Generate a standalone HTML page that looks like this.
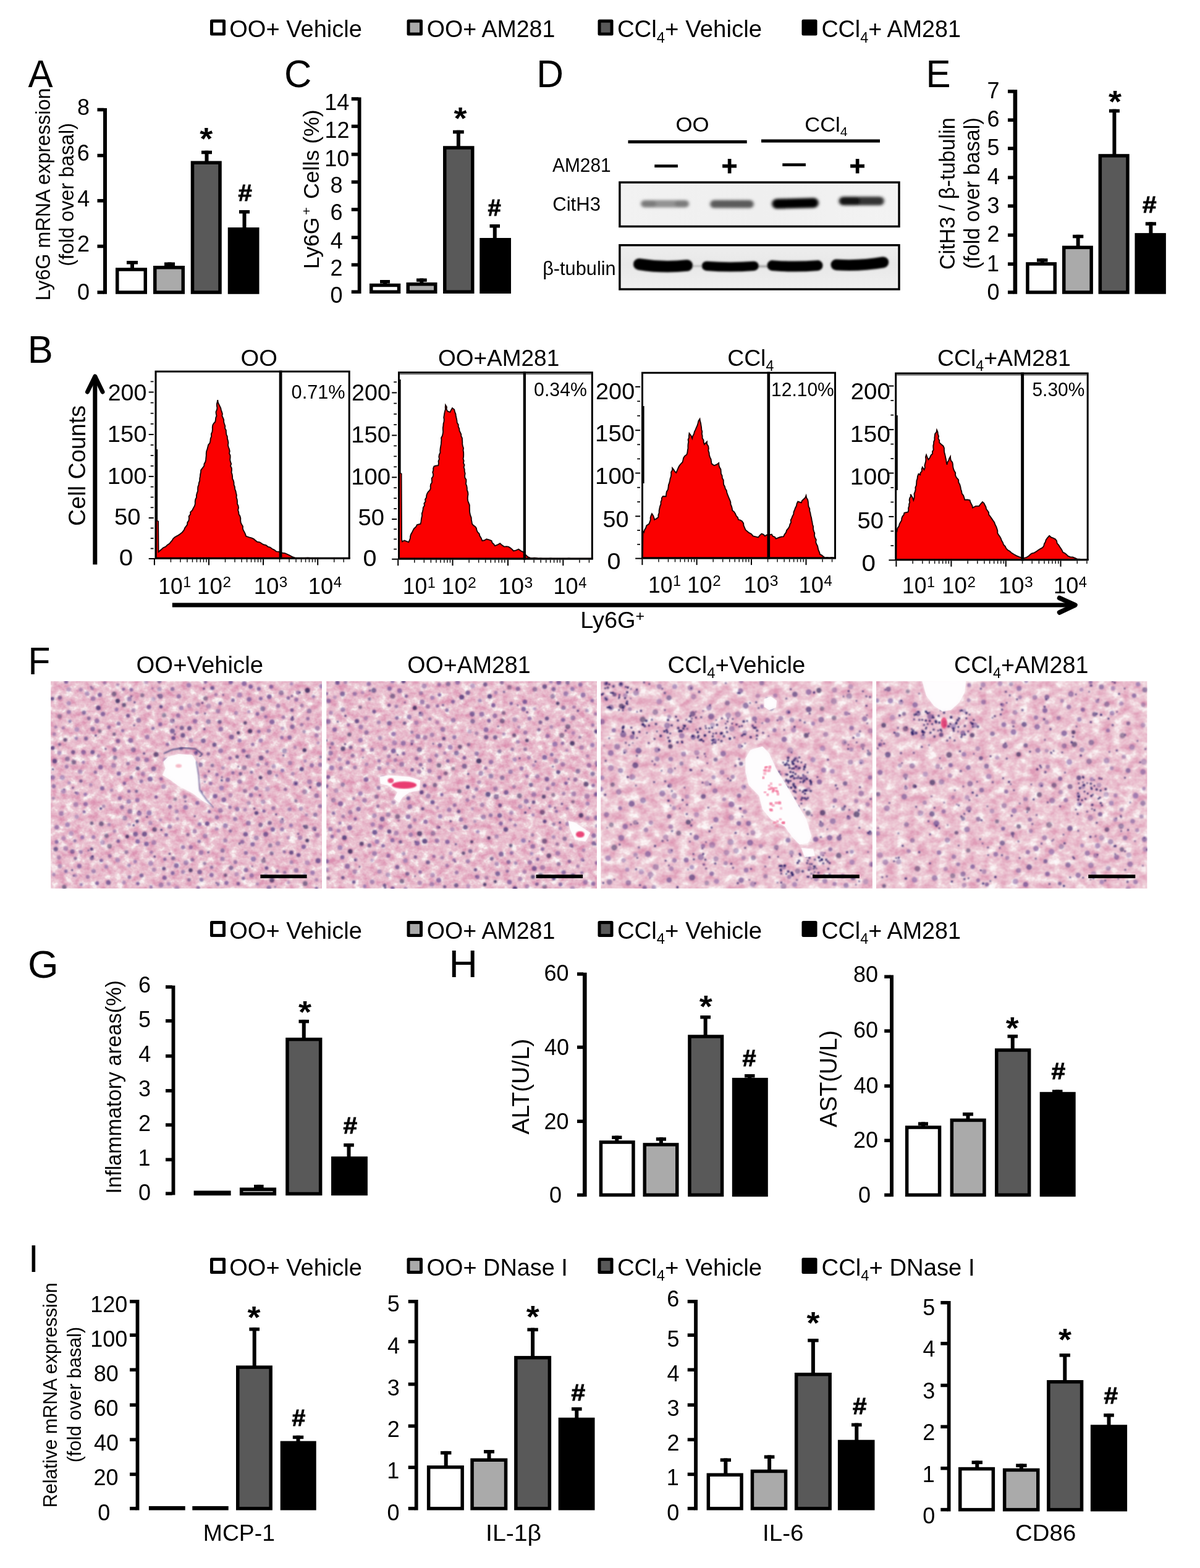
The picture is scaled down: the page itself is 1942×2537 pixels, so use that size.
<!DOCTYPE html>
<html lang="en"><head><meta charset="utf-8"><title>Figure</title>
<style>html,body{margin:0;padding:0;background:#fff}svg{display:block}text{font-family:'Liberation Sans', Arial, Helvetica, sans-serif;fill:#000}</style></head><body>
<svg width="1942" height="2537" viewBox="0 0 1942 2537">
<rect width="1942" height="2537" fill="#fff"/>
<rect x="340" y="31.6" width="25" height="26" rx="2.5" fill="#000"/>
<rect x="345" y="36.6" width="15" height="16" fill="#ffffff"/>
<text transform="translate(371.29 60.4) scale(1.0094 1.0350)" font-size="37.7">OO+ Vehicle</text>
<rect x="658.5" y="31.6" width="25.5" height="26" rx="2.5" fill="#000"/>
<rect x="663.5" y="36.6" width="15.5" height="16" fill="#aaaaaa"/>
<text transform="translate(690.81 60.4) scale(0.9957 1.0350)" font-size="37.7">OO+ AM281</text>
<rect x="967.5" y="31.6" width="25" height="26" rx="2.5" fill="#000"/>
<rect x="972.5" y="36.6" width="15" height="16" fill="#595959"/>
<text transform="translate(998.88 60.4) scale(1.0188 1.0350)" font-size="37.7">CCl<tspan font-size="23.37" dy="8.11">4</tspan><tspan dy="-8.11">+ Vehicle</tspan></text>
<rect x="1297.5" y="31.6" width="25" height="26" rx="2.5" fill="#000"/>
<text transform="translate(1329.42 60.4) scale(0.9995 1.0350)" font-size="37.7">CCl<tspan font-size="23.37" dy="8.11">4</tspan><tspan dy="-8.11">+ AM281</tspan></text>
<rect x="340" y="1490.1" width="25" height="26" rx="2.5" fill="#000"/>
<rect x="345" y="1495.1" width="15" height="16" fill="#ffffff"/>
<text transform="translate(371.29 1518.9) scale(1.0094 1.0350)" font-size="37.7">OO+ Vehicle</text>
<rect x="658.5" y="1490.1" width="25.5" height="26" rx="2.5" fill="#000"/>
<rect x="663.5" y="1495.1" width="15.5" height="16" fill="#aaaaaa"/>
<text transform="translate(690.81 1518.9) scale(0.9957 1.0350)" font-size="37.7">OO+ AM281</text>
<rect x="967.5" y="1490.1" width="25" height="26" rx="2.5" fill="#000"/>
<rect x="972.5" y="1495.1" width="15" height="16" fill="#595959"/>
<text transform="translate(998.88 1518.9) scale(1.0188 1.0350)" font-size="37.7">CCl<tspan font-size="23.37" dy="8.11">4</tspan><tspan dy="-8.11">+ Vehicle</tspan></text>
<rect x="1297.5" y="1490.1" width="25" height="26" rx="2.5" fill="#000"/>
<text transform="translate(1329.42 1518.9) scale(0.9995 1.0350)" font-size="37.7">CCl<tspan font-size="23.37" dy="8.11">4</tspan><tspan dy="-8.11">+ AM281</tspan></text>
<rect x="340" y="2035.1" width="25" height="26" rx="2.5" fill="#000"/>
<rect x="345" y="2040.1" width="15" height="16" fill="#ffffff"/>
<text transform="translate(371.29 2063.9) scale(1.0094 1.0350)" font-size="37.7">OO+ Vehicle</text>
<rect x="658.5" y="2035.1" width="25.5" height="26" rx="2.5" fill="#000"/>
<rect x="663.5" y="2040.1" width="15.5" height="16" fill="#aaaaaa"/>
<text transform="translate(690.6 2063.9) scale(1.0043 1.0350)" font-size="37.7">OO+ DNase I</text>
<rect x="967.5" y="2035.1" width="25" height="26" rx="2.5" fill="#000"/>
<rect x="972.5" y="2040.1" width="15" height="16" fill="#595959"/>
<text transform="translate(998.88 2063.9) scale(1.0188 1.0350)" font-size="37.7">CCl<tspan font-size="23.37" dy="8.11">4</tspan><tspan dy="-8.11">+ Vehicle</tspan></text>
<rect x="1297.5" y="2035.1" width="25" height="26" rx="2.5" fill="#000"/>
<text transform="translate(1329.59 2063.9) scale(1.0143 1.0350)" font-size="37.7">CCl<tspan font-size="23.37" dy="8.11">4</tspan><tspan dy="-8.11">+ DNase I</tspan></text>
<text transform="translate(45.5 140.75) scale(1.0025 1.0350)" font-size="60">A</text>
<text transform="translate(459.93 141.2) scale(1.0236 1.0350)" font-size="60">C</text>
<text transform="translate(868.16 141) scale(1.0084 1.0350)" font-size="60">D</text>
<text transform="translate(1498.5 140.8) scale(1.0000 1.0350)" font-size="60">E</text>
<text transform="translate(44.78 587) scale(1.0249 1.0350)" font-size="60">B</text>
<text transform="translate(45.5 1090.8) scale(0.9796 1.0350)" font-size="60">F</text>
<text transform="translate(45.01 1581.5) scale(1.0636 1.0350)" font-size="60">G</text>
<text transform="translate(726.56 1581.4) scale(1.0714 1.0350)" font-size="60">H</text>
<text transform="translate(45.9 2057.7) scale(1.0000 1.0350)" font-size="60">I</text>
<rect x="167" y="175" width="6" height="300.75" fill="#000000"/>
<rect x="157.5" y="174.75" width="10.5" height="5.5" fill="#000000"/>
<rect x="157.5" y="248.85" width="10.5" height="5.5" fill="#000000"/>
<rect x="157.5" y="322.05" width="10.5" height="5.5" fill="#000000"/>
<rect x="157.5" y="395.75" width="10.5" height="5.5" fill="#000000"/>
<rect x="157.5" y="470.25" width="10.5" height="5.5" fill="#000000"/>
<text transform="translate(124.92 186.36) scale(1.0000 1.0350)" font-size="36">8</text>
<text transform="translate(124.83 259.86) scale(1.0000 1.0350)" font-size="36">6</text>
<text transform="translate(125.19 334.46) scale(1.0000 1.0350)" font-size="36">4</text>
<text transform="translate(125.01 407.36) scale(1.0000 1.0350)" font-size="36">2</text>
<text transform="translate(124.92 484.86) scale(1.0000 1.0350)" font-size="36">0</text>
<rect x="187" y="433.25" width="51" height="42.5" fill="#000000"/>
<rect x="192.5" y="438.75" width="40" height="31.5" fill="#ffffff"/>
<rect x="248" y="430" width="51" height="45.75" fill="#000000"/>
<rect x="253.5" y="435.5" width="40" height="34.75" fill="#aaaaaa"/>
<rect x="308.75" y="260.5" width="50" height="215.25" fill="#000000"/>
<rect x="314.25" y="266" width="39" height="204.25" fill="#595959"/>
<rect x="368.75" y="368" width="50.75" height="107.75" fill="#000000"/>
<rect x="205" y="422" width="18" height="5.5" fill="#000000"/>
<rect x="211" y="422" width="6" height="12.25" fill="#000000"/>
<rect x="266" y="424.5" width="17" height="5.5" fill="#000000"/>
<rect x="271.5" y="424.5" width="6" height="6.5" fill="#000000"/>
<rect x="326" y="243.75" width="17" height="5.5" fill="#000000"/>
<rect x="331.5" y="243.75" width="6" height="17.75" fill="#000000"/>
<rect x="387" y="340" width="17" height="5.5" fill="#000000"/>
<rect x="392.5" y="340" width="6" height="29" fill="#000000"/>
<text transform="translate(323.22 242.11) scale(1.0000 0.9300)" font-size="54" font-weight="bold">*</text>
<text transform="translate(385.4 324.5) scale(1.0959 1.0350)" font-size="36.5" font-weight="bold" stroke="#000" stroke-width="0.9">#</text>
<text transform="translate(81.25 486.59) rotate(-90) scale(1.0114 1.0350)" font-size="32">Ly6G mRNA expression</text>
<text transform="translate(118.75 430.69) rotate(-90) scale(1.0102 1.0350)" font-size="32">(fold over basal)</text>
<rect x="578.75" y="157.5" width="5.75" height="317.5" fill="#000000"/>
<rect x="568.75" y="157.25" width="11" height="5.5" fill="#000000"/>
<rect x="568.75" y="201.65" width="11" height="5.5" fill="#000000"/>
<rect x="568.75" y="247" width="11" height="5.5" fill="#000000"/>
<rect x="568.75" y="291.75" width="11" height="5.5" fill="#000000"/>
<rect x="568.75" y="336.25" width="11" height="5.5" fill="#000000"/>
<rect x="568.75" y="381.5" width="11" height="5.5" fill="#000000"/>
<rect x="568.75" y="425.75" width="11" height="5.5" fill="#000000"/>
<rect x="568.75" y="469.5" width="11" height="5.5" fill="#000000"/>
<text transform="translate(525.21 177.96) scale(1.0000 1.0350)" font-size="36">14</text>
<text transform="translate(525.57 222.96) scale(1.0000 1.0350)" font-size="36">12</text>
<text transform="translate(525.3 268.56) scale(1.0000 1.0350)" font-size="36">10</text>
<text transform="translate(534.52 311.96) scale(1.0000 1.0350)" font-size="36">8</text>
<text transform="translate(534.43 355.86) scale(1.0000 1.0350)" font-size="36">6</text>
<text transform="translate(534.79 401.71) scale(1.0000 1.0350)" font-size="36">4</text>
<text transform="translate(534.61 445.96) scale(1.0000 1.0350)" font-size="36">2</text>
<text transform="translate(534.52 489.96) scale(1.0000 1.0350)" font-size="36">0</text>
<rect x="598" y="458.75" width="50.25" height="16.25" fill="#000000"/>
<rect x="603.5" y="464.25" width="39.25" height="5.25" fill="#ffffff"/>
<rect x="657.5" y="457" width="50" height="18" fill="#000000"/>
<rect x="663" y="462.5" width="39" height="7" fill="#aaaaaa"/>
<rect x="717" y="236.25" width="50.5" height="238.75" fill="#000000"/>
<rect x="722.5" y="241.75" width="39.5" height="227.75" fill="#595959"/>
<rect x="776.25" y="385" width="50.75" height="90" fill="#000000"/>
<rect x="615" y="453" width="16" height="5.5" fill="#000000"/>
<rect x="620" y="453" width="6" height="6.75" fill="#000000"/>
<rect x="674" y="450.5" width="16.75" height="5.5" fill="#000000"/>
<rect x="679.38" y="450.5" width="6" height="7.5" fill="#000000"/>
<rect x="733" y="210.75" width="17.75" height="5.5" fill="#000000"/>
<rect x="738.88" y="210.75" width="6" height="26.5" fill="#000000"/>
<rect x="792.5" y="363" width="16.5" height="5.5" fill="#000000"/>
<rect x="797.75" y="363" width="6" height="23" fill="#000000"/>
<text transform="translate(734.47 209.49) scale(1.0000 0.9300)" font-size="54" font-weight="bold">*</text>
<text transform="translate(789.43 348.75) scale(1.0437 1.0350)" font-size="36.5" font-weight="bold" stroke="#000" stroke-width="0.9">#</text>
<text transform="translate(515.5 435.36) rotate(-90) scale(1.0656 1.0350)" font-size="33.5">Ly6G<tspan font-size="20.1" dy="-11.72" dx="3.5">+</tspan><tspan dy="11.72" dx="3"> Cells (%)</tspan></text>
<rect x="1639.6" y="145.2" width="6.6" height="330.5" fill="#000000"/>
<rect x="1631" y="145.15" width="9.6" height="5.5" fill="#000000"/>
<rect x="1631" y="191.45" width="9.6" height="5.5" fill="#000000"/>
<rect x="1631" y="237.45" width="9.6" height="5.5" fill="#000000"/>
<rect x="1631" y="284.55" width="9.6" height="5.5" fill="#000000"/>
<rect x="1631" y="330.55" width="9.6" height="5.5" fill="#000000"/>
<rect x="1631" y="377.65" width="9.6" height="5.5" fill="#000000"/>
<rect x="1631" y="424.45" width="9.6" height="5.5" fill="#000000"/>
<rect x="1631" y="470.15" width="9.6" height="5.5" fill="#000000"/>
<text transform="translate(1597.61 158.66) scale(1.0000 1.0350)" font-size="36">7</text>
<text transform="translate(1597.43 204.66) scale(1.0000 1.0350)" font-size="36">6</text>
<text transform="translate(1597.61 250.96) scale(1.0000 1.0350)" font-size="36">5</text>
<text transform="translate(1597.79 298.36) scale(1.0000 1.0350)" font-size="36">4</text>
<text transform="translate(1597.61 344.96) scale(1.0000 1.0350)" font-size="36">3</text>
<text transform="translate(1597.61 391.46) scale(1.0000 1.0350)" font-size="36">2</text>
<text transform="translate(1597.07 439.36) scale(1.0000 1.0350)" font-size="36">1</text>
<text transform="translate(1597.52 485.36) scale(1.0000 1.0350)" font-size="36">0</text>
<rect x="1660.2" y="424.2" width="49.8" height="51.5" fill="#000000"/>
<rect x="1665.7" y="429.7" width="38.8" height="40.5" fill="#ffffff"/>
<rect x="1719" y="397.6" width="49.9" height="78.1" fill="#000000"/>
<rect x="1724.5" y="403.1" width="38.9" height="67.1" fill="#aaaaaa"/>
<rect x="1777.6" y="249.2" width="50.1" height="226.5" fill="#000000"/>
<rect x="1783.1" y="254.7" width="39.1" height="215.5" fill="#595959"/>
<rect x="1836.5" y="377.1" width="50.4" height="98.6" fill="#000000"/>
<rect x="1678" y="418.2" width="17.5" height="5.5" fill="#000000"/>
<rect x="1683.75" y="418.2" width="6" height="7" fill="#000000"/>
<rect x="1736" y="379.8" width="17.3" height="5.5" fill="#000000"/>
<rect x="1741.65" y="379.8" width="6" height="18.8" fill="#000000"/>
<rect x="1794.9" y="176.7" width="17" height="5.5" fill="#000000"/>
<rect x="1800.4" y="176.7" width="6" height="73.5" fill="#000000"/>
<rect x="1853.8" y="359.3" width="17.2" height="5.5" fill="#000000"/>
<rect x="1859.4" y="359.3" width="6" height="18.8" fill="#000000"/>
<text transform="translate(1793.97 181.76) scale(1.0000 0.9300)" font-size="54" font-weight="bold">*</text>
<text transform="translate(1849.09 344.2) scale(1.1115 1.0350)" font-size="36.5" font-weight="bold" stroke="#000" stroke-width="0.9">#</text>
<text transform="translate(1545 436.31) rotate(-90) scale(1.0193 1.0350)" font-size="33.6">CitH3 / β-tubulin</text>
<text transform="translate(1585.4 435.25) rotate(-90) scale(1.0177 1.0350)" font-size="33.6">(fold over basal)</text>
<rect x="277.6" y="1594.6" width="5.8" height="338.9" fill="#000000"/>
<rect x="268" y="1594.15" width="10.6" height="5.5" fill="#000000"/>
<rect x="268" y="1649.05" width="10.6" height="5.5" fill="#000000"/>
<rect x="268" y="1705.95" width="10.6" height="5.5" fill="#000000"/>
<rect x="268" y="1762.05" width="10.6" height="5.5" fill="#000000"/>
<rect x="268" y="1817.35" width="10.6" height="5.5" fill="#000000"/>
<rect x="268" y="1873.55" width="10.6" height="5.5" fill="#000000"/>
<rect x="268" y="1928.45" width="10.6" height="5.5" fill="#000000"/>
<text transform="translate(223.93 1605.96) scale(1.0000 1.0350)" font-size="36">6</text>
<text transform="translate(224.11 1661.66) scale(1.0000 1.0350)" font-size="36">5</text>
<text transform="translate(224.29 1717.86) scale(1.0000 1.0350)" font-size="36">4</text>
<text transform="translate(224.11 1773.96) scale(1.0000 1.0350)" font-size="36">3</text>
<text transform="translate(224.11 1830.36) scale(1.0000 1.0350)" font-size="36">2</text>
<text transform="translate(223.57 1886.16) scale(1.0000 1.0350)" font-size="36">1</text>
<text transform="translate(224.02 1942.26) scale(1.0000 1.0350)" font-size="36">0</text>
<rect x="313.6" y="1926.5" width="60" height="7.8" fill="#000000"/>
<rect x="387.9" y="1921.5" width="59.2" height="12.8" fill="#000000"/>
<rect x="393.4" y="1927" width="48.2" height="1.8" fill="#aaaaaa"/>
<rect x="462.2" y="1678.9" width="59.2" height="255.4" fill="#000000"/>
<rect x="467.7" y="1684.4" width="48.2" height="244.4" fill="#595959"/>
<rect x="536" y="1871.2" width="58.9" height="63.1" fill="#000000"/>
<rect x="411" y="1916.9" width="15.6" height="5.5" fill="#000000"/>
<rect x="415.8" y="1916.9" width="6" height="5.6" fill="#000000"/>
<rect x="483.5" y="1649.9" width="16.5" height="5.5" fill="#000000"/>
<rect x="488.75" y="1649.9" width="6" height="30" fill="#000000"/>
<rect x="556.2" y="1850" width="16.6" height="5.5" fill="#000000"/>
<rect x="561.5" y="1850" width="6" height="22.2" fill="#000000"/>
<text transform="translate(482.97 1654.96) scale(1.0000 0.9300)" font-size="54" font-weight="bold">*</text>
<text transform="translate(555.59 1833.7) scale(1.1115 1.0350)" font-size="36.5" font-weight="bold" stroke="#000" stroke-width="0.9">#</text>
<text transform="translate(195.6 1931.58) rotate(-90) scale(1.0144 1.0350)" font-size="33.7">Inflammatory areas(%)</text>
<rect x="943" y="1573.7" width="6.6" height="362.5" fill="#000000"/>
<rect x="934" y="1573.25" width="10" height="5.5" fill="#000000"/>
<rect x="934" y="1691.65" width="10" height="5.5" fill="#000000"/>
<rect x="934" y="1811.55" width="10" height="5.5" fill="#000000"/>
<rect x="934" y="1930.75" width="10" height="5.5" fill="#000000"/>
<text transform="translate(880.45 1586.66) scale(1.0000 1.0350)" font-size="36">60</text>
<text transform="translate(880.99 1707.36) scale(1.0000 1.0350)" font-size="36">40</text>
<text transform="translate(880.45 1827.26) scale(1.0000 1.0350)" font-size="36">20</text>
<text transform="translate(888.92 1946.46) scale(1.0000 1.0350)" font-size="36">0</text>
<rect x="969.7" y="1845.3" width="58" height="90.9" fill="#000000"/>
<rect x="975.2" y="1850.8" width="47" height="79.9" fill="#ffffff"/>
<rect x="1040.5" y="1849.2" width="58" height="87" fill="#000000"/>
<rect x="1046" y="1854.7" width="47" height="76" fill="#aaaaaa"/>
<rect x="1113.2" y="1674.3" width="58.1" height="261.9" fill="#000000"/>
<rect x="1118.7" y="1679.8" width="47.1" height="250.9" fill="#595959"/>
<rect x="1184.8" y="1743.9" width="58" height="192.3" fill="#000000"/>
<rect x="990.2" y="1837.6" width="16.2" height="5.5" fill="#000000"/>
<rect x="995.3" y="1837.6" width="6" height="8.7" fill="#000000"/>
<rect x="1061.8" y="1840.3" width="16.2" height="5.5" fill="#000000"/>
<rect x="1066.9" y="1840.3" width="6" height="9.9" fill="#000000"/>
<rect x="1133.3" y="1643" width="16.7" height="5.5" fill="#000000"/>
<rect x="1138.65" y="1643" width="6" height="32.3" fill="#000000"/>
<rect x="1205" y="1738" width="16.5" height="5.5" fill="#000000"/>
<rect x="1210.25" y="1738" width="6" height="6.9" fill="#000000"/>
<text transform="translate(1131.67 1646.26) scale(1.0000 0.9300)" font-size="54" font-weight="bold">*</text>
<text transform="translate(1201.61 1725.4) scale(1.0855 1.0350)" font-size="36.5" font-weight="bold" stroke="#000" stroke-width="0.9">#</text>
<text transform="translate(855.5 1835.6) rotate(-90) scale(1.0395 1.0350)" font-size="37.5">ALT(U/L)</text>
<rect x="1440.1" y="1577.6" width="5.9" height="358.6" fill="#000000"/>
<rect x="1431.2" y="1577.55" width="9.9" height="5.5" fill="#000000"/>
<rect x="1431.2" y="1665.35" width="9.9" height="5.5" fill="#000000"/>
<rect x="1431.2" y="1754.35" width="9.9" height="5.5" fill="#000000"/>
<rect x="1431.2" y="1842.55" width="9.9" height="5.5" fill="#000000"/>
<rect x="1431.2" y="1930.75" width="9.9" height="5.5" fill="#000000"/>
<text transform="translate(1381.04 1589.36) scale(1.0000 1.0350)" font-size="36">80</text>
<text transform="translate(1380.95 1679.16) scale(1.0000 1.0350)" font-size="36">60</text>
<text transform="translate(1381.49 1769.26) scale(1.0000 1.0350)" font-size="36">40</text>
<text transform="translate(1380.95 1857.46) scale(1.0000 1.0350)" font-size="36">20</text>
<text transform="translate(1388.92 1946.46) scale(1.0000 1.0350)" font-size="36">0</text>
<rect x="1464.9" y="1821.3" width="58.4" height="114.9" fill="#000000"/>
<rect x="1470.4" y="1826.8" width="47.4" height="103.9" fill="#ffffff"/>
<rect x="1537.6" y="1809.7" width="58.1" height="126.5" fill="#000000"/>
<rect x="1543.1" y="1815.2" width="47.1" height="115.5" fill="#aaaaaa"/>
<rect x="1610" y="1696.3" width="58.4" height="239.9" fill="#000000"/>
<rect x="1615.5" y="1701.8" width="47.4" height="228.9" fill="#595959"/>
<rect x="1682.7" y="1766.8" width="58" height="169.4" fill="#000000"/>
<rect x="1486" y="1815.5" width="16" height="5.5" fill="#000000"/>
<rect x="1491" y="1815.5" width="6" height="6.8" fill="#000000"/>
<rect x="1558" y="1800" width="17" height="5.5" fill="#000000"/>
<rect x="1563.5" y="1800" width="6" height="10.7" fill="#000000"/>
<rect x="1630.5" y="1674" width="16.5" height="5.5" fill="#000000"/>
<rect x="1635.75" y="1674" width="6" height="23.3" fill="#000000"/>
<rect x="1703" y="1763.3" width="16.5" height="5.5" fill="#000000"/>
<rect x="1708.25" y="1763.3" width="6" height="4.5" fill="#000000"/>
<text transform="translate(1627.67 1681.06) scale(1.0000 0.9300)" font-size="54" font-weight="bold">*</text>
<text transform="translate(1701.39 1745.5) scale(1.1115 1.0350)" font-size="36.5" font-weight="bold" stroke="#000" stroke-width="0.9">#</text>
<text transform="translate(1353.8 1824) rotate(-90) scale(1.0050 1.0350)" font-size="37.5">AST(U/L)</text>
<rect x="219.6" y="2103" width="5.8" height="340.5" fill="#000000"/>
<rect x="210" y="2103.05" width="10.6" height="5.5" fill="#000000"/>
<rect x="210" y="2157.45" width="10.6" height="5.5" fill="#000000"/>
<rect x="210" y="2213.55" width="10.6" height="5.5" fill="#000000"/>
<rect x="210" y="2270.45" width="10.6" height="5.5" fill="#000000"/>
<rect x="210" y="2326.55" width="10.6" height="5.5" fill="#000000"/>
<rect x="210" y="2382.65" width="10.6" height="5.5" fill="#000000"/>
<rect x="210" y="2437.95" width="10.6" height="5.5" fill="#000000"/>
<text transform="translate(146.31 2122.96) scale(1.0000 1.0350)" font-size="36">120</text>
<text transform="translate(146.31 2178.96) scale(1.0000 1.0350)" font-size="36">100</text>
<text transform="translate(151.64 2235.06) scale(1.0000 1.0350)" font-size="36">80</text>
<text transform="translate(151.55 2291.16) scale(1.0000 1.0350)" font-size="36">60</text>
<text transform="translate(152.09 2347.26) scale(1.0000 1.0350)" font-size="36">40</text>
<text transform="translate(151.55 2403.36) scale(1.0000 1.0350)" font-size="36">20</text>
<text transform="translate(158.22 2460.26) scale(1.0000 1.0350)" font-size="36">0</text>
<rect x="240.9" y="2436.9" width="58.8" height="6.6" fill="#000000"/>
<rect x="311.3" y="2436.9" width="58.4" height="6.6" fill="#000000"/>
<rect x="382" y="2209.4" width="58.9" height="234.1" fill="#000000"/>
<rect x="387.5" y="2214.9" width="47.9" height="223.1" fill="#595959"/>
<rect x="453.7" y="2331.6" width="58" height="111.9" fill="#000000"/>
<rect x="403.4" y="2147.9" width="16.6" height="5.5" fill="#000000"/>
<rect x="408.7" y="2147.9" width="6" height="62.5" fill="#000000"/>
<rect x="473.8" y="2322.7" width="17.4" height="5.5" fill="#000000"/>
<rect x="479.5" y="2322.7" width="6" height="9.9" fill="#000000"/>
<text transform="translate(400.57 2148.86) scale(1.0000 0.9300)" font-size="54" font-weight="bold">*</text>
<text transform="translate(472.41 2307.3) scale(1.0698 1.0350)" font-size="36.5" font-weight="bold" stroke="#000" stroke-width="0.9">#</text>
<text transform="translate(91.9 2439.35) rotate(-90) scale(1.0176 1.0350)" font-size="30.1">Relative mRNA expression</text>
<text transform="translate(131.4 2366.34) rotate(-90) scale(1.0181 1.0350)" font-size="30.1">(fold over basal)</text>
<text transform="translate(328.81 2493) scale(1.0367 1.0350)" font-size="36">MCP-1</text>
<rect x="670.8" y="2103" width="5.8" height="340.5" fill="#000000"/>
<rect x="660.7" y="2103.05" width="11.1" height="5.5" fill="#000000"/>
<rect x="660.7" y="2167.95" width="11.1" height="5.5" fill="#000000"/>
<rect x="660.7" y="2236.85" width="11.1" height="5.5" fill="#000000"/>
<rect x="660.7" y="2304.55" width="11.1" height="5.5" fill="#000000"/>
<rect x="660.7" y="2371.45" width="11.1" height="5.5" fill="#000000"/>
<rect x="660.7" y="2437.95" width="11.1" height="5.5" fill="#000000"/>
<text transform="translate(626.71 2121.76) scale(1.0000 1.0350)" font-size="36">5</text>
<text transform="translate(626.89 2189.86) scale(1.0000 1.0350)" font-size="36">4</text>
<text transform="translate(626.71 2257.56) scale(1.0000 1.0350)" font-size="36">3</text>
<text transform="translate(626.71 2324.86) scale(1.0000 1.0350)" font-size="36">2</text>
<text transform="translate(626.17 2391.76) scale(1.0000 1.0350)" font-size="36">1</text>
<text transform="translate(626.62 2460.26) scale(1.0000 1.0350)" font-size="36">0</text>
<rect x="690.9" y="2371.1" width="60" height="72.4" fill="#000000"/>
<rect x="696.4" y="2376.6" width="49" height="61.4" fill="#ffffff"/>
<rect x="761.3" y="2359.5" width="60" height="84" fill="#000000"/>
<rect x="766.8" y="2365" width="49" height="73" fill="#aaaaaa"/>
<rect x="832.1" y="2193.9" width="60" height="249.6" fill="#000000"/>
<rect x="837.6" y="2199.4" width="49" height="238.6" fill="#595959"/>
<rect x="903.7" y="2293.7" width="58.8" height="149.8" fill="#000000"/>
<rect x="713" y="2347.9" width="17.4" height="5.5" fill="#000000"/>
<rect x="718.7" y="2347.9" width="6" height="24.2" fill="#000000"/>
<rect x="783" y="2346" width="17" height="5.5" fill="#000000"/>
<rect x="788.5" y="2346" width="6" height="14.5" fill="#000000"/>
<rect x="853.4" y="2148.6" width="17.4" height="5.5" fill="#000000"/>
<rect x="859.1" y="2148.6" width="6" height="46.3" fill="#000000"/>
<rect x="925" y="2277" width="16.6" height="5.5" fill="#000000"/>
<rect x="930.3" y="2277" width="6" height="17.7" fill="#000000"/>
<text transform="translate(851.77 2148.06) scale(1.0000 0.9300)" font-size="54" font-weight="bold">*</text>
<text transform="translate(924.39 2265.5) scale(1.1115 1.0350)" font-size="36.5" font-weight="bold" stroke="#000" stroke-width="0.9">#</text>
<text transform="translate(786.07 2493) scale(1.0893 1.0350)" font-size="36">IL-1β</text>
<rect x="1123.1" y="2103" width="5.9" height="340.5" fill="#000000"/>
<rect x="1112.7" y="2103.05" width="11.4" height="5.5" fill="#000000"/>
<rect x="1112.7" y="2157.45" width="11.4" height="5.5" fill="#000000"/>
<rect x="1112.7" y="2213.55" width="11.4" height="5.5" fill="#000000"/>
<rect x="1112.7" y="2270.45" width="11.4" height="5.5" fill="#000000"/>
<rect x="1112.7" y="2326.55" width="11.4" height="5.5" fill="#000000"/>
<rect x="1112.7" y="2382.65" width="11.4" height="5.5" fill="#000000"/>
<rect x="1112.7" y="2437.95" width="11.4" height="5.5" fill="#000000"/>
<text transform="translate(1079.23 2114.46) scale(1.0000 1.0350)" font-size="36">6</text>
<text transform="translate(1079.41 2178.96) scale(1.0000 1.0350)" font-size="36">5</text>
<text transform="translate(1079.59 2235.06) scale(1.0000 1.0350)" font-size="36">4</text>
<text transform="translate(1079.41 2291.16) scale(1.0000 1.0350)" font-size="36">3</text>
<text transform="translate(1079.41 2347.26) scale(1.0000 1.0350)" font-size="36">2</text>
<text transform="translate(1078.87 2403.36) scale(1.0000 1.0350)" font-size="36">1</text>
<text transform="translate(1079.32 2460.26) scale(1.0000 1.0350)" font-size="36">0</text>
<rect x="1143.6" y="2383.5" width="59.2" height="60" fill="#000000"/>
<rect x="1149.1" y="2389" width="48.2" height="49" fill="#ffffff"/>
<rect x="1214.7" y="2377.7" width="59.6" height="65.8" fill="#000000"/>
<rect x="1220.2" y="2383.2" width="48.6" height="54.8" fill="#aaaaaa"/>
<rect x="1285.9" y="2221" width="60" height="222.5" fill="#000000"/>
<rect x="1291.4" y="2226.5" width="49" height="211.5" fill="#595959"/>
<rect x="1355.9" y="2329.7" width="59.6" height="113.8" fill="#000000"/>
<rect x="1165.7" y="2359.5" width="17.3" height="5.5" fill="#000000"/>
<rect x="1171.35" y="2359.5" width="6" height="25" fill="#000000"/>
<rect x="1236.8" y="2354.5" width="16.6" height="5.5" fill="#000000"/>
<rect x="1242.1" y="2354.5" width="6" height="24.2" fill="#000000"/>
<rect x="1307.2" y="2166" width="17.4" height="5.5" fill="#000000"/>
<rect x="1312.9" y="2166" width="6" height="56" fill="#000000"/>
<rect x="1378" y="2302.6" width="16.6" height="5.5" fill="#000000"/>
<rect x="1383.3" y="2302.6" width="6" height="28.1" fill="#000000"/>
<text transform="translate(1305.47 2157.91) scale(1.0000 0.9300)" font-size="54" font-weight="bold">*</text>
<text transform="translate(1380.09 2288) scale(1.1115 1.0350)" font-size="36.5" font-weight="bold" stroke="#000" stroke-width="0.9">#</text>
<text transform="translate(1234.04 2493) scale(1.0692 1.0350)" font-size="36">IL-6</text>
<rect x="1532.7" y="2105" width="5.8" height="340.4" fill="#000000"/>
<rect x="1522.3" y="2104.95" width="11.4" height="5.5" fill="#000000"/>
<rect x="1522.3" y="2171.05" width="11.4" height="5.5" fill="#000000"/>
<rect x="1522.3" y="2238.75" width="11.4" height="5.5" fill="#000000"/>
<rect x="1522.3" y="2305.65" width="11.4" height="5.5" fill="#000000"/>
<rect x="1522.3" y="2372.95" width="11.4" height="5.5" fill="#000000"/>
<rect x="1522.3" y="2439.85" width="11.4" height="5.5" fill="#000000"/>
<text transform="translate(1493.31 2127.56) scale(1.0000 1.0350)" font-size="36">5</text>
<text transform="translate(1493.49 2195.26) scale(1.0000 1.0350)" font-size="36">4</text>
<text transform="translate(1493.31 2262.96) scale(1.0000 1.0350)" font-size="36">3</text>
<text transform="translate(1493.31 2329.96) scale(1.0000 1.0350)" font-size="36">2</text>
<text transform="translate(1492.77 2397.56) scale(1.0000 1.0350)" font-size="36">1</text>
<text transform="translate(1493.22 2465.26) scale(1.0000 1.0350)" font-size="36">0</text>
<rect x="1551" y="2373.8" width="59.1" height="71.6" fill="#000000"/>
<rect x="1556.5" y="2379.3" width="48.1" height="60.6" fill="#ffffff"/>
<rect x="1622.9" y="2375.7" width="59.6" height="69.7" fill="#000000"/>
<rect x="1628.4" y="2381.2" width="48.6" height="58.7" fill="#aaaaaa"/>
<rect x="1694.1" y="2233" width="59.2" height="212.4" fill="#000000"/>
<rect x="1699.6" y="2238.5" width="48.2" height="201.4" fill="#595959"/>
<rect x="1764.9" y="2305.3" width="59.2" height="140.1" fill="#000000"/>
<rect x="1572.6" y="2363.4" width="17.4" height="5.5" fill="#000000"/>
<rect x="1578.3" y="2363.4" width="6" height="11.4" fill="#000000"/>
<rect x="1644.2" y="2368.4" width="17.4" height="5.5" fill="#000000"/>
<rect x="1649.9" y="2368.4" width="6" height="8.3" fill="#000000"/>
<rect x="1714.6" y="2190" width="17.4" height="5.5" fill="#000000"/>
<rect x="1720.3" y="2190" width="6" height="44" fill="#000000"/>
<rect x="1786.2" y="2287.1" width="16.6" height="5.5" fill="#000000"/>
<rect x="1791.5" y="2287.1" width="6" height="19.2" fill="#000000"/>
<text transform="translate(1712.97 2185.06) scale(1.0000 0.9300)" font-size="54" font-weight="bold">*</text>
<text transform="translate(1786.39 2270.5) scale(1.1063 1.0350)" font-size="36.5" font-weight="bold" stroke="#000" stroke-width="0.9">#</text>
<text transform="translate(1643.08 2493) scale(1.0672 1.0350)" font-size="36">CD86</text>
<rect x="250.5" y="599.6" width="316.2" height="305.3" fill="#fff"/>
<path d="M252.5 902.7 L253.0 842.0 L256.1 843.5 L256.5 889.0 L256.6 893.0 L259.1 890.7 L261.7 888.6 L264.1 886.2 L267.9 884.6 L270.9 881.7 L274.3 879.5 L276.4 876.9 L278.6 874.5 L280.2 871.5 L282.8 869.3 L285.6 867.6 L288.5 866.1 L291.2 864.2 L295.0 861.2 L298.0 857.4 L299.1 854.2 L301.1 851.6 L303.1 848.9 L303.3 845.4 L305.4 842.3 L306.0 838.8 L305.7 835.2 L308.2 832.2 L308.2 828.6 L311.2 825.6 L313.0 821.9 L315.0 818.4 L315.9 815.0 L315.8 811.5 L316.3 808.0 L318.0 804.8 L317.9 801.3 L318.8 797.9 L320.1 794.6 L320.1 791.2 L320.3 787.7 L321.5 784.5 L322.0 781.1 L323.2 777.8 L323.2 774.3 L323.9 770.9 L324.2 767.5 L325.0 764.1 L325.2 760.7 L327.7 757.3 L330.3 753.9 L330.5 750.5 L332.4 747.3 L333.1 743.9 L333.4 740.5 L333.8 737.0 L333.8 733.5 L334.2 730.1 L335.4 726.8 L336.3 723.3 L337.2 719.7 L339.6 716.8 L340.4 713.2 L340.8 709.5 L342.2 706.0 L341.9 702.2 L343.5 698.6 L343.9 694.9 L343.8 691.2 L344.3 687.8 L345.9 685.0 L348.3 682.5 L348.9 679.3 L349.2 676.1 L350.5 672.9 L349.8 669.6 L349.5 666.3 L350.9 663.2 L351.5 660.0 L350.9 656.7 L350.9 653.4 L351.7 650.2 L352.3 647.1 L352.7 650.7 L354.1 654.0 L355.7 657.2 L357.2 660.2 L357.8 663.3 L358.9 666.4 L359.9 669.5 L359.4 672.9 L360.8 675.9 L362.1 679.2 L362.1 682.7 L363.1 686.0 L364.3 689.3 L364.0 692.9 L365.8 696.1 L365.9 699.6 L366.3 703.1 L367.8 706.3 L367.9 709.8 L368.9 713.1 L369.5 716.5 L368.9 720.2 L369.8 723.5 L371.0 726.8 L371.7 730.1 L371.0 733.6 L372.6 736.9 L372.6 740.3 L372.2 743.8 L372.9 747.2 L374.2 750.5 L373.0 754.0 L374.8 757.3 L375.0 760.7 L374.5 764.2 L375.6 767.5 L376.1 770.9 L376.1 774.3 L377.7 777.5 L378.5 780.9 L378.5 784.5 L379.9 787.7 L380.1 791.3 L381.4 794.6 L382.1 798.0 L382.9 801.4 L382.5 804.9 L383.7 808.2 L384.0 811.6 L383.9 815.1 L385.5 818.3 L386.0 821.7 L385.1 825.3 L386.2 828.6 L386.5 832.1 L388.4 835.2 L389.3 838.6 L389.2 842.2 L389.7 845.7 L391.3 848.9 L393.0 851.8 L392.8 855.4 L394.1 858.5 L395.7 861.4 L397.1 864.4 L398.1 867.6 L403.2 869.3 L406.9 870.3 L410.4 871.9 L413.4 874.4 L416.4 876.8 L420.4 877.3 L423.6 879.5 L426.8 881.3 L430.5 882.1 L433.5 884.6 L437.1 885.6 L440.4 888.0 L444.1 889.8 L447.3 892.4 L450.8 892.6 L454.0 894.3 L457.5 894.7 L461.1 895.1 L464.4 896.5 L467.7 898.1 L471.0 899.9 L474.5 901.5 L477.7 902.7 L481.2 902.7 L484.6 902.7 L487.9 902.7 L491.2 902.7 L494.5 902.7 L497.8 902.4 L501.1 902.7 L504.3 902.7 L507.6 902.6 L510.9 902.7 L514.2 902.7 L517.5 902.7 L520.8 902.7 L524.1 902.7 L527.3 902.7 L530.6 902.7 L533.9 902.7 L537.2 902.7 L540.5 902.7 L543.8 902.7 L547.0 902.7 L550.3 902.7 L553.6 902.7 L556.9 902.7 L560.2 902.7 L563.5 902.7 L566.7 902.7 L566.7 902.7 Z" fill="#fb0000" stroke="#1a0000" stroke-width="1.9" stroke-linejoin="miter"/>
<rect x="252.5" y="727" width="2.6" height="115" fill="#000"/>
<rect x="252.00" y="601.10" width="313.20" height="302.30" fill="none" stroke="#000" stroke-width="3"/>
<rect x="451.7" y="599.6" width="4.8" height="305.3" fill="#000"/>
<text transform="translate(471.57 645.4) scale(1.0242 1.0350)" font-size="30">0.71%</text>
<rect x="240.7" y="633.5" width="8" height="2" fill="#000"/>
<rect x="240.7" y="702" width="8" height="2" fill="#000"/>
<rect x="240.7" y="769.9" width="8" height="2" fill="#000"/>
<rect x="240.7" y="837" width="8" height="2" fill="#000"/>
<rect x="240.7" y="903" width="10.3" height="2" fill="#000"/>
<rect x="243.7" y="650.73" width="4.8" height="1.8" fill="#111"/>
<rect x="243.7" y="667.85" width="4.8" height="1.8" fill="#111"/>
<rect x="243.7" y="684.98" width="4.8" height="1.8" fill="#111"/>
<rect x="243.7" y="719.08" width="4.8" height="1.8" fill="#111"/>
<rect x="243.7" y="736.05" width="4.8" height="1.8" fill="#111"/>
<rect x="243.7" y="753.02" width="4.8" height="1.8" fill="#111"/>
<rect x="243.7" y="786.77" width="4.8" height="1.8" fill="#111"/>
<rect x="243.7" y="803.55" width="4.8" height="1.8" fill="#111"/>
<rect x="243.7" y="820.33" width="4.8" height="1.8" fill="#111"/>
<rect x="243.7" y="853.6" width="4.8" height="1.8" fill="#111"/>
<rect x="243.7" y="870.1" width="4.8" height="1.8" fill="#111"/>
<rect x="243.7" y="886.6" width="4.8" height="1.8" fill="#111"/>
<rect x="243.7" y="616.48" width="4.8" height="1.8" fill="#111"/>
<text transform="translate(174.72 648.16) scale(1.0443 1.0350)" font-size="36">200</text>
<text transform="translate(173.74 714.96) scale(1.0611 1.0350)" font-size="36">150</text>
<text transform="translate(173.74 783.16) scale(1.0611 1.0350)" font-size="36">100</text>
<text transform="translate(184.97 848.96) scale(1.0601 1.0350)" font-size="36">50</text>
<text transform="translate(192.71 915.16) scale(1.1200 1.0350)" font-size="36">0</text>
<rect x="248.9" y="904.9" width="2" height="9.5" fill="#000"/>
<rect x="275.67" y="904.9" width="1.5" height="4.8" fill="#111"/>
<rect x="291.18" y="904.9" width="1.5" height="4.8" fill="#111"/>
<rect x="302.19" y="904.9" width="1.5" height="4.8" fill="#111"/>
<rect x="310.73" y="904.9" width="1.5" height="4.8" fill="#111"/>
<rect x="317.71" y="904.9" width="1.5" height="4.8" fill="#111"/>
<rect x="323.6" y="904.9" width="1.5" height="4.8" fill="#111"/>
<rect x="328.71" y="904.9" width="1.5" height="4.8" fill="#111"/>
<rect x="333.22" y="904.9" width="1.5" height="4.8" fill="#111"/>
<rect x="337" y="904.9" width="2" height="9.5" fill="#000"/>
<rect x="363.77" y="904.9" width="1.5" height="4.8" fill="#111"/>
<rect x="379.28" y="904.9" width="1.5" height="4.8" fill="#111"/>
<rect x="390.29" y="904.9" width="1.5" height="4.8" fill="#111"/>
<rect x="398.83" y="904.9" width="1.5" height="4.8" fill="#111"/>
<rect x="405.81" y="904.9" width="1.5" height="4.8" fill="#111"/>
<rect x="411.7" y="904.9" width="1.5" height="4.8" fill="#111"/>
<rect x="416.81" y="904.9" width="1.5" height="4.8" fill="#111"/>
<rect x="421.32" y="904.9" width="1.5" height="4.8" fill="#111"/>
<rect x="425" y="904.9" width="2" height="9.5" fill="#000"/>
<rect x="451.77" y="904.9" width="1.5" height="4.8" fill="#111"/>
<rect x="467.28" y="904.9" width="1.5" height="4.8" fill="#111"/>
<rect x="478.29" y="904.9" width="1.5" height="4.8" fill="#111"/>
<rect x="486.83" y="904.9" width="1.5" height="4.8" fill="#111"/>
<rect x="493.81" y="904.9" width="1.5" height="4.8" fill="#111"/>
<rect x="499.7" y="904.9" width="1.5" height="4.8" fill="#111"/>
<rect x="504.81" y="904.9" width="1.5" height="4.8" fill="#111"/>
<rect x="509.32" y="904.9" width="1.5" height="4.8" fill="#111"/>
<rect x="513.2" y="904.9" width="2" height="9.5" fill="#000"/>
<rect x="539.97" y="904.9" width="1.5" height="4.8" fill="#111"/>
<rect x="555.48" y="904.9" width="1.5" height="4.8" fill="#111"/>
<text transform="translate(256.34 961) scale(0.9847 1.0350)" font-size="36">10<tspan font-size="23.76" dy="-10.44" dx="0.5">1</tspan></text>
<text transform="translate(319.04 961) scale(1.0212 1.0350)" font-size="36">10<tspan font-size="23.76" dy="-10.44" dx="0.5">2</tspan></text>
<text transform="translate(410.66 961) scale(1.0164 1.0350)" font-size="36">10<tspan font-size="23.76" dy="-10.44" dx="0.5">3</tspan></text>
<text transform="translate(498.87 961) scale(1.0116 1.0350)" font-size="36">10<tspan font-size="23.76" dy="-10.44" dx="0.5">4</tspan></text>
<text transform="translate(389.58 591.7) scale(1.0473 1.0350)" font-size="36.5">OO</text>
<rect x="644" y="601.2" width="315.8" height="304.5" fill="#fff"/>
<path d="M646.0 903.5 L646.5 765.0 L649.6 766.5 L650.0 872.4 L650.9 876.4 L654.5 874.5 L657.9 875.8 L661.3 877.2 L662.7 874.2 L663.9 871.1 L664.1 867.7 L665.1 864.5 L666.8 861.6 L668.2 858.6 L670.1 855.2 L673.2 852.5 L675.0 849.0 L680.5 847.6 L681.4 844.4 L681.8 841.0 L682.3 837.7 L683.1 834.4 L682.8 830.9 L683.9 827.7 L684.6 824.4 L684.9 821.0 L687.0 818.0 L686.4 814.4 L688.6 811.5 L688.1 807.9 L690.0 804.9 L690.3 801.5 L691.4 798.3 L693.1 795.5 L695.6 793.2 L696.9 790.1 L696.6 786.8 L697.1 783.5 L699.1 780.5 L698.9 777.2 L698.7 773.8 L700.8 770.8 L701.2 767.6 L700.2 764.1 L701.3 761.0 L701.2 757.7 L702.4 754.5 L705.7 753.5 L709.2 753.2 L709.9 749.7 L709.5 746.1 L711.0 742.7 L710.3 739.1 L710.9 735.6 L712.5 732.2 L712.3 728.7 L712.7 725.2 L713.3 721.7 L713.9 718.4 L714.1 715.1 L714.4 711.8 L714.1 708.4 L715.8 705.3 L716.6 702.1 L717.1 698.8 L716.9 695.4 L716.8 692.1 L717.4 688.8 L717.6 685.5 L718.5 682.2 L718.8 678.8 L718.2 675.4 L718.8 672.1 L719.3 668.7 L720.0 665.4 L720.9 662.2 L720.7 658.8 L721.0 655.4 L722.9 658.5 L722.6 662.3 L724.3 665.5 L728.4 666.9 L730.1 663.4 L732.0 660.1 L735.2 662.8 L736.0 666.4 L737.4 669.8 L737.8 673.5 L738.7 677.0 L739.4 680.6 L739.7 684.0 L741.7 687.0 L741.7 690.5 L743.2 693.6 L743.5 697.0 L746.2 702.5 L746.3 705.8 L747.9 708.8 L748.0 712.0 L748.3 715.2 L748.2 718.5 L748.9 721.7 L750.0 725.0 L749.5 728.5 L750.1 731.9 L750.2 735.3 L750.1 738.8 L749.5 742.3 L750.6 745.6 L749.9 749.1 L751.6 752.4 L750.5 756.0 L751.7 759.3 L751.7 762.7 L752.7 766.0 L752.1 769.5 L752.3 772.9 L754.4 776.0 L754.4 779.4 L753.9 782.9 L755.2 786.1 L755.8 789.5 L755.8 792.9 L757.1 796.3 L757.5 799.8 L756.9 803.4 L756.7 807.0 L757.2 810.5 L758.5 813.9 L759.8 817.3 L759.8 820.8 L759.9 824.4 L760.0 827.8 L760.5 831.1 L761.4 834.4 L762.7 837.6 L762.8 841.0 L763.5 844.3 L764.0 847.6 L766.1 850.1 L768.9 851.9 L770.8 854.5 L771.5 857.9 L772.9 860.9 L775.5 863.5 L776.3 866.8 L778.7 870.7 L780.4 875.0 L784.1 874.3 L787.3 872.3 L791.5 873.3 L795.5 875.0 L796.6 878.2 L799.1 880.5 L801.0 883.2 L805.2 881.5 L809.2 879.1 L812.4 882.1 L816.0 884.6 L819.4 884.1 L822.9 884.6 L825.9 886.6 L828.6 888.8 L831.1 891.4 L835.3 890.4 L839.3 888.7 L842.5 891.1 L846.1 892.8 L849.1 895.1 L851.1 898.3 L854.4 901.2 L858.5 902.9 L861.7 902.9 L865.0 902.6 L868.3 903.0 L871.5 903.5 L874.8 903.3 L878.1 903.5 L881.3 903.5 L884.6 903.5 L887.9 903.5 L891.2 903.3 L894.4 903.5 L897.7 903.5 L900.9 903.5 L904.2 903.5 L907.5 903.5 L910.8 903.5 L914.0 903.5 L917.3 903.5 L920.6 903.1 L923.8 903.5 L927.1 903.5 L930.4 903.5 L933.6 903.5 L936.9 903.5 L940.2 903.5 L943.4 903.5 L946.7 903.5 L950.0 903.5 L953.2 903.5 L956.5 903.5 L959.8 903.5 L959.8 903.5 Z" fill="#fb0000" stroke="#1a0000" stroke-width="1.9" stroke-linejoin="miter"/>
<rect x="646" y="614" width="2.6" height="151" fill="#000"/>
<rect x="645.50" y="602.70" width="312.80" height="301.50" fill="none" stroke="#000" stroke-width="3"/>
<rect x="647" y="604.4" width="309.8" height="1.8" fill="#6a6a6a"/>
<rect x="846.7" y="601.2" width="4.3" height="304.5" fill="#000"/>
<text transform="translate(864.09 640.9) scale(1.0085 1.0350)" font-size="30">0.34%</text>
<rect x="634.2" y="634.4" width="8" height="2" fill="#000"/>
<rect x="634.2" y="703.4" width="8" height="2" fill="#000"/>
<rect x="634.2" y="771.3" width="8" height="2" fill="#000"/>
<rect x="634.2" y="839" width="8" height="2" fill="#000"/>
<rect x="634.2" y="903.7" width="10.3" height="2" fill="#000"/>
<rect x="637.2" y="651.75" width="4.8" height="1.8" fill="#111"/>
<rect x="637.2" y="669" width="4.8" height="1.8" fill="#111"/>
<rect x="637.2" y="686.25" width="4.8" height="1.8" fill="#111"/>
<rect x="637.2" y="720.48" width="4.8" height="1.8" fill="#111"/>
<rect x="637.2" y="737.45" width="4.8" height="1.8" fill="#111"/>
<rect x="637.2" y="754.42" width="4.8" height="1.8" fill="#111"/>
<rect x="637.2" y="788.32" width="4.8" height="1.8" fill="#111"/>
<rect x="637.2" y="805.25" width="4.8" height="1.8" fill="#111"/>
<rect x="637.2" y="822.18" width="4.8" height="1.8" fill="#111"/>
<rect x="637.2" y="855.27" width="4.8" height="1.8" fill="#111"/>
<rect x="637.2" y="871.45" width="4.8" height="1.8" fill="#111"/>
<rect x="637.2" y="887.63" width="4.8" height="1.8" fill="#111"/>
<rect x="637.2" y="617.25" width="4.8" height="1.8" fill="#111"/>
<text transform="translate(569.11 648.36) scale(1.0478 1.0350)" font-size="36">200</text>
<text transform="translate(568.13 715.96) scale(1.0647 1.0350)" font-size="36">150</text>
<text transform="translate(568.13 783.96) scale(1.0647 1.0350)" font-size="36">100</text>
<text transform="translate(579.47 849.96) scale(1.0601 1.0350)" font-size="36">50</text>
<text transform="translate(587.42 915.96) scale(1.0995 1.0350)" font-size="36">0</text>
<rect x="643.2" y="905.7" width="2" height="9.5" fill="#000"/>
<rect x="670.03" y="905.7" width="1.5" height="4.8" fill="#111"/>
<rect x="685.58" y="905.7" width="1.5" height="4.8" fill="#111"/>
<rect x="696.61" y="905.7" width="1.5" height="4.8" fill="#111"/>
<rect x="705.17" y="905.7" width="1.5" height="4.8" fill="#111"/>
<rect x="712.16" y="905.7" width="1.5" height="4.8" fill="#111"/>
<rect x="718.07" y="905.7" width="1.5" height="4.8" fill="#111"/>
<rect x="723.19" y="905.7" width="1.5" height="4.8" fill="#111"/>
<rect x="727.71" y="905.7" width="1.5" height="4.8" fill="#111"/>
<rect x="731.5" y="905.7" width="2" height="9.5" fill="#000"/>
<rect x="758.33" y="905.7" width="1.5" height="4.8" fill="#111"/>
<rect x="773.88" y="905.7" width="1.5" height="4.8" fill="#111"/>
<rect x="784.91" y="905.7" width="1.5" height="4.8" fill="#111"/>
<rect x="793.47" y="905.7" width="1.5" height="4.8" fill="#111"/>
<rect x="800.46" y="905.7" width="1.5" height="4.8" fill="#111"/>
<rect x="806.37" y="905.7" width="1.5" height="4.8" fill="#111"/>
<rect x="811.49" y="905.7" width="1.5" height="4.8" fill="#111"/>
<rect x="816.01" y="905.7" width="1.5" height="4.8" fill="#111"/>
<rect x="821" y="905.7" width="2" height="9.5" fill="#000"/>
<rect x="847.83" y="905.7" width="1.5" height="4.8" fill="#111"/>
<rect x="863.38" y="905.7" width="1.5" height="4.8" fill="#111"/>
<rect x="874.41" y="905.7" width="1.5" height="4.8" fill="#111"/>
<rect x="882.97" y="905.7" width="1.5" height="4.8" fill="#111"/>
<rect x="889.96" y="905.7" width="1.5" height="4.8" fill="#111"/>
<rect x="895.87" y="905.7" width="1.5" height="4.8" fill="#111"/>
<rect x="900.99" y="905.7" width="1.5" height="4.8" fill="#111"/>
<rect x="905.51" y="905.7" width="1.5" height="4.8" fill="#111"/>
<rect x="910.3" y="905.7" width="2" height="9.5" fill="#000"/>
<rect x="937.13" y="905.7" width="1.5" height="4.8" fill="#111"/>
<rect x="952.68" y="905.7" width="1.5" height="4.8" fill="#111"/>
<text transform="translate(651.84 961.3) scale(0.9868 1.0350)" font-size="36">10<tspan font-size="23.76" dy="-10.44" dx="0.5">1</tspan></text>
<text transform="translate(714.58 961.3) scale(1.0453 1.0350)" font-size="36">10<tspan font-size="23.76" dy="-10.44" dx="0.5">2</tspan></text>
<text transform="translate(806.4 961.3) scale(1.0383 1.0350)" font-size="36">10<tspan font-size="23.76" dy="-10.44" dx="0.5">3</tspan></text>
<text transform="translate(895.48 961.3) scale(1.0056 1.0350)" font-size="36">10<tspan font-size="23.76" dy="-10.44" dx="0.5">4</tspan></text>
<text transform="translate(708.93 591.6) scale(1.0139 1.0350)" font-size="36.5">OO+AM281</text>
<rect x="1038" y="601.7" width="315" height="302.9" fill="#fff"/>
<path d="M1040.0 902.4 L1040.5 859.3 L1042.1 861.3 L1043.1 857.5 L1045.2 854.1 L1046.3 850.4 L1050.4 847.6 L1051.6 844.4 L1052.8 841.2 L1052.6 837.6 L1053.6 834.4 L1055.0 831.2 L1057.0 834.1 L1058.2 837.4 L1059.1 840.8 L1062.5 839.1 L1065.4 836.7 L1065.4 833.1 L1066.7 829.6 L1066.7 826.0 L1067.4 822.5 L1068.2 819.1 L1069.5 815.7 L1069.5 812.0 L1070.8 809.1 L1070.9 805.7 L1072.8 803.0 L1077.7 803.3 L1078.2 799.5 L1078.8 795.7 L1080.9 792.2 L1081.6 788.5 L1081.9 784.7 L1083.2 781.4 L1084.0 777.9 L1084.6 774.5 L1085.8 771.1 L1086.3 767.7 L1086.1 764.0 L1088.0 760.8 L1088.1 757.3 L1090.2 759.8 L1091.8 762.7 L1094.2 764.9 L1095.6 762.0 L1096.8 759.0 L1098.1 756.0 L1099.6 753.2 L1102.0 750.3 L1104.6 747.7 L1105.4 744.4 L1106.1 741.1 L1107.9 738.1 L1111.4 735.4 L1112.4 732.0 L1112.8 728.6 L1113.5 725.2 L1113.4 721.7 L1113.6 718.3 L1114.3 714.9 L1113.6 711.3 L1115.0 708.0 L1115.0 704.5 L1115.5 701.1 L1118.4 705.0 L1120.2 709.4 L1121.1 705.6 L1123.0 702.2 L1123.9 698.5 L1125.6 695.1 L1127.0 691.6 L1128.6 688.2 L1129.6 684.6 L1130.5 681.0 L1132.5 677.9 L1133.0 681.3 L1134.0 684.6 L1134.5 688.1 L1135.1 691.5 L1135.3 694.9 L1136.3 698.3 L1135.8 701.9 L1136.6 705.2 L1136.6 708.9 L1138.5 712.0 L1138.7 715.6 L1139.9 718.9 L1144.0 714.8 L1144.0 718.5 L1146.2 721.8 L1146.8 725.4 L1146.3 729.2 L1147.6 732.6 L1147.8 736.3 L1149.0 739.8 L1150.6 743.2 L1151.0 746.8 L1151.7 750.4 L1155.8 753.2 L1159.8 751.7 L1163.2 749.1 L1163.4 752.7 L1164.4 756.0 L1166.4 759.2 L1166.7 762.7 L1166.9 766.5 L1168.6 769.8 L1168.8 773.5 L1170.7 776.8 L1170.8 780.5 L1171.1 784.1 L1172.9 787.2 L1173.7 790.5 L1175.7 793.5 L1176.3 797.0 L1177.4 800.1 L1178.6 803.2 L1179.9 806.3 L1181.2 809.3 L1182.3 812.5 L1182.4 816.0 L1183.8 819.1 L1184.7 822.4 L1185.1 825.7 L1188.0 828.1 L1190.0 831.2 L1191.4 834.6 L1193.9 837.3 L1194.9 840.8 L1198.2 841.7 L1201.0 843.5 L1203.1 846.7 L1203.5 850.5 L1205.0 853.8 L1206.4 857.2 L1209.1 859.6 L1211.9 861.9 L1215.9 864.0 L1218.8 867.3 L1222.9 868.3 L1227.0 869.5 L1229.5 866.3 L1232.5 863.5 L1235.6 864.8 L1237.9 867.3 L1241.1 865.5 L1244.8 865.4 L1248.9 864.6 L1250.5 867.6 L1253.9 868.9 L1255.7 871.7 L1261.2 869.5 L1264.6 868.5 L1268.1 868.2 L1269.6 864.7 L1272.0 861.7 L1273.1 857.9 L1275.7 855.0 L1277.6 851.7 L1278.4 848.3 L1280.2 845.3 L1279.7 841.5 L1281.3 838.4 L1282.5 835.1 L1284.3 832.0 L1284.5 828.5 L1285.9 825.1 L1287.2 821.7 L1288.9 818.4 L1289.6 814.7 L1291.3 811.5 L1296.8 813.4 L1298.0 810.1 L1300.6 807.7 L1303.2 805.2 L1304.5 801.9 L1305.2 805.4 L1307.1 808.5 L1307.8 812.0 L1308.1 815.7 L1308.5 819.5 L1310.2 822.9 L1310.3 826.7 L1311.4 830.2 L1311.9 833.9 L1313.0 837.5 L1313.6 841.2 L1314.4 844.8 L1314.9 848.5 L1316.1 852.0 L1316.0 855.8 L1316.9 859.3 L1318.3 862.7 L1317.9 866.5 L1318.9 870.0 L1320.8 873.3 L1320.2 877.1 L1321.4 880.5 L1323.1 883.6 L1323.7 887.1 L1324.6 890.4 L1326.1 893.5 L1326.9 896.9 L1329.9 898.4 L1332.5 900.5 L1335.1 902.4 L1338.7 901.9 L1342.2 902.4 L1345.8 902.0 L1349.4 902.4 L1352.9 902.4 L1352.9 902.4 Z" fill="#fb0000" stroke="#1a0000" stroke-width="1.9" stroke-linejoin="miter"/>
<rect x="1040" y="657" width="2.6" height="125" fill="#000"/>
<rect x="1039.50" y="603.20" width="312.00" height="299.90" fill="none" stroke="#000" stroke-width="3"/>
<rect x="1241.5" y="601.7" width="4.6" height="302.9" fill="#000"/>
<text transform="translate(1248.05 640.9) scale(0.9995 1.0350)" font-size="30">12.10%</text>
<rect x="1028.2" y="624.8" width="8" height="2" fill="#000"/>
<rect x="1028.2" y="695.2" width="8" height="2" fill="#000"/>
<rect x="1028.2" y="764.5" width="8" height="2" fill="#000"/>
<rect x="1028.2" y="834.3" width="8" height="2" fill="#000"/>
<rect x="1028.2" y="902.6" width="10.3" height="2" fill="#000"/>
<rect x="1031.2" y="648.37" width="4.8" height="1.8" fill="#111"/>
<rect x="1031.2" y="671.83" width="4.8" height="1.8" fill="#111"/>
<rect x="1031.2" y="718.4" width="4.8" height="1.8" fill="#111"/>
<rect x="1031.2" y="741.5" width="4.8" height="1.8" fill="#111"/>
<rect x="1031.2" y="787.87" width="4.8" height="1.8" fill="#111"/>
<rect x="1031.2" y="811.13" width="4.8" height="1.8" fill="#111"/>
<rect x="1031.2" y="857.17" width="4.8" height="1.8" fill="#111"/>
<rect x="1031.2" y="879.93" width="4.8" height="1.8" fill="#111"/>
<text transform="translate(964.11 646.16) scale(1.0496 1.0350)" font-size="36">200</text>
<text transform="translate(963.12 714.06) scale(1.0665 1.0350)" font-size="36">150</text>
<text transform="translate(963.12 783.36) scale(1.0665 1.0350)" font-size="36">100</text>
<text transform="translate(975.49 852.96) scale(1.0467 1.0350)" font-size="36">50</text>
<text transform="translate(982.42 920.86) scale(1.0995 1.0350)" font-size="36">0</text>
<rect x="1038.4" y="904.6" width="2" height="9.5" fill="#000"/>
<rect x="1065.2" y="904.6" width="1.5" height="4.8" fill="#111"/>
<rect x="1080.73" y="904.6" width="1.5" height="4.8" fill="#111"/>
<rect x="1091.75" y="904.6" width="1.5" height="4.8" fill="#111"/>
<rect x="1100.3" y="904.6" width="1.5" height="4.8" fill="#111"/>
<rect x="1107.28" y="904.6" width="1.5" height="4.8" fill="#111"/>
<rect x="1113.19" y="904.6" width="1.5" height="4.8" fill="#111"/>
<rect x="1118.3" y="904.6" width="1.5" height="4.8" fill="#111"/>
<rect x="1122.81" y="904.6" width="1.5" height="4.8" fill="#111"/>
<rect x="1126.6" y="904.6" width="2" height="9.5" fill="#000"/>
<rect x="1153.4" y="904.6" width="1.5" height="4.8" fill="#111"/>
<rect x="1168.93" y="904.6" width="1.5" height="4.8" fill="#111"/>
<rect x="1179.95" y="904.6" width="1.5" height="4.8" fill="#111"/>
<rect x="1188.5" y="904.6" width="1.5" height="4.8" fill="#111"/>
<rect x="1195.48" y="904.6" width="1.5" height="4.8" fill="#111"/>
<rect x="1201.39" y="904.6" width="1.5" height="4.8" fill="#111"/>
<rect x="1206.5" y="904.6" width="1.5" height="4.8" fill="#111"/>
<rect x="1211.01" y="904.6" width="1.5" height="4.8" fill="#111"/>
<rect x="1215" y="904.6" width="2" height="9.5" fill="#000"/>
<rect x="1241.8" y="904.6" width="1.5" height="4.8" fill="#111"/>
<rect x="1257.33" y="904.6" width="1.5" height="4.8" fill="#111"/>
<rect x="1268.35" y="904.6" width="1.5" height="4.8" fill="#111"/>
<rect x="1276.9" y="904.6" width="1.5" height="4.8" fill="#111"/>
<rect x="1283.88" y="904.6" width="1.5" height="4.8" fill="#111"/>
<rect x="1289.79" y="904.6" width="1.5" height="4.8" fill="#111"/>
<rect x="1294.9" y="904.6" width="1.5" height="4.8" fill="#111"/>
<rect x="1299.41" y="904.6" width="1.5" height="4.8" fill="#111"/>
<rect x="1303.5" y="904.6" width="2" height="9.5" fill="#000"/>
<rect x="1330.3" y="904.6" width="1.5" height="4.8" fill="#111"/>
<rect x="1345.83" y="904.6" width="1.5" height="4.8" fill="#111"/>
<text transform="translate(1049.04 958.5) scale(0.9868 1.0350)" font-size="36">10<tspan font-size="23.76" dy="-10.44" dx="0.5">1</tspan></text>
<text transform="translate(1111.95 958.5) scale(1.0172 1.0350)" font-size="36">10<tspan font-size="23.76" dy="-10.44" dx="0.5">2</tspan></text>
<text transform="translate(1203.59 958.5) scale(1.0403 1.0350)" font-size="36">10<tspan font-size="23.76" dy="-10.44" dx="0.5">3</tspan></text>
<text transform="translate(1292.68 958.5) scale(1.0056 1.0350)" font-size="36">10<tspan font-size="23.76" dy="-10.44" dx="0.5">4</tspan></text>
<text transform="translate(1177.13 591.6) scale(1.0242 1.0350)" font-size="36.5">CCl<tspan font-size="22.63" dy="7.85">4</tspan></text>
<rect x="1448.2" y="602.6" width="313.5" height="304.7" fill="#fff"/>
<path d="M1450.2 905.1 L1450.7 856.6 L1451.7 858.6 L1452.4 854.7 L1454.8 851.4 L1455.8 847.6 L1457.4 844.8 L1459.1 842.0 L1459.3 838.6 L1460.5 835.6 L1462.6 833.0 L1463.5 829.8 L1469.5 828.5 L1470.3 825.3 L1470.1 822.0 L1471.2 818.9 L1471.2 815.7 L1472.3 812.6 L1471.6 809.2 L1472.2 806.0 L1473.9 803.0 L1473.6 799.7 L1475.4 802.8 L1477.1 805.9 L1478.3 809.3 L1479.4 806.0 L1479.8 802.5 L1479.5 798.9 L1480.8 795.6 L1481.7 792.2 L1481.4 788.7 L1482.9 785.4 L1483.2 781.9 L1483.4 778.0 L1484.6 774.3 L1485.0 770.5 L1486.5 766.9 L1489.2 768.2 L1489.6 765.0 L1491.9 762.3 L1491.7 758.9 L1492.8 755.9 L1495.5 760.0 L1496.9 756.7 L1496.4 753.1 L1497.3 749.7 L1498.2 746.3 L1498.4 742.8 L1497.9 739.3 L1499.1 735.9 L1500.6 739.8 L1502.4 743.6 L1504.9 740.5 L1506.5 736.9 L1509.2 734.0 L1508.9 730.7 L1510.7 727.7 L1510.4 724.4 L1510.3 721.2 L1511.1 718.0 L1511.1 714.8 L1512.5 711.7 L1512.4 708.4 L1512.8 705.2 L1513.2 701.8 L1515.5 699.0 L1516.1 695.7 L1517.5 698.9 L1517.8 702.4 L1519.0 705.8 L1518.4 709.4 L1520.2 712.6 L1520.2 716.2 L1523.3 719.0 L1526.5 721.7 L1527.9 724.9 L1527.9 728.4 L1528.2 731.8 L1529.1 735.1 L1529.9 738.4 L1530.5 741.8 L1531.3 745.1 L1531.7 748.5 L1532.5 751.8 L1533.2 748.2 L1535.2 745.2 L1536.2 741.8 L1538.0 738.7 L1538.2 742.0 L1538.9 745.2 L1541.2 748.0 L1541.9 751.2 L1542.1 754.5 L1542.8 758.2 L1544.2 761.7 L1546.2 765.0 L1546.1 768.9 L1547.6 772.3 L1551.1 776.4 L1551.3 780.4 L1553.2 783.9 L1554.3 787.7 L1555.0 791.5 L1556.1 795.0 L1556.7 798.7 L1559.1 801.7 L1560.3 805.2 L1561.3 808.8 L1565.4 808.5 L1569.5 809.3 L1570.4 812.5 L1571.9 815.4 L1573.4 818.4 L1574.1 821.6 L1579.1 818.9 L1584.5 818.9 L1587.1 815.3 L1590.0 812.0 L1592.5 814.3 L1593.9 817.3 L1595.5 820.3 L1596.1 823.6 L1598.1 826.3 L1600.0 829.1 L1600.2 832.6 L1602.3 835.3 L1604.6 838.6 L1606.8 841.9 L1609.2 845.2 L1610.5 849.0 L1612.2 852.1 L1613.3 855.4 L1614.3 858.7 L1614.3 862.4 L1616.0 865.4 L1618.1 868.3 L1619.8 871.4 L1621.0 874.8 L1622.9 877.8 L1624.0 881.3 L1626.8 884.0 L1628.3 887.3 L1630.8 890.0 L1634.0 891.7 L1636.6 894.2 L1640.6 896.7 L1644.8 899.1 L1648.8 900.9 L1653.0 902.4 L1657.2 902.9 L1661.2 901.9 L1664.2 900.1 L1666.7 897.7 L1669.4 895.6 L1673.8 894.3 L1677.6 892.0 L1680.7 889.8 L1683.9 887.8 L1687.2 886.0 L1689.3 883.2 L1690.0 879.8 L1691.8 876.9 L1692.7 873.6 L1695.2 870.0 L1698.2 866.8 L1701.0 869.3 L1704.5 870.6 L1707.8 872.3 L1710.0 875.2 L1710.7 879.1 L1713.2 881.9 L1715.0 884.8 L1716.9 887.6 L1718.7 890.5 L1720.1 893.6 L1723.2 895.1 L1725.9 897.2 L1728.3 899.7 L1731.9 901.2 L1736.0 901.5 L1739.7 902.9 L1743.4 904.6 L1747.0 904.7 L1750.7 905.1 L1754.4 905.0 L1758.0 905.1 L1761.7 905.1 L1761.7 905.1 Z" fill="#fb0000" stroke="#1a0000" stroke-width="1.9" stroke-linejoin="miter"/>
<rect x="1450.2" y="672" width="2.6" height="121" fill="#000"/>
<rect x="1449.70" y="604.10" width="310.50" height="301.70" fill="none" stroke="#000" stroke-width="3"/>
<rect x="1451.2" y="605.8" width="307.5" height="1.8" fill="#6a6a6a"/>
<rect x="1652.2" y="602.6" width="4.9" height="304.7" fill="#000"/>
<text transform="translate(1670.4 640.9) scale(0.9988 1.0350)" font-size="30">5.30%</text>
<rect x="1438.4" y="623.5" width="8" height="2" fill="#000"/>
<rect x="1438.4" y="694.1" width="8" height="2" fill="#000"/>
<rect x="1438.4" y="764.5" width="8" height="2" fill="#000"/>
<rect x="1438.4" y="834.9" width="8" height="2" fill="#000"/>
<rect x="1438.4" y="905.3" width="10.3" height="2" fill="#000"/>
<rect x="1441.4" y="647.13" width="4.8" height="1.8" fill="#111"/>
<rect x="1441.4" y="670.67" width="4.8" height="1.8" fill="#111"/>
<rect x="1441.4" y="717.67" width="4.8" height="1.8" fill="#111"/>
<rect x="1441.4" y="741.13" width="4.8" height="1.8" fill="#111"/>
<rect x="1441.4" y="788.07" width="4.8" height="1.8" fill="#111"/>
<rect x="1441.4" y="811.53" width="4.8" height="1.8" fill="#111"/>
<rect x="1441.4" y="858.47" width="4.8" height="1.8" fill="#111"/>
<rect x="1441.4" y="881.93" width="4.8" height="1.8" fill="#111"/>
<text transform="translate(1376.68 646.16) scale(1.0689 1.0350)" font-size="36">200</text>
<text transform="translate(1375.67 714.66) scale(1.0861 1.0350)" font-size="36">150</text>
<text transform="translate(1375.67 783.96) scale(1.0861 1.0350)" font-size="36">100</text>
<text transform="translate(1387.47 855.16) scale(1.0601 1.0350)" font-size="36">50</text>
<text transform="translate(1394.46 924.16) scale(1.1200 1.0350)" font-size="36">0</text>
<rect x="1449.4" y="907.3" width="2" height="9.5" fill="#000"/>
<rect x="1476.44" y="907.3" width="1.5" height="4.8" fill="#111"/>
<rect x="1492.11" y="907.3" width="1.5" height="4.8" fill="#111"/>
<rect x="1503.23" y="907.3" width="1.5" height="4.8" fill="#111"/>
<rect x="1511.86" y="907.3" width="1.5" height="4.8" fill="#111"/>
<rect x="1518.91" y="907.3" width="1.5" height="4.8" fill="#111"/>
<rect x="1524.86" y="907.3" width="1.5" height="4.8" fill="#111"/>
<rect x="1530.03" y="907.3" width="1.5" height="4.8" fill="#111"/>
<rect x="1534.58" y="907.3" width="1.5" height="4.8" fill="#111"/>
<rect x="1538.4" y="907.3" width="2" height="9.5" fill="#000"/>
<rect x="1565.44" y="907.3" width="1.5" height="4.8" fill="#111"/>
<rect x="1581.11" y="907.3" width="1.5" height="4.8" fill="#111"/>
<rect x="1592.23" y="907.3" width="1.5" height="4.8" fill="#111"/>
<rect x="1600.86" y="907.3" width="1.5" height="4.8" fill="#111"/>
<rect x="1607.91" y="907.3" width="1.5" height="4.8" fill="#111"/>
<rect x="1613.86" y="907.3" width="1.5" height="4.8" fill="#111"/>
<rect x="1619.03" y="907.3" width="1.5" height="4.8" fill="#111"/>
<rect x="1623.58" y="907.3" width="1.5" height="4.8" fill="#111"/>
<rect x="1626.8" y="907.3" width="2" height="9.5" fill="#000"/>
<rect x="1653.84" y="907.3" width="1.5" height="4.8" fill="#111"/>
<rect x="1669.51" y="907.3" width="1.5" height="4.8" fill="#111"/>
<rect x="1680.63" y="907.3" width="1.5" height="4.8" fill="#111"/>
<rect x="1689.26" y="907.3" width="1.5" height="4.8" fill="#111"/>
<rect x="1696.31" y="907.3" width="1.5" height="4.8" fill="#111"/>
<rect x="1702.26" y="907.3" width="1.5" height="4.8" fill="#111"/>
<rect x="1707.43" y="907.3" width="1.5" height="4.8" fill="#111"/>
<rect x="1711.98" y="907.3" width="1.5" height="4.8" fill="#111"/>
<rect x="1715.5" y="907.3" width="2" height="9.5" fill="#000"/>
<rect x="1742.54" y="907.3" width="1.5" height="4.8" fill="#111"/>
<rect x="1758.21" y="907.3" width="1.5" height="4.8" fill="#111"/>
<text transform="translate(1460.04 960.4) scale(0.9868 1.0350)" font-size="36">10<tspan font-size="23.76" dy="-10.44" dx="0.5">1</tspan></text>
<text transform="translate(1524.25 960.4) scale(1.0172 1.0350)" font-size="36">10<tspan font-size="23.76" dy="-10.44" dx="0.5">2</tspan></text>
<text transform="translate(1616 960.4) scale(1.0383 1.0350)" font-size="36">10<tspan font-size="23.76" dy="-10.44" dx="0.5">3</tspan></text>
<text transform="translate(1705.08 960.4) scale(1.0056 1.0350)" font-size="36">10<tspan font-size="23.76" dy="-10.44" dx="0.5">4</tspan></text>
<text transform="translate(1516.93 591.6) scale(1.0260 1.0350)" font-size="36.5">CCl<tspan font-size="22.63" dy="7.85">4</tspan><tspan dy="-7.85">+AM281</tspan></text>
<rect x="150.3" y="608" width="7" height="305.4" fill="#000"/>
<path d="M141.5 634 L153.8 609 L166 634" fill="none" stroke="#000" stroke-width="7" stroke-linecap="round" stroke-linejoin="round"/>
<text transform="translate(137.9 850.89) rotate(-90) scale(1.0194 1.0350)" font-size="37">Cell Counts</text>
<rect x="278.8" y="975.4" width="1460.2" height="7.1" fill="#000"/>
<path d="M1714.5 967.5 L1740 979 L1714.5 991" fill="none" stroke="#000" stroke-width="7.5" stroke-linecap="round" stroke-linejoin="round"/>
<text transform="translate(939.26 1015.9) scale(1.0546 1.0350)" font-size="36">Ly6G<tspan font-size="23.76" dy="-10.8">+</tspan></text>
<defs><filter id="bl1" filterUnits="userSpaceOnUse" x="1000" y="290" width="460" height="80"><feGaussianBlur stdDeviation="2.6 1.9"/></filter><filter id="bl2" filterUnits="userSpaceOnUse" x="1000" y="392" width="460" height="80"><feGaussianBlur stdDeviation="1.7 1.4"/></filter><linearGradient id="blotbg" x1="0" x2="1" y1="0" y2="0"><stop offset="0" stop-color="#f2f2f2"/><stop offset="0.5" stop-color="#efefef"/><stop offset="1" stop-color="#f3f3f3"/></linearGradient></defs>
<text transform="translate(1093.43 213) scale(1.0879 1.0350)" font-size="32">OO</text>
<text transform="translate(1302.28 213) scale(1.0781 1.0350)" font-size="32">CCl<tspan font-size="19.84" dy="6.88">4</tspan></text>
<rect x="1016.5" y="227" width="192.2" height="5" fill="#000"/>
<rect x="1232" y="225.5" width="192" height="5.1" fill="#000"/>
<text transform="translate(894 278) scale(1.0137 1.0350)" font-size="29.5">AM281</text>
<text transform="translate(894.25 341.3) scale(1.0535 1.0350)" font-size="29.5">CitH3</text>
<text transform="translate(878.15 444.6) scale(1.0425 1.0350)" font-size="29.5">β-tubulin</text>
<text transform="translate(1059.3 281.73) scale(1.0000 1.2700)" font-size="37.7" font-weight="bold">—</text>
<text transform="translate(1266.2 279.83) scale(1.0000 1.2700)" font-size="37.7" font-weight="bold">—</text>
<text transform="translate(1167.63 284.2) scale(1.0000 1.0000)" font-size="44" font-weight="bold" stroke="#000" stroke-width="0.8">+</text>
<text transform="translate(1374.63 284.2) scale(1.0000 1.0000)" font-size="44" font-weight="bold" stroke="#000" stroke-width="0.8">+</text>
<rect x="1001.2" y="293.4" width="455.5" height="74.7" fill="url(#blotbg)"/>
<rect x="1001.2" y="395" width="455.5" height="74.7" fill="url(#blotbg2)"/>
<defs><linearGradient id="blotbg2" x1="0" x2="0" y1="0" y2="1"><stop offset="0" stop-color="#eeeeee"/><stop offset="0.45" stop-color="#e8e8e8"/><stop offset="1" stop-color="#f0f0f0"/></linearGradient></defs>
<g filter="url(#bl1)"><rect x="1010" y="300" width="440" height="60" fill="none"/>
<path d="M1043.2 329.8 Q1076.2 329.8 1109.1 329.8" fill="none" stroke="#7a7a7a" stroke-width="11.9" stroke-linecap="round" opacity="0.80"/>
<path d="M1042.2 329.8 Q1049.5 329.8 1056.8 329.8" fill="none" stroke="#666" stroke-width="9.9" stroke-linecap="round" opacity="0.50"/>
<path d="M1097.2 329.8 Q1103.5 329.8 1109.8 329.8" fill="none" stroke="#666" stroke-width="9.9" stroke-linecap="round" opacity="0.50"/>
<path d="M1155.6 330.2 Q1184.5 330.2 1213.4 330.2" fill="none" stroke="#4a4a4a" stroke-width="12.7" stroke-linecap="round" opacity="0.90"/>
<path d="M1257.2 329.8 Q1287.0 329.0 1316.8 328.2" fill="none" stroke="#000" stroke-width="15.9" stroke-linecap="round" opacity="1.00"/>
<path d="M1364.6 325.3 Q1394.2 325.3 1423.7 325.3" fill="none" stroke="#222" stroke-width="14.1" stroke-linecap="round" opacity="0.92"/>
<path d="M1365.8 325.2 Q1375.5 325.2 1385.2 325.2" fill="none" stroke="#000" stroke-width="13.0" stroke-linecap="round" opacity="0.60"/>
</g>
<g filter="url(#bl2)"><rect x="1010" y="400" width="440" height="62" fill="none"/>
<path d="M1034.2 427.5 Q1073.0 433.8 1111.9 429.5" fill="none" stroke="#000" stroke-width="18.5" stroke-linecap="round" opacity="1.00"/>
<path d="M1143.4 430.4 Q1181.8 433.4 1220.2 430.4" fill="none" stroke="#000" stroke-width="15.3" stroke-linecap="round" opacity="1.00"/>
<path d="M1250.0 429.6 Q1286.5 432.6 1323.0 429.6" fill="none" stroke="#000" stroke-width="17.0" stroke-linecap="round" opacity="1.00"/>
<path d="M1353.4 428.4 Q1391.3 430.9 1429.3 424.4" fill="none" stroke="#000" stroke-width="17.9" stroke-linecap="round" opacity="1.00"/>
<rect x="1121" y="429" width="15" height="3" fill="#555" opacity="0.3"/>
<rect x="1227" y="429.5" width="15" height="3" fill="#333" opacity="0.45"/>
</g>
<rect x="1002.90" y="295.10" width="452.10" height="71.30" fill="none" stroke="#000" stroke-width="3.4"/>
<rect x="1002.90" y="396.70" width="452.10" height="71.30" fill="none" stroke="#000" stroke-width="3.4"/>
<defs><filter id="tex" x="0" y="0" width="100%" height="100%" color-interpolation-filters="sRGB"><feTurbulence type="fractalNoise" baseFrequency="0.075 0.085" numOctaves="3" seed="7"/><feColorMatrix type="matrix" values="1 0 0 0 0  1 0 0 0 0  1 0 0 0 0  0 0 0 0 1"/><feComponentTransfer><feFuncR type="table" tableValues=".86 .86 .87 .885 .902 .915 .93 .955 .98 .99 1"/><feFuncG type="table" tableValues=".54 .56 .60 .645 .70 .745 .795 .88 .945 .97 1"/><feFuncB type="table" tableValues=".67 .69 .715 .745 .78 .81 .84 .90 .95 .98 1"/></feComponentTransfer></filter><filter id="tex2" x="0" y="0" width="100%" height="100%" color-interpolation-filters="sRGB"><feTurbulence type="fractalNoise" baseFrequency="0.06 0.07" numOctaves="3" seed="11"/><feColorMatrix type="matrix" values="1 0 0 0 0  1 0 0 0 0  1 0 0 0 0  0 0 0 0 1"/><feComponentTransfer><feFuncR type="table" tableValues=".87 .87 .88 .895 .912 .925 .94 .962 .985 .99 1"/><feFuncG type="table" tableValues=".57 .59 .63 .675 .725 .77 .82 .89 .95 .97 1"/><feFuncB type="table" tableValues=".69 .71 .73 .76 .795 .825 .855 .91 .955 .98 1"/></feComponentTransfer></filter><filter id="nb" x="-5%" y="-5%" width="110%" height="110%"><feGaussianBlur stdDeviation="1.15"/></filter><filter id="vb" x="-20%" y="-20%" width="140%" height="140%"><feGaussianBlur stdDeviation="2.2"/></filter></defs>
<clipPath id="cp0"><rect x="82.20" y="1102.30" width="438.80" height="335.30"/></clipPath>
<g clip-path="url(#cp0)">
<rect x="82.20" y="1102.30" width="438.80" height="335.30" fill="#e7b3d2" filter="url(#tex)"/>
<g filter="url(#nb)">
<circle cx="337.2" cy="1167.6" r="3.9" fill="#5f4488" opacity="0.57"/><circle cx="505.8" cy="1412.1" r="3.7" fill="#8c6cab" opacity="0.77"/><circle cx="287.2" cy="1324.8" r="2.7" fill="#6f4f94" opacity="0.51"/><circle cx="176.3" cy="1176.6" r="3.1" fill="#6f4f94" opacity="0.67"/><circle cx="208.8" cy="1334.5" r="2.8" fill="#8c6cab" opacity="0.47"/><circle cx="175.4" cy="1427.9" r="3.9" fill="#5f4488" opacity="0.74"/><circle cx="113.1" cy="1167.1" r="2.8" fill="#6f4f94" opacity="0.68"/><circle cx="121.2" cy="1360.4" r="2.6" fill="#6f4f94" opacity="0.68"/><circle cx="243.0" cy="1260.5" r="4.1" fill="#6f4f94" opacity="0.79"/><circle cx="225.3" cy="1316.0" r="4.0" fill="#7d5a9c" opacity="0.74"/><circle cx="259.4" cy="1172.1" r="3.3" fill="#6f4f94" opacity="0.72"/><circle cx="271.0" cy="1204.3" r="2.8" fill="#6f4f94" opacity="0.73"/><circle cx="130.8" cy="1378.4" r="3.1" fill="#7d5a9c" opacity="0.65"/><circle cx="380.6" cy="1325.2" r="3.4" fill="#6f4f94" opacity="0.62"/><circle cx="469.4" cy="1234.6" r="3.5" fill="#6f4f94" opacity="0.53"/><circle cx="248.6" cy="1244.1" r="4.0" fill="#5f4488" opacity="0.66"/><circle cx="259.7" cy="1326.6" r="2.6" fill="#8c6cab" opacity="0.51"/><circle cx="85.1" cy="1257.9" r="3.8" fill="#7d5a9c" opacity="0.72"/><circle cx="317.0" cy="1218.2" r="3.2" fill="#6f4f94" opacity="0.84"/><circle cx="91.8" cy="1338.6" r="3.8" fill="#7d5a9c" opacity="0.68"/><circle cx="86.3" cy="1291.5" r="2.6" fill="#5f4488" opacity="0.45"/><circle cx="149.5" cy="1113.9" r="2.7" fill="#5f4488" opacity="0.51"/><circle cx="161.6" cy="1124.3" r="3.5" fill="#6f4f94" opacity="0.82"/><circle cx="148.4" cy="1331.9" r="2.8" fill="#32245a" opacity="0.63"/><circle cx="401.8" cy="1223.9" r="3.7" fill="#4b3577" opacity="0.51"/><circle cx="368.5" cy="1261.6" r="3.7" fill="#6f4f94" opacity="0.71"/><circle cx="300.9" cy="1396.0" r="3.9" fill="#7d5a9c" opacity="0.62"/><circle cx="218.8" cy="1394.0" r="2.9" fill="#8c6cab" opacity="0.73"/><circle cx="84.8" cy="1130.5" r="3.1" fill="#4b3577" opacity="0.78"/><circle cx="96.2" cy="1218.2" r="3.4" fill="#8c6cab" opacity="0.61"/><circle cx="497.3" cy="1395.9" r="4.0" fill="#8c6cab" opacity="0.50"/><circle cx="450.2" cy="1142.2" r="3.4" fill="#6f4f94" opacity="0.60"/><circle cx="391.9" cy="1362.0" r="3.5" fill="#6f4f94" opacity="0.66"/><circle cx="437.3" cy="1367.9" r="3.4" fill="#4b3577" opacity="0.51"/><circle cx="143.8" cy="1162.3" r="3.1" fill="#4b3577" opacity="0.58"/><circle cx="430.0" cy="1349.8" r="3.9" fill="#5f4488" opacity="0.76"/><circle cx="473.8" cy="1252.0" r="3.0" fill="#6f4f94" opacity="0.50"/><circle cx="472.5" cy="1149.0" r="2.9" fill="#5f4488" opacity="0.75"/><circle cx="230.3" cy="1125.0" r="3.2" fill="#32245a" opacity="0.50"/><circle cx="322.9" cy="1333.4" r="3.2" fill="#7d5a9c" opacity="0.73"/><circle cx="204.5" cy="1378.8" r="3.2" fill="#4b3577" opacity="0.50"/><circle cx="122.0" cy="1416.6" r="2.7" fill="#8c6cab" opacity="0.58"/><circle cx="191.9" cy="1170.8" r="3.2" fill="#6f4f94" opacity="0.68"/><circle cx="131.4" cy="1431.2" r="2.6" fill="#7d5a9c" opacity="0.72"/><circle cx="477.6" cy="1209.3" r="2.8" fill="#6f4f94" opacity="0.46"/><circle cx="124.2" cy="1321.4" r="3.5" fill="#8c6cab" opacity="0.52"/><circle cx="471.7" cy="1106.4" r="2.7" fill="#8c6cab" opacity="0.66"/><circle cx="360.0" cy="1389.6" r="3.7" fill="#7d5a9c" opacity="0.61"/><circle cx="283.5" cy="1293.2" r="2.9" fill="#32245a" opacity="0.46"/><circle cx="435.1" cy="1182.3" r="3.4" fill="#6f4f94" opacity="0.53"/><circle cx="202.1" cy="1323.7" r="3.9" fill="#5f4488" opacity="0.49"/><circle cx="324.6" cy="1281.8" r="3.4" fill="#5f4488" opacity="0.75"/><circle cx="228.9" cy="1416.5" r="3.3" fill="#5f4488" opacity="0.75"/><circle cx="111.3" cy="1152.0" r="3.5" fill="#6f4f94" opacity="0.62"/><circle cx="135.1" cy="1217.1" r="3.7" fill="#6f4f94" opacity="0.70"/><circle cx="383.8" cy="1224.5" r="3.0" fill="#4b3577" opacity="0.73"/><circle cx="373.1" cy="1286.6" r="3.4" fill="#7d5a9c" opacity="0.46"/><circle cx="138.2" cy="1285.3" r="3.0" fill="#8c6cab" opacity="0.80"/><circle cx="221.9" cy="1328.9" r="2.8" fill="#4b3577" opacity="0.83"/><circle cx="404.6" cy="1183.0" r="3.6" fill="#32245a" opacity="0.81"/><circle cx="212.5" cy="1115.9" r="3.0" fill="#7d5a9c" opacity="0.82"/><circle cx="104.0" cy="1435.2" r="3.7" fill="#32245a" opacity="0.55"/><circle cx="406.9" cy="1249.4" r="2.7" fill="#5f4488" opacity="0.64"/><circle cx="374.7" cy="1192.5" r="4.1" fill="#5f4488" opacity="0.69"/><circle cx="393.9" cy="1421.1" r="2.8" fill="#6f4f94" opacity="0.78"/><circle cx="421.5" cy="1258.3" r="3.0" fill="#32245a" opacity="0.78"/><circle cx="107.8" cy="1240.4" r="3.1" fill="#7d5a9c" opacity="0.68"/><circle cx="280.6" cy="1194.2" r="3.3" fill="#5f4488" opacity="0.84"/><circle cx="352.7" cy="1150.4" r="3.7" fill="#5f4488" opacity="0.47"/><circle cx="410.0" cy="1389.9" r="4.1" fill="#8c6cab" opacity="0.83"/><circle cx="109.2" cy="1334.4" r="3.8" fill="#8c6cab" opacity="0.74"/><circle cx="385.5" cy="1429.8" r="2.9" fill="#5f4488" opacity="0.74"/><circle cx="432.4" cy="1216.0" r="2.7" fill="#5f4488" opacity="0.61"/><circle cx="402.5" cy="1151.5" r="2.6" fill="#8c6cab" opacity="0.61"/><circle cx="395.3" cy="1242.2" r="3.8" fill="#4b3577" opacity="0.50"/><circle cx="198.6" cy="1182.3" r="2.7" fill="#7d5a9c" opacity="0.77"/><circle cx="177.3" cy="1369.3" r="3.7" fill="#32245a" opacity="0.51"/><circle cx="124.4" cy="1180.2" r="3.9" fill="#8c6cab" opacity="0.57"/><circle cx="166.6" cy="1155.3" r="3.7" fill="#6f4f94" opacity="0.78"/><circle cx="402.5" cy="1299.2" r="3.3" fill="#6f4f94" opacity="0.45"/><circle cx="373.9" cy="1404.2" r="3.7" fill="#4b3577" opacity="0.60"/><circle cx="279.1" cy="1115.0" r="3.2" fill="#5f4488" opacity="0.61"/><circle cx="165.3" cy="1275.5" r="3.6" fill="#6f4f94" opacity="0.78"/><circle cx="306.5" cy="1178.3" r="3.6" fill="#4b3577" opacity="0.76"/><circle cx="342.3" cy="1415.7" r="3.5" fill="#7d5a9c" opacity="0.81"/><circle cx="478.8" cy="1295.7" r="2.7" fill="#4b3577" opacity="0.54"/><circle cx="293.3" cy="1145.5" r="3.7" fill="#7d5a9c" opacity="0.62"/><circle cx="130.7" cy="1116.0" r="3.3" fill="#6f4f94" opacity="0.46"/><circle cx="350.5" cy="1341.3" r="2.9" fill="#8c6cab" opacity="0.59"/><circle cx="518.1" cy="1304.3" r="3.3" fill="#7d5a9c" opacity="0.72"/><circle cx="518.3" cy="1237.4" r="3.6" fill="#6f4f94" opacity="0.60"/><circle cx="141.0" cy="1122.3" r="3.7" fill="#7d5a9c" opacity="0.57"/><circle cx="208.7" cy="1280.3" r="2.7" fill="#6f4f94" opacity="0.71"/><circle cx="514.9" cy="1202.0" r="2.6" fill="#8c6cab" opacity="0.57"/><circle cx="185.4" cy="1344.8" r="2.9" fill="#7d5a9c" opacity="0.53"/><circle cx="252.6" cy="1289.5" r="2.7" fill="#6f4f94" opacity="0.82"/><circle cx="148.6" cy="1388.4" r="3.3" fill="#4b3577" opacity="0.63"/><circle cx="485.6" cy="1355.5" r="3.8" fill="#7d5a9c" opacity="0.58"/><circle cx="492.8" cy="1213.8" r="3.2" fill="#32245a" opacity="0.84"/><circle cx="96.4" cy="1204.5" r="2.6" fill="#4b3577" opacity="0.62"/><circle cx="154.3" cy="1249.5" r="2.8" fill="#5f4488" opacity="0.64"/><circle cx="414.7" cy="1355.8" r="3.9" fill="#7d5a9c" opacity="0.63"/><circle cx="165.9" cy="1363.0" r="3.9" fill="#8c6cab" opacity="0.52"/><circle cx="180.5" cy="1278.6" r="2.8" fill="#6f4f94" opacity="0.48"/><circle cx="96.9" cy="1401.5" r="3.6" fill="#6f4f94" opacity="0.46"/><circle cx="138.6" cy="1301.0" r="3.6" fill="#7d5a9c" opacity="0.75"/><circle cx="429.8" cy="1417.0" r="3.8" fill="#8c6cab" opacity="0.55"/><circle cx="353.0" cy="1430.8" r="2.7" fill="#5f4488" opacity="0.65"/><circle cx="455.1" cy="1120.9" r="4.0" fill="#4b3577" opacity="0.50"/><circle cx="376.9" cy="1133.0" r="3.0" fill="#6f4f94" opacity="0.78"/><circle cx="372.4" cy="1226.8" r="2.8" fill="#7d5a9c" opacity="0.78"/><circle cx="497.5" cy="1116.9" r="4.0" fill="#32245a" opacity="0.84"/><circle cx="107.1" cy="1103.2" r="3.3" fill="#6f4f94" opacity="0.80"/><circle cx="448.7" cy="1409.7" r="2.7" fill="#5f4488" opacity="0.63"/><circle cx="164.0" cy="1332.9" r="3.8" fill="#32245a" opacity="0.61"/><circle cx="200.5" cy="1427.8" r="3.1" fill="#8c6cab" opacity="0.59"/><circle cx="401.8" cy="1331.8" r="3.9" fill="#6f4f94" opacity="0.65"/><circle cx="207.1" cy="1235.5" r="3.0" fill="#5f4488" opacity="0.58"/><circle cx="414.8" cy="1275.4" r="3.5" fill="#6f4f94" opacity="0.68"/><circle cx="296.3" cy="1410.7" r="3.2" fill="#7d5a9c" opacity="0.63"/><circle cx="266.7" cy="1390.3" r="2.7" fill="#6f4f94" opacity="0.75"/><circle cx="102.7" cy="1280.2" r="3.9" fill="#8c6cab" opacity="0.58"/><circle cx="395.1" cy="1105.9" r="4.0" fill="#7d5a9c" opacity="0.83"/><circle cx="387.8" cy="1198.2" r="3.1" fill="#8c6cab" opacity="0.84"/><circle cx="356.7" cy="1311.3" r="3.9" fill="#6f4f94" opacity="0.54"/><circle cx="142.1" cy="1418.7" r="3.2" fill="#6f4f94" opacity="0.56"/><circle cx="188.7" cy="1148.1" r="3.0" fill="#8c6cab" opacity="0.82"/><circle cx="125.0" cy="1283.8" r="2.7" fill="#8c6cab" opacity="0.73"/><circle cx="439.6" cy="1380.7" r="3.2" fill="#4b3577" opacity="0.60"/><circle cx="426.3" cy="1392.8" r="3.8" fill="#32245a" opacity="0.45"/><circle cx="456.5" cy="1341.8" r="3.4" fill="#7d5a9c" opacity="0.69"/><circle cx="305.9" cy="1423.5" r="3.0" fill="#4b3577" opacity="0.53"/><circle cx="482.2" cy="1120.6" r="3.4" fill="#7d5a9c" opacity="0.63"/><circle cx="87.8" cy="1187.9" r="3.0" fill="#6f4f94" opacity="0.48"/><circle cx="396.4" cy="1279.7" r="3.4" fill="#4b3577" opacity="0.48"/><circle cx="329.0" cy="1198.6" r="3.8" fill="#5f4488" opacity="0.73"/><circle cx="331.0" cy="1397.0" r="2.8" fill="#4b3577" opacity="0.49"/><circle cx="512.2" cy="1287.5" r="3.8" fill="#6f4f94" opacity="0.63"/><circle cx="403.1" cy="1131.6" r="3.8" fill="#6f4f94" opacity="0.73"/><circle cx="146.9" cy="1269.9" r="2.8" fill="#7d5a9c" opacity="0.51"/><circle cx="216.0" cy="1149.4" r="3.3" fill="#6f4f94" opacity="0.46"/><circle cx="430.0" cy="1159.7" r="2.8" fill="#7d5a9c" opacity="0.73"/><circle cx="435.8" cy="1127.3" r="3.7" fill="#6f4f94" opacity="0.84"/><circle cx="85.3" cy="1210.3" r="3.2" fill="#4b3577" opacity="0.81"/><circle cx="150.0" cy="1179.5" r="3.7" fill="#5f4488" opacity="0.62"/><circle cx="398.1" cy="1407.5" r="3.6" fill="#6f4f94" opacity="0.75"/><circle cx="190.2" cy="1391.5" r="3.8" fill="#8c6cab" opacity="0.62"/><circle cx="222.8" cy="1361.4" r="3.6" fill="#6f4f94" opacity="0.76"/><circle cx="337.1" cy="1219.8" r="2.8" fill="#5f4488" opacity="0.67"/><circle cx="471.0" cy="1335.6" r="3.1" fill="#8c6cab" opacity="0.83"/><circle cx="222.3" cy="1294.5" r="3.6" fill="#7d5a9c" opacity="0.75"/><circle cx="211.4" cy="1198.1" r="4.0" fill="#6f4f94" opacity="0.71"/><circle cx="493.9" cy="1429.4" r="4.0" fill="#32245a" opacity="0.55"/><circle cx="151.5" cy="1409.6" r="3.6" fill="#6f4f94" opacity="0.56"/><circle cx="129.7" cy="1248.4" r="3.7" fill="#6f4f94" opacity="0.50"/><circle cx="471.6" cy="1395.2" r="3.1" fill="#6f4f94" opacity="0.50"/><circle cx="192.3" cy="1251.7" r="3.5" fill="#6f4f94" opacity="0.80"/><circle cx="488.2" cy="1172.6" r="2.9" fill="#5f4488" opacity="0.52"/><circle cx="380.9" cy="1394.9" r="3.1" fill="#6f4f94" opacity="0.63"/><circle cx="159.2" cy="1145.4" r="3.8" fill="#4b3577" opacity="0.82"/><circle cx="343.6" cy="1238.4" r="2.9" fill="#4b3577" opacity="0.57"/><circle cx="487.0" cy="1308.6" r="3.4" fill="#7d5a9c" opacity="0.55"/><circle cx="172.1" cy="1402.4" r="3.1" fill="#8c6cab" opacity="0.73"/><circle cx="460.1" cy="1378.1" r="2.7" fill="#6f4f94" opacity="0.69"/><circle cx="396.8" cy="1169.6" r="2.9" fill="#32245a" opacity="0.70"/><circle cx="387.9" cy="1264.6" r="3.8" fill="#6f4f94" opacity="0.52"/><circle cx="148.2" cy="1373.7" r="2.6" fill="#4b3577" opacity="0.85"/><circle cx="415.0" cy="1315.4" r="3.2" fill="#4b3577" opacity="0.85"/><circle cx="222.9" cy="1243.2" r="3.3" fill="#4b3577" opacity="0.76"/><circle cx="274.6" cy="1337.5" r="3.6" fill="#6f4f94" opacity="0.58"/><circle cx="99.2" cy="1316.3" r="4.0" fill="#7d5a9c" opacity="0.61"/><circle cx="296.2" cy="1370.8" r="3.3" fill="#7d5a9c" opacity="0.75"/><circle cx="177.7" cy="1385.1" r="3.1" fill="#5f4488" opacity="0.52"/><circle cx="308.9" cy="1197.9" r="3.5" fill="#7d5a9c" opacity="0.64"/><circle cx="425.8" cy="1297.2" r="3.7" fill="#7d5a9c" opacity="0.50"/><circle cx="162.7" cy="1241.3" r="3.8" fill="#6f4f94" opacity="0.73"/><circle cx="332.0" cy="1352.7" r="3.7" fill="#7d5a9c" opacity="0.60"/><circle cx="264.7" cy="1272.8" r="3.8" fill="#8c6cab" opacity="0.58"/><circle cx="520.1" cy="1110.2" r="3.7" fill="#8c6cab" opacity="0.74"/><circle cx="245.0" cy="1379.0" r="2.8" fill="#7d5a9c" opacity="0.58"/><circle cx="185.4" cy="1213.2" r="3.6" fill="#5f4488" opacity="0.62"/><circle cx="157.2" cy="1429.0" r="3.1" fill="#6f4f94" opacity="0.82"/><circle cx="466.6" cy="1129.6" r="3.0" fill="#6f4f94" opacity="0.73"/><circle cx="318.6" cy="1153.3" r="3.0" fill="#7d5a9c" opacity="0.62"/><circle cx="90.1" cy="1176.4" r="2.7" fill="#6f4f94" opacity="0.52"/><circle cx="208.3" cy="1296.8" r="3.8" fill="#7d5a9c" opacity="0.66"/><circle cx="118.4" cy="1217.1" r="3.3" fill="#4b3577" opacity="0.68"/><circle cx="250.1" cy="1342.2" r="3.6" fill="#32245a" opacity="0.66"/><circle cx="322.3" cy="1361.3" r="2.8" fill="#6f4f94" opacity="0.70"/><circle cx="205.9" cy="1353.5" r="3.0" fill="#32245a" opacity="0.79"/><circle cx="440.0" cy="1424.0" r="3.9" fill="#32245a" opacity="0.69"/><circle cx="285.5" cy="1400.6" r="4.0" fill="#6f4f94" opacity="0.78"/><circle cx="460.4" cy="1214.9" r="3.9" fill="#5f4488" opacity="0.52"/><circle cx="512.3" cy="1423.6" r="2.9" fill="#6f4f94" opacity="0.46"/><circle cx="151.3" cy="1354.4" r="3.1" fill="#8c6cab" opacity="0.76"/><circle cx="383.8" cy="1309.0" r="3.7" fill="#6f4f94" opacity="0.65"/><circle cx="96.4" cy="1159.1" r="3.6" fill="#32245a" opacity="0.45"/><circle cx="372.8" cy="1344.5" r="2.7" fill="#5f4488" opacity="0.63"/><circle cx="119.4" cy="1233.1" r="3.9" fill="#32245a" opacity="0.54"/><circle cx="268.0" cy="1229.8" r="4.0" fill="#7d5a9c" opacity="0.60"/><circle cx="442.4" cy="1307.8" r="3.3" fill="#6f4f94" opacity="0.63"/><circle cx="456.1" cy="1329.0" r="3.7" fill="#6f4f94" opacity="0.47"/><circle cx="193.8" cy="1291.5" r="3.3" fill="#6f4f94" opacity="0.71"/><circle cx="495.1" cy="1338.0" r="3.6" fill="#32245a" opacity="0.64"/><circle cx="106.7" cy="1409.7" r="2.9" fill="#6f4f94" opacity="0.74"/><circle cx="228.6" cy="1264.1" r="3.1" fill="#6f4f94" opacity="0.68"/><circle cx="136.1" cy="1313.5" r="2.6" fill="#6f4f94" opacity="0.77"/><circle cx="299.1" cy="1289.2" r="3.1" fill="#5f4488" opacity="0.58"/><circle cx="418.9" cy="1183.5" r="3.0" fill="#6f4f94" opacity="0.74"/><circle cx="466.8" cy="1427.7" r="2.6" fill="#8c6cab" opacity="0.50"/><circle cx="396.5" cy="1310.0" r="3.1" fill="#8c6cab" opacity="0.59"/><circle cx="149.8" cy="1217.1" r="3.5" fill="#5f4488" opacity="0.80"/><circle cx="275.1" cy="1305.4" r="3.1" fill="#7d5a9c" opacity="0.77"/><circle cx="268.9" cy="1350.8" r="3.0" fill="#6f4f94" opacity="0.76"/><circle cx="440.2" cy="1168.0" r="4.1" fill="#6f4f94" opacity="0.77"/><circle cx="320.7" cy="1139.9" r="3.5" fill="#5f4488" opacity="0.48"/><circle cx="383.1" cy="1414.5" r="3.5" fill="#8c6cab" opacity="0.51"/><circle cx="498.2" cy="1162.8" r="2.9" fill="#6f4f94" opacity="0.67"/><circle cx="183.9" cy="1238.7" r="4.0" fill="#7d5a9c" opacity="0.55"/><circle cx="340.8" cy="1267.6" r="3.0" fill="#7d5a9c" opacity="0.72"/><circle cx="418.9" cy="1114.4" r="3.2" fill="#6f4f94" opacity="0.77"/><circle cx="488.2" cy="1244.4" r="3.5" fill="#4b3577" opacity="0.81"/><circle cx="436.4" cy="1331.5" r="3.3" fill="#4b3577" opacity="0.68"/><circle cx="111.3" cy="1137.8" r="3.6" fill="#8c6cab" opacity="0.62"/><circle cx="190.5" cy="1108.0" r="2.6" fill="#6f4f94" opacity="0.48"/><circle cx="111.8" cy="1266.7" r="2.8" fill="#8c6cab" opacity="0.57"/><circle cx="285.9" cy="1312.8" r="3.4" fill="#6f4f94" opacity="0.51"/><circle cx="468.6" cy="1309.4" r="3.2" fill="#7d5a9c" opacity="0.64"/><circle cx="514.8" cy="1392.7" r="4.1" fill="#5f4488" opacity="0.81"/><circle cx="123.4" cy="1194.5" r="2.9" fill="#6f4f94" opacity="0.61"/><circle cx="244.3" cy="1434.9" r="2.9" fill="#7d5a9c" opacity="0.68"/><circle cx="425.2" cy="1146.7" r="4.0" fill="#4b3577" opacity="0.56"/><circle cx="135.8" cy="1153.0" r="3.5" fill="#5f4488" opacity="0.69"/><circle cx="416.6" cy="1430.2" r="2.8" fill="#6f4f94" opacity="0.46"/><circle cx="109.0" cy="1227.9" r="3.8" fill="#4b3577" opacity="0.54"/><circle cx="223.0" cy="1228.0" r="3.8" fill="#6f4f94" opacity="0.61"/><circle cx="320.7" cy="1436.4" r="3.1" fill="#7d5a9c" opacity="0.71"/><circle cx="382.0" cy="1153.8" r="3.2" fill="#6f4f94" opacity="0.49"/><circle cx="207.1" cy="1158.1" r="3.1" fill="#5f4488" opacity="0.82"/><circle cx="488.6" cy="1141.5" r="3.1" fill="#5f4488" opacity="0.49"/><circle cx="293.1" cy="1211.2" r="3.0" fill="#4b3577" opacity="0.58"/><circle cx="169.4" cy="1104.8" r="2.9" fill="#6f4f94" opacity="0.53"/><circle cx="449.7" cy="1364.8" r="3.8" fill="#6f4f94" opacity="0.51"/><circle cx="300.3" cy="1306.4" r="3.8" fill="#8c6cab" opacity="0.82"/><circle cx="243.9" cy="1396.9" r="4.0" fill="#8c6cab" opacity="0.63"/><circle cx="364.9" cy="1416.1" r="2.8" fill="#32245a" opacity="0.61"/><circle cx="295.9" cy="1189.7" r="3.7" fill="#4b3577" opacity="0.73"/><circle cx="315.6" cy="1167.0" r="3.7" fill="#7d5a9c" opacity="0.70"/><circle cx="357.1" cy="1214.6" r="3.9" fill="#7d5a9c" opacity="0.69"/><circle cx="478.5" cy="1267.4" r="4.0" fill="#6f4f94" opacity="0.69"/><circle cx="358.4" cy="1274.9" r="4.0" fill="#8c6cab" opacity="0.77"/><circle cx="431.4" cy="1404.6" r="3.0" fill="#5f4488" opacity="0.84"/><circle cx="241.0" cy="1144.0" r="3.6" fill="#6f4f94" opacity="0.81"/><circle cx="473.1" cy="1176.0" r="3.7" fill="#5f4488" opacity="0.70"/><circle cx="86.8" cy="1415.0" r="2.9" fill="#7d5a9c" opacity="0.52"/><circle cx="130.8" cy="1263.7" r="2.8" fill="#4b3577" opacity="0.67"/><circle cx="237.3" cy="1229.5" r="3.8" fill="#6f4f94" opacity="0.62"/><circle cx="351.1" cy="1253.4" r="2.8" fill="#7d5a9c" opacity="0.79"/><circle cx="447.7" cy="1254.9" r="2.7" fill="#7d5a9c" opacity="0.56"/><circle cx="389.1" cy="1252.0" r="2.9" fill="#4b3577" opacity="0.68"/><circle cx="513.6" cy="1351.5" r="3.8" fill="#7d5a9c" opacity="0.47"/><circle cx="397.4" cy="1349.8" r="3.8" fill="#5f4488" opacity="0.78"/><circle cx="161.4" cy="1183.1" r="3.1" fill="#32245a" opacity="0.48"/><circle cx="305.5" cy="1108.6" r="3.8" fill="#8c6cab" opacity="0.73"/><circle cx="366.5" cy="1428.6" r="3.4" fill="#7d5a9c" opacity="0.83"/><circle cx="360.1" cy="1375.9" r="3.5" fill="#5f4488" opacity="0.61"/><circle cx="190.9" cy="1199.0" r="3.5" fill="#5f4488" opacity="0.68"/><circle cx="512.2" cy="1437.3" r="2.7" fill="#6f4f94" opacity="0.76"/><circle cx="252.6" cy="1220.8" r="4.0" fill="#32245a" opacity="0.69"/><circle cx="88.5" cy="1231.4" r="3.8" fill="#4b3577" opacity="0.80"/><circle cx="210.2" cy="1312.7" r="3.9" fill="#5f4488" opacity="0.56"/><circle cx="421.9" cy="1130.3" r="3.1" fill="#6f4f94" opacity="0.75"/><circle cx="197.5" cy="1306.1" r="3.4" fill="#5f4488" opacity="0.58"/><circle cx="248.9" cy="1363.2" r="3.9" fill="#7d5a9c" opacity="0.55"/><circle cx="220.9" cy="1280.2" r="2.6" fill="#4b3577" opacity="0.67"/><circle cx="427.1" cy="1312.3" r="2.7" fill="#6f4f94" opacity="0.82"/><circle cx="286.2" cy="1436.9" r="3.8" fill="#8c6cab" opacity="0.56"/><circle cx="135.0" cy="1233.3" r="2.6" fill="#8c6cab" opacity="0.74"/><circle cx="212.5" cy="1257.9" r="2.8" fill="#5f4488" opacity="0.62"/><circle cx="191.4" cy="1360.8" r="2.9" fill="#5f4488" opacity="0.77"/><circle cx="497.2" cy="1359.9" r="3.0" fill="#32245a" opacity="0.82"/><circle cx="105.5" cy="1197.0" r="3.1" fill="#32245a" opacity="0.67"/><circle cx="306.4" cy="1142.0" r="3.7" fill="#8c6cab" opacity="0.46"/><circle cx="315.0" cy="1344.9" r="3.4" fill="#7d5a9c" opacity="0.61"/><circle cx="238.3" cy="1192.4" r="3.6" fill="#7d5a9c" opacity="0.68"/><circle cx="258.0" cy="1115.0" r="3.5" fill="#7d5a9c" opacity="0.55"/><circle cx="335.3" cy="1332.6" r="3.6" fill="#5f4488" opacity="0.84"/><circle cx="479.6" cy="1132.0" r="3.2" fill="#7d5a9c" opacity="0.71"/><circle cx="200.7" cy="1140.7" r="3.4" fill="#32245a" opacity="0.66"/><circle cx="289.4" cy="1126.6" r="3.7" fill="#6f4f94" opacity="0.65"/><circle cx="397.9" cy="1379.9" r="3.2" fill="#6f4f94" opacity="0.69"/><circle cx="111.1" cy="1115.5" r="3.8" fill="#8c6cab" opacity="0.47"/><circle cx="394.4" cy="1214.8" r="3.2" fill="#6f4f94" opacity="0.70"/><circle cx="493.3" cy="1281.1" r="4.1" fill="#5f4488" opacity="0.46"/><circle cx="472.8" cy="1163.6" r="3.0" fill="#4b3577" opacity="0.72"/><circle cx="167.8" cy="1304.5" r="2.8" fill="#6f4f94" opacity="0.50"/><circle cx="231.4" cy="1251.9" r="3.6" fill="#6f4f94" opacity="0.47"/><circle cx="308.4" cy="1408.1" r="3.3" fill="#32245a" opacity="0.75"/><circle cx="308.8" cy="1370.7" r="3.3" fill="#6f4f94" opacity="0.61"/><circle cx="323.1" cy="1411.0" r="3.8" fill="#5f4488" opacity="0.72"/><circle cx="236.4" cy="1103.3" r="3.5" fill="#8c6cab" opacity="0.46"/><circle cx="288.3" cy="1157.7" r="3.5" fill="#6f4f94" opacity="0.62"/><circle cx="422.6" cy="1226.5" r="4.0" fill="#4b3577" opacity="0.71"/><circle cx="362.2" cy="1294.0" r="3.9" fill="#6f4f94" opacity="0.76"/><circle cx="266.3" cy="1420.2" r="3.5" fill="#6f4f94" opacity="0.81"/><circle cx="417.8" cy="1237.4" r="2.8" fill="#6f4f94" opacity="0.61"/><circle cx="139.2" cy="1195.0" r="3.2" fill="#5f4488" opacity="0.73"/><circle cx="457.2" cy="1178.8" r="3.0" fill="#8c6cab" opacity="0.54"/><circle cx="199.9" cy="1115.1" r="2.7" fill="#6f4f94" opacity="0.74"/><circle cx="512.3" cy="1189.9" r="3.4" fill="#7d5a9c" opacity="0.58"/><circle cx="215.8" cy="1213.1" r="3.9" fill="#5f4488" opacity="0.59"/><circle cx="280.3" cy="1388.7" r="3.3" fill="#4b3577" opacity="0.57"/><circle cx="500.9" cy="1265.0" r="4.0" fill="#7d5a9c" opacity="0.57"/><circle cx="504.5" cy="1238.3" r="3.5" fill="#7d5a9c" opacity="0.74"/><circle cx="184.8" cy="1187.8" r="2.9" fill="#32245a" opacity="0.54"/><circle cx="133.2" cy="1354.8" r="3.2" fill="#8c6cab" opacity="0.81"/><circle cx="260.6" cy="1432.0" r="4.0" fill="#6f4f94" opacity="0.56"/><circle cx="508.7" cy="1340.8" r="3.5" fill="#5f4488" opacity="0.65"/><circle cx="241.4" cy="1315.4" r="4.1" fill="#8c6cab" opacity="0.82"/><circle cx="159.6" cy="1223.3" r="3.0" fill="#6f4f94" opacity="0.51"/><circle cx="373.4" cy="1103.7" r="3.5" fill="#6f4f94" opacity="0.84"/><circle cx="461.9" cy="1277.3" r="2.7" fill="#5f4488" opacity="0.62"/><circle cx="304.0" cy="1350.5" r="2.8" fill="#4b3577" opacity="0.58"/><circle cx="495.9" cy="1318.4" r="2.7" fill="#7d5a9c" opacity="0.53"/><circle cx="102.9" cy="1356.2" r="3.6" fill="#8c6cab" opacity="0.51"/><circle cx="518.7" cy="1224.9" r="2.6" fill="#4b3577" opacity="0.49"/><circle cx="278.9" cy="1166.5" r="4.1" fill="#5f4488" opacity="0.47"/><circle cx="223.0" cy="1429.6" r="2.9" fill="#6f4f94" opacity="0.82"/><circle cx="385.7" cy="1185.7" r="2.7" fill="#32245a" opacity="0.77"/><circle cx="492.2" cy="1183.8" r="2.8" fill="#5f4488" opacity="0.48"/><circle cx="201.3" cy="1267.4" r="2.8" fill="#6f4f94" opacity="0.78"/><circle cx="466.6" cy="1355.2" r="2.7" fill="#7d5a9c" opacity="0.48"/><circle cx="356.4" cy="1137.9" r="3.0" fill="#6f4f94" opacity="0.81"/><circle cx="408.9" cy="1204.5" r="2.8" fill="#7d5a9c" opacity="0.77"/><circle cx="406.3" cy="1286.4" r="3.5" fill="#7d5a9c" opacity="0.81"/><circle cx="259.5" cy="1126.6" r="4.1" fill="#4b3577" opacity="0.62"/><circle cx="510.3" cy="1318.3" r="3.5" fill="#5f4488" opacity="0.59"/><circle cx="364.7" cy="1335.9" r="3.9" fill="#6f4f94" opacity="0.64"/><circle cx="186.1" cy="1225.9" r="3.5" fill="#4b3577" opacity="0.55"/><circle cx="294.3" cy="1177.7" r="3.5" fill="#4b3577" opacity="0.65"/><circle cx="209.4" cy="1419.2" r="3.1" fill="#6f4f94" opacity="0.68"/><circle cx="500.4" cy="1150.4" r="3.8" fill="#5f4488" opacity="0.53"/><circle cx="436.1" cy="1249.7" r="3.9" fill="#4b3577" opacity="0.64"/><circle cx="117.1" cy="1377.8" r="3.7" fill="#5f4488" opacity="0.66"/><circle cx="96.9" cy="1128.8" r="3.4" fill="#4b3577" opacity="0.57"/><circle cx="416.6" cy="1155.2" r="3.1" fill="#6f4f94" opacity="0.75"/><circle cx="376.9" cy="1250.2" r="2.8" fill="#6f4f94" opacity="0.69"/><circle cx="224.4" cy="1165.4" r="3.8" fill="#5f4488" opacity="0.59"/><circle cx="326.0" cy="1423.5" r="3.3" fill="#6f4f94" opacity="0.73"/><circle cx="258.0" cy="1102.3" r="3.4" fill="#4b3577" opacity="0.59"/><circle cx="106.4" cy="1372.9" r="3.8" fill="#6f4f94" opacity="0.47"/><circle cx="457.0" cy="1246.6" r="3.1" fill="#8c6cab" opacity="0.85"/><circle cx="435.2" cy="1436.3" r="3.7" fill="#6f4f94" opacity="0.65"/><circle cx="456.1" cy="1193.3" r="2.9" fill="#7d5a9c" opacity="0.75"/><circle cx="156.9" cy="1166.4" r="3.8" fill="#6f4f94" opacity="0.65"/><circle cx="325.4" cy="1379.3" r="3.9" fill="#7d5a9c" opacity="0.65"/><circle cx="364.5" cy="1359.8" r="3.5" fill="#6f4f94" opacity="0.53"/><circle cx="421.8" cy="1198.1" r="3.4" fill="#8c6cab" opacity="0.77"/><circle cx="319.3" cy="1299.2" r="3.2" fill="#7d5a9c" opacity="0.83"/><circle cx="337.3" cy="1142.6" r="4.0" fill="#7d5a9c" opacity="0.46"/><circle cx="458.6" cy="1160.6" r="3.0" fill="#6f4f94" opacity="0.60"/><circle cx="408.8" cy="1366.1" r="3.7" fill="#6f4f94" opacity="0.75"/><circle cx="438.9" cy="1111.3" r="3.2" fill="#6f4f94" opacity="0.80"/><circle cx="273.1" cy="1429.9" r="3.2" fill="#8c6cab" opacity="0.53"/><circle cx="342.6" cy="1403.2" r="2.8" fill="#5f4488" opacity="0.63"/><circle cx="441.4" cy="1341.9" r="3.6" fill="#6f4f94" opacity="0.83"/><circle cx="311.3" cy="1391.0" r="3.1" fill="#5f4488" opacity="0.59"/><circle cx="102.2" cy="1177.7" r="2.7" fill="#6f4f94" opacity="0.50"/><circle cx="479.3" cy="1408.3" r="3.7" fill="#6f4f94" opacity="0.65"/><circle cx="483.1" cy="1383.5" r="3.3" fill="#5f4488" opacity="0.83"/><circle cx="347.0" cy="1205.0" r="3.4" fill="#4b3577" opacity="0.76"/><circle cx="513.6" cy="1178.1" r="3.9" fill="#6f4f94" opacity="0.50"/><circle cx="100.8" cy="1258.0" r="4.1" fill="#8c6cab" opacity="0.61"/><circle cx="184.6" cy="1122.9" r="3.8" fill="#32245a" opacity="0.55"/><circle cx="431.4" cy="1236.1" r="3.0" fill="#7d5a9c" opacity="0.56"/><circle cx="349.5" cy="1123.9" r="2.6" fill="#6f4f94" opacity="0.53"/><circle cx="95.3" cy="1387.4" r="3.4" fill="#6f4f94" opacity="0.48"/><circle cx="332.3" cy="1256.0" r="3.1" fill="#6f4f94" opacity="0.60"/><circle cx="172.4" cy="1352.3" r="3.6" fill="#32245a" opacity="0.53"/><circle cx="265.6" cy="1157.2" r="3.5" fill="#32245a" opacity="0.49"/><circle cx="265.2" cy="1405.4" r="3.0" fill="#4b3577" opacity="0.80"/><circle cx="260.6" cy="1260.3" r="2.9" fill="#6f4f94" opacity="0.62"/><circle cx="360.8" cy="1242.4" r="2.9" fill="#6f4f94" opacity="0.49"/><circle cx="507.3" cy="1127.1" r="2.8" fill="#7d5a9c" opacity="0.62"/><circle cx="248.3" cy="1131.0" r="3.6" fill="#8c6cab" opacity="0.47"/><circle cx="421.7" cy="1334.7" r="3.6" fill="#4b3577" opacity="0.61"/><circle cx="122.7" cy="1301.7" r="4.0" fill="#6f4f94" opacity="0.47"/><circle cx="122.0" cy="1389.0" r="2.7" fill="#4b3577" opacity="0.58"/><circle cx="209.4" cy="1130.9" r="3.9" fill="#6f4f94" opacity="0.61"/><circle cx="115.2" cy="1348.4" r="3.8" fill="#8c6cab" opacity="0.52"/><circle cx="493.8" cy="1231.3" r="2.7" fill="#8c6cab" opacity="0.61"/><circle cx="471.5" cy="1379.4" r="3.4" fill="#4b3577" opacity="0.79"/><circle cx="405.6" cy="1111.1" r="3.5" fill="#6f4f94" opacity="0.83"/><circle cx="338.7" cy="1313.3" r="2.7" fill="#6f4f94" opacity="0.84"/><circle cx="87.0" cy="1272.1" r="3.4" fill="#6f4f94" opacity="0.67"/><circle cx="348.1" cy="1288.2" r="3.8" fill="#6f4f94" opacity="0.84"/><circle cx="493.1" cy="1414.8" r="2.7" fill="#7d5a9c" opacity="0.51"/><circle cx="387.7" cy="1124.5" r="4.1" fill="#8c6cab" opacity="0.64"/><circle cx="163.9" cy="1392.3" r="3.0" fill="#6f4f94" opacity="0.76"/><circle cx="355.4" cy="1168.1" r="3.3" fill="#4b3577" opacity="0.69"/><circle cx="515.9" cy="1269.2" r="4.0" fill="#5f4488" opacity="0.80"/><circle cx="90.2" cy="1373.8" r="3.6" fill="#4b3577" opacity="0.74"/><circle cx="407.2" cy="1416.5" r="3.6" fill="#6f4f94" opacity="0.61"/><circle cx="128.3" cy="1401.4" r="3.7" fill="#6f4f94" opacity="0.72"/><circle cx="357.2" cy="1179.7" r="3.8" fill="#6f4f94" opacity="0.66"/><circle cx="237.0" cy="1365.5" r="3.8" fill="#6f4f94" opacity="0.81"/><circle cx="176.6" cy="1334.2" r="2.9" fill="#7d5a9c" opacity="0.54"/><circle cx="343.6" cy="1113.3" r="3.3" fill="#5f4488" opacity="0.85"/><circle cx="372.2" cy="1306.1" r="2.9" fill="#6f4f94" opacity="0.68"/><circle cx="247.5" cy="1178.5" r="2.8" fill="#6f4f94" opacity="0.74"/><circle cx="190.4" cy="1134.1" r="3.6" fill="#32245a" opacity="0.82"/><circle cx="491.4" cy="1370.1" r="3.7" fill="#6f4f94" opacity="0.79"/><circle cx="332.6" cy="1103.6" r="2.8" fill="#6f4f94" opacity="0.72"/><circle cx="260.5" cy="1143.3" r="2.9" fill="#4b3577" opacity="0.84"/><circle cx="91.6" cy="1362.2" r="3.1" fill="#6f4f94" opacity="0.75"/><circle cx="233.9" cy="1349.6" r="4.1" fill="#4b3577" opacity="0.72"/><circle cx="460.9" cy="1411.5" r="2.8" fill="#6f4f94" opacity="0.61"/><circle cx="324.5" cy="1237.2" r="3.7" fill="#5f4488" opacity="0.62"/><circle cx="351.0" cy="1322.6" r="3.4" fill="#7d5a9c" opacity="0.75"/><circle cx="332.6" cy="1130.0" r="3.8" fill="#32245a" opacity="0.48"/><circle cx="279.5" cy="1412.8" r="3.2" fill="#6f4f94" opacity="0.79"/><circle cx="468.7" cy="1193.3" r="3.5" fill="#6f4f94" opacity="0.75"/><circle cx="219.3" cy="1349.6" r="3.9" fill="#5f4488" opacity="0.74"/><circle cx="279.0" cy="1182.8" r="4.0" fill="#5f4488" opacity="0.74"/><circle cx="150.7" cy="1130.3" r="3.9" fill="#7d5a9c" opacity="0.63"/><circle cx="208.8" cy="1400.2" r="3.0" fill="#7d5a9c" opacity="0.62"/><circle cx="432.7" cy="1276.5" r="3.9" fill="#8c6cab" opacity="0.49"/><circle cx="442.9" cy="1240.1" r="3.5" fill="#7d5a9c" opacity="0.54"/><circle cx="249.3" cy="1407.2" r="3.4" fill="#7d5a9c" opacity="0.52"/><circle cx="243.3" cy="1331.5" r="3.5" fill="#7d5a9c" opacity="0.51"/><circle cx="330.8" cy="1179.8" r="1.7" fill="#3b2a72" opacity="0.86"/><circle cx="330.0" cy="1114.3" r="1.7" fill="#3b2a72" opacity="0.84"/><circle cx="216.3" cy="1335.3" r="1.7" fill="#3b2a72" opacity="0.94"/><circle cx="170.9" cy="1211.8" r="1.5" fill="#3b2a72" opacity="0.84"/><circle cx="117.9" cy="1274.7" r="1.9" fill="#3b2a72" opacity="0.62"/><circle cx="331.7" cy="1154.5" r="1.7" fill="#3b2a72" opacity="0.68"/><circle cx="122.5" cy="1282.5" r="1.8" fill="#3b2a72" opacity="0.64"/><circle cx="472.3" cy="1126.2" r="1.9" fill="#3b2a72" opacity="0.62"/><circle cx="280.8" cy="1165.3" r="1.3" fill="#3b2a72" opacity="0.69"/><circle cx="318.2" cy="1216.8" r="1.6" fill="#3b2a72" opacity="0.68"/><circle cx="285.3" cy="1176.6" r="1.2" fill="#3b2a72" opacity="0.69"/><circle cx="147.1" cy="1111.2" r="1.5" fill="#3b2a72" opacity="0.66"/><circle cx="225.0" cy="1312.8" r="1.3" fill="#3b2a72" opacity="0.87"/><circle cx="482.6" cy="1349.2" r="1.6" fill="#3b2a72" opacity="0.72"/><circle cx="217.8" cy="1136.3" r="1.6" fill="#3b2a72" opacity="0.85"/><circle cx="337.2" cy="1378.9" r="2.0" fill="#3b2a72" opacity="0.67"/><circle cx="361.2" cy="1124.4" r="1.3" fill="#3b2a72" opacity="0.85"/><circle cx="427.3" cy="1388.4" r="1.3" fill="#3b2a72" opacity="0.89"/><circle cx="217.1" cy="1173.6" r="1.5" fill="#3b2a72" opacity="0.84"/><circle cx="237.8" cy="1321.8" r="1.7" fill="#3b2a72" opacity="0.76"/><circle cx="457.2" cy="1325.1" r="1.8" fill="#3b2a72" opacity="0.73"/><circle cx="358.8" cy="1262.5" r="1.9" fill="#3b2a72" opacity="0.83"/><circle cx="510.2" cy="1343.1" r="1.6" fill="#3b2a72" opacity="0.77"/><circle cx="282.8" cy="1188.1" r="1.6" fill="#3b2a72" opacity="0.76"/><circle cx="261.1" cy="1342.7" r="1.8" fill="#3b2a72" opacity="0.93"/><circle cx="315.2" cy="1320.6" r="1.5" fill="#3b2a72" opacity="0.88"/><circle cx="420.6" cy="1286.7" r="1.9" fill="#3b2a72" opacity="0.62"/><circle cx="331.4" cy="1264.9" r="1.2" fill="#3b2a72" opacity="0.90"/><circle cx="250.2" cy="1386.0" r="1.8" fill="#3b2a72" opacity="0.93"/><circle cx="212.7" cy="1126.6" r="1.5" fill="#3b2a72" opacity="0.72"/><circle cx="485.1" cy="1120.5" r="1.7" fill="#3b2a72" opacity="0.76"/><circle cx="408.2" cy="1401.8" r="1.2" fill="#3b2a72" opacity="0.85"/><circle cx="327.5" cy="1137.2" r="1.8" fill="#3b2a72" opacity="0.74"/><circle cx="246.6" cy="1113.6" r="1.2" fill="#3b2a72" opacity="0.78"/><circle cx="387.5" cy="1364.9" r="1.9" fill="#3b2a72" opacity="0.67"/><circle cx="338.1" cy="1248.0" r="1.8" fill="#3b2a72" opacity="0.72"/><circle cx="473.4" cy="1160.0" r="1.5" fill="#3b2a72" opacity="0.90"/><circle cx="399.2" cy="1223.6" r="2.0" fill="#3b2a72" opacity="0.72"/><circle cx="502.1" cy="1273.9" r="1.9" fill="#3b2a72" opacity="0.83"/><circle cx="143.1" cy="1376.1" r="1.5" fill="#3b2a72" opacity="0.71"/><circle cx="163.1" cy="1308.2" r="1.9" fill="#3b2a72" opacity="0.92"/><circle cx="350.0" cy="1428.4" r="1.6" fill="#3b2a72" opacity="0.62"/><circle cx="274.5" cy="1381.6" r="1.8" fill="#3b2a72" opacity="0.80"/><circle cx="491.7" cy="1336.5" r="1.6" fill="#3b2a72" opacity="0.82"/><circle cx="155.0" cy="1190.1" r="1.8" fill="#3b2a72" opacity="0.84"/><circle cx="411.7" cy="1308.3" r="1.7" fill="#3b2a72" opacity="0.86"/><circle cx="116.8" cy="1407.7" r="1.5" fill="#3b2a72" opacity="0.92"/><circle cx="359.1" cy="1257.4" r="1.5" fill="#3b2a72" opacity="0.71"/><circle cx="255.6" cy="1124.9" r="1.2" fill="#3b2a72" opacity="0.73"/><circle cx="385.6" cy="1240.3" r="1.5" fill="#3b2a72" opacity="0.60"/><circle cx="458.7" cy="1222.1" r="1.7" fill="#3b2a72" opacity="0.77"/><circle cx="300.1" cy="1296.6" r="1.7" fill="#3b2a72" opacity="0.71"/><circle cx="445.3" cy="1434.9" r="1.3" fill="#3b2a72" opacity="0.75"/><circle cx="103.9" cy="1277.1" r="1.4" fill="#3b2a72" opacity="0.69"/><circle cx="85.6" cy="1244.7" r="1.7" fill="#3b2a72" opacity="0.83"/><circle cx="478.9" cy="1267.9" r="1.8" fill="#3b2a72" opacity="0.91"/><circle cx="233.1" cy="1219.1" r="1.9" fill="#3b2a72" opacity="0.80"/><circle cx="119.1" cy="1416.7" r="1.7" fill="#3b2a72" opacity="0.68"/><circle cx="446.9" cy="1317.7" r="1.6" fill="#3b2a72" opacity="0.89"/><circle cx="149.9" cy="1385.4" r="1.7" fill="#3b2a72" opacity="0.95"/>
</g>
<path d="M264.4 1232.4 L272.6 1224.2 L289.1 1220.1 L311.0 1221.4 L317.8 1232.4 L320.5 1254.3 L321.9 1276.2 L332.9 1292.6 L343.8 1305.0 L327.4 1295.4 L311.0 1283.0 L289.1 1272.1 L272.6 1259.8 L263.0 1254.3 L267.7 1243.3Z" fill="#fdfbfd" filter="url(#vb)"/>
<path d="M264.4 1232.4 L272.6 1224.2 L289.1 1220.1 L311.0 1221.4 L317.8 1232.4 L320.5 1254.3 L321.9 1276.2 L332.9 1292.6 L343.8 1305.0 L327.4 1295.4 L311.0 1283.0 L289.1 1272.1 L272.6 1259.8 L263.0 1254.3 L267.7 1243.3Z" fill="#fefdfe" opacity="0.85"/>
<path d="M265.8 1218.7 L278.1 1213.2 L297.3 1209.9 L316.4 1211.9 L327.4 1220.1 L323.3 1224.2" fill="none" stroke="#3a3a78" stroke-width="2.2" opacity="0.80" stroke-linecap="round" stroke-linejoin="round" filter="url(#nb)"/>
<path d="M317.8 1232.4 L321.4 1254.3 L323.3 1278.9 L334.2 1294.0 L345.2 1306.3" fill="none" stroke="#4a4488" stroke-width="1.8" opacity="0.70" stroke-linecap="round" stroke-linejoin="round" filter="url(#nb)"/>
<ellipse cx="289.1" cy="1239.2" rx="5.0" ry="3.0" fill="#f08aa0" opacity="0.60" filter="url(#nb)"/>
</g>
<clipPath id="cp1"><rect x="528.20" y="1102.30" width="437.80" height="335.30"/></clipPath>
<g clip-path="url(#cp1)">
<rect x="528.20" y="1102.30" width="437.80" height="335.30" fill="#e7b3d2" filter="url(#tex)"/>
<g filter="url(#nb)">
<circle cx="862.6" cy="1318.5" r="2.6" fill="#8c6cab" opacity="0.71"/><circle cx="707.5" cy="1168.7" r="3.0" fill="#7d5a9c" opacity="0.46"/><circle cx="824.5" cy="1427.3" r="3.8" fill="#7d5a9c" opacity="0.82"/><circle cx="715.5" cy="1387.6" r="3.0" fill="#6f4f94" opacity="0.49"/><circle cx="544.0" cy="1279.3" r="3.7" fill="#7d5a9c" opacity="0.47"/><circle cx="795.8" cy="1389.3" r="3.1" fill="#4b3577" opacity="0.65"/><circle cx="757.2" cy="1393.6" r="3.4" fill="#6f4f94" opacity="0.58"/><circle cx="671.3" cy="1145.4" r="3.3" fill="#32245a" opacity="0.83"/><circle cx="731.8" cy="1342.1" r="3.6" fill="#8c6cab" opacity="0.52"/><circle cx="838.1" cy="1114.6" r="3.5" fill="#5f4488" opacity="0.63"/><circle cx="637.0" cy="1187.6" r="3.7" fill="#8c6cab" opacity="0.85"/><circle cx="734.7" cy="1391.2" r="2.8" fill="#6f4f94" opacity="0.64"/><circle cx="646.8" cy="1117.7" r="3.9" fill="#7d5a9c" opacity="0.75"/><circle cx="921.4" cy="1393.7" r="2.8" fill="#5f4488" opacity="0.66"/><circle cx="865.6" cy="1115.3" r="3.8" fill="#4b3577" opacity="0.51"/><circle cx="642.3" cy="1161.6" r="3.1" fill="#6f4f94" opacity="0.73"/><circle cx="928.8" cy="1144.1" r="2.7" fill="#6f4f94" opacity="0.59"/><circle cx="584.0" cy="1176.3" r="3.8" fill="#7d5a9c" opacity="0.65"/><circle cx="874.5" cy="1168.7" r="3.1" fill="#4b3577" opacity="0.63"/><circle cx="958.7" cy="1205.6" r="3.6" fill="#8c6cab" opacity="0.79"/><circle cx="812.8" cy="1166.6" r="3.9" fill="#32245a" opacity="0.54"/><circle cx="656.1" cy="1392.5" r="3.7" fill="#8c6cab" opacity="0.68"/><circle cx="964.9" cy="1183.6" r="3.3" fill="#4b3577" opacity="0.84"/><circle cx="681.2" cy="1121.5" r="3.3" fill="#5f4488" opacity="0.49"/><circle cx="613.4" cy="1231.0" r="2.7" fill="#7d5a9c" opacity="0.73"/><circle cx="756.4" cy="1294.4" r="3.0" fill="#7d5a9c" opacity="0.63"/><circle cx="681.2" cy="1155.3" r="3.9" fill="#6f4f94" opacity="0.58"/><circle cx="771.5" cy="1219.3" r="3.6" fill="#6f4f94" opacity="0.65"/><circle cx="679.3" cy="1428.6" r="3.6" fill="#7d5a9c" opacity="0.51"/><circle cx="785.3" cy="1107.4" r="3.4" fill="#4b3577" opacity="0.69"/><circle cx="947.2" cy="1427.4" r="3.8" fill="#7d5a9c" opacity="0.64"/><circle cx="698.9" cy="1430.8" r="3.8" fill="#7d5a9c" opacity="0.59"/><circle cx="574.2" cy="1410.3" r="3.7" fill="#6f4f94" opacity="0.50"/><circle cx="602.1" cy="1392.0" r="2.9" fill="#8c6cab" opacity="0.45"/><circle cx="660.5" cy="1321.6" r="4.0" fill="#7d5a9c" opacity="0.75"/><circle cx="609.2" cy="1289.1" r="3.5" fill="#4b3577" opacity="0.53"/><circle cx="586.7" cy="1120.6" r="2.7" fill="#8c6cab" opacity="0.52"/><circle cx="535.0" cy="1218.6" r="3.8" fill="#6f4f94" opacity="0.63"/><circle cx="812.8" cy="1258.5" r="3.7" fill="#4b3577" opacity="0.55"/><circle cx="572.5" cy="1291.9" r="2.7" fill="#5f4488" opacity="0.48"/><circle cx="596.8" cy="1106.6" r="3.5" fill="#7d5a9c" opacity="0.74"/><circle cx="555.2" cy="1320.9" r="3.0" fill="#5f4488" opacity="0.49"/><circle cx="948.5" cy="1268.7" r="3.9" fill="#32245a" opacity="0.70"/><circle cx="531.0" cy="1167.6" r="4.0" fill="#6f4f94" opacity="0.69"/><circle cx="826.5" cy="1368.1" r="2.9" fill="#32245a" opacity="0.68"/><circle cx="618.4" cy="1259.0" r="3.4" fill="#8c6cab" opacity="0.70"/><circle cx="859.2" cy="1269.8" r="3.4" fill="#4b3577" opacity="0.67"/><circle cx="872.0" cy="1180.8" r="2.8" fill="#4b3577" opacity="0.61"/><circle cx="792.5" cy="1126.7" r="3.8" fill="#4b3577" opacity="0.82"/><circle cx="726.9" cy="1310.2" r="3.6" fill="#7d5a9c" opacity="0.64"/><circle cx="536.8" cy="1242.4" r="4.0" fill="#8c6cab" opacity="0.79"/><circle cx="940.3" cy="1319.3" r="3.7" fill="#32245a" opacity="0.76"/><circle cx="831.9" cy="1272.9" r="3.0" fill="#5f4488" opacity="0.47"/><circle cx="692.5" cy="1395.3" r="3.3" fill="#4b3577" opacity="0.69"/><circle cx="775.3" cy="1265.8" r="3.3" fill="#7d5a9c" opacity="0.47"/><circle cx="611.6" cy="1304.3" r="2.8" fill="#5f4488" opacity="0.60"/><circle cx="763.4" cy="1362.0" r="2.6" fill="#32245a" opacity="0.75"/><circle cx="724.8" cy="1231.2" r="2.9" fill="#6f4f94" opacity="0.78"/><circle cx="771.3" cy="1186.6" r="3.1" fill="#5f4488" opacity="0.46"/><circle cx="896.3" cy="1421.1" r="3.1" fill="#4b3577" opacity="0.84"/><circle cx="834.6" cy="1396.5" r="2.9" fill="#6f4f94" opacity="0.55"/><circle cx="881.4" cy="1225.5" r="4.0" fill="#6f4f94" opacity="0.79"/><circle cx="711.1" cy="1258.2" r="3.1" fill="#6f4f94" opacity="0.71"/><circle cx="551.0" cy="1300.6" r="4.0" fill="#6f4f94" opacity="0.77"/><circle cx="851.6" cy="1296.4" r="4.0" fill="#6f4f94" opacity="0.66"/><circle cx="627.8" cy="1415.5" r="3.7" fill="#7d5a9c" opacity="0.49"/><circle cx="827.4" cy="1314.9" r="3.5" fill="#6f4f94" opacity="0.47"/><circle cx="613.0" cy="1168.8" r="3.2" fill="#6f4f94" opacity="0.52"/><circle cx="614.1" cy="1410.2" r="3.6" fill="#7d5a9c" opacity="0.53"/><circle cx="654.7" cy="1170.0" r="2.8" fill="#4b3577" opacity="0.71"/><circle cx="949.8" cy="1149.5" r="2.9" fill="#6f4f94" opacity="0.49"/><circle cx="965.9" cy="1235.1" r="3.6" fill="#7d5a9c" opacity="0.69"/><circle cx="537.6" cy="1203.2" r="3.1" fill="#5f4488" opacity="0.62"/><circle cx="863.7" cy="1238.2" r="2.8" fill="#8c6cab" opacity="0.51"/><circle cx="688.7" cy="1329.6" r="3.5" fill="#7d5a9c" opacity="0.80"/><circle cx="583.3" cy="1197.6" r="3.7" fill="#8c6cab" opacity="0.80"/><circle cx="832.1" cy="1189.7" r="3.1" fill="#32245a" opacity="0.61"/><circle cx="708.8" cy="1338.5" r="2.7" fill="#6f4f94" opacity="0.62"/><circle cx="679.9" cy="1410.9" r="2.8" fill="#6f4f94" opacity="0.74"/><circle cx="852.8" cy="1198.1" r="2.9" fill="#32245a" opacity="0.74"/><circle cx="900.5" cy="1312.7" r="2.6" fill="#7d5a9c" opacity="0.82"/><circle cx="906.5" cy="1340.4" r="2.8" fill="#6f4f94" opacity="0.49"/><circle cx="928.4" cy="1284.6" r="4.0" fill="#6f4f94" opacity="0.52"/><circle cx="679.0" cy="1348.8" r="4.1" fill="#32245a" opacity="0.72"/><circle cx="841.7" cy="1305.1" r="3.3" fill="#6f4f94" opacity="0.52"/><circle cx="673.8" cy="1169.5" r="3.5" fill="#7d5a9c" opacity="0.55"/><circle cx="800.9" cy="1158.3" r="3.7" fill="#6f4f94" opacity="0.62"/><circle cx="724.0" cy="1362.2" r="3.6" fill="#6f4f94" opacity="0.77"/><circle cx="695.0" cy="1247.5" r="3.6" fill="#7d5a9c" opacity="0.62"/><circle cx="950.9" cy="1300.3" r="3.2" fill="#8c6cab" opacity="0.70"/><circle cx="764.9" cy="1167.1" r="3.8" fill="#4b3577" opacity="0.56"/><circle cx="856.0" cy="1225.8" r="3.1" fill="#6f4f94" opacity="0.49"/><circle cx="841.8" cy="1422.1" r="3.7" fill="#7d5a9c" opacity="0.54"/><circle cx="892.3" cy="1176.3" r="3.1" fill="#6f4f94" opacity="0.48"/><circle cx="604.9" cy="1116.9" r="3.9" fill="#4b3577" opacity="0.68"/><circle cx="636.7" cy="1298.3" r="3.5" fill="#7d5a9c" opacity="0.46"/><circle cx="740.5" cy="1103.8" r="3.9" fill="#7d5a9c" opacity="0.72"/><circle cx="943.6" cy="1124.6" r="4.0" fill="#7d5a9c" opacity="0.77"/><circle cx="895.3" cy="1268.8" r="3.4" fill="#6f4f94" opacity="0.59"/><circle cx="878.0" cy="1373.8" r="2.9" fill="#7d5a9c" opacity="0.82"/><circle cx="832.9" cy="1228.9" r="3.4" fill="#8c6cab" opacity="0.61"/><circle cx="678.1" cy="1248.7" r="3.5" fill="#6f4f94" opacity="0.51"/><circle cx="757.1" cy="1273.4" r="3.2" fill="#4b3577" opacity="0.82"/><circle cx="808.6" cy="1319.5" r="3.7" fill="#5f4488" opacity="0.78"/><circle cx="535.5" cy="1153.2" r="3.3" fill="#7d5a9c" opacity="0.55"/><circle cx="580.0" cy="1309.0" r="3.8" fill="#6f4f94" opacity="0.72"/><circle cx="904.1" cy="1398.0" r="3.3" fill="#4b3577" opacity="0.53"/><circle cx="895.2" cy="1286.1" r="3.1" fill="#32245a" opacity="0.45"/><circle cx="587.3" cy="1213.5" r="2.7" fill="#7d5a9c" opacity="0.72"/><circle cx="554.3" cy="1122.8" r="4.0" fill="#5f4488" opacity="0.72"/><circle cx="757.7" cy="1433.7" r="3.4" fill="#8c6cab" opacity="0.50"/><circle cx="911.8" cy="1145.3" r="3.5" fill="#5f4488" opacity="0.59"/><circle cx="865.1" cy="1146.7" r="2.8" fill="#8c6cab" opacity="0.53"/><circle cx="913.9" cy="1357.1" r="3.6" fill="#4b3577" opacity="0.54"/><circle cx="870.1" cy="1390.3" r="2.7" fill="#6f4f94" opacity="0.80"/><circle cx="711.2" cy="1124.2" r="2.9" fill="#7d5a9c" opacity="0.84"/><circle cx="927.1" cy="1161.5" r="3.9" fill="#5f4488" opacity="0.52"/><circle cx="629.9" cy="1345.4" r="3.3" fill="#4b3577" opacity="0.81"/><circle cx="575.6" cy="1390.9" r="3.1" fill="#6f4f94" opacity="0.52"/><circle cx="682.2" cy="1281.9" r="3.4" fill="#4b3577" opacity="0.81"/><circle cx="894.4" cy="1126.7" r="3.8" fill="#4b3577" opacity="0.48"/><circle cx="639.7" cy="1230.0" r="3.1" fill="#6f4f94" opacity="0.53"/><circle cx="838.1" cy="1200.2" r="3.2" fill="#6f4f94" opacity="0.51"/><circle cx="786.1" cy="1242.7" r="2.8" fill="#7d5a9c" opacity="0.74"/><circle cx="812.1" cy="1104.3" r="3.1" fill="#4b3577" opacity="0.56"/><circle cx="772.6" cy="1418.9" r="3.3" fill="#6f4f94" opacity="0.73"/><circle cx="751.6" cy="1239.7" r="4.0" fill="#4b3577" opacity="0.63"/><circle cx="602.1" cy="1212.9" r="3.2" fill="#6f4f94" opacity="0.60"/><circle cx="877.7" cy="1314.3" r="4.0" fill="#32245a" opacity="0.56"/><circle cx="963.9" cy="1155.1" r="2.6" fill="#6f4f94" opacity="0.58"/><circle cx="847.4" cy="1147.3" r="3.8" fill="#6f4f94" opacity="0.79"/><circle cx="641.5" cy="1143.0" r="3.1" fill="#6f4f94" opacity="0.59"/><circle cx="782.2" cy="1322.1" r="4.0" fill="#6f4f94" opacity="0.56"/><circle cx="791.4" cy="1166.1" r="3.1" fill="#6f4f94" opacity="0.81"/><circle cx="958.3" cy="1133.4" r="2.9" fill="#7d5a9c" opacity="0.78"/><circle cx="899.8" cy="1231.0" r="3.7" fill="#5f4488" opacity="0.49"/><circle cx="903.4" cy="1249.2" r="3.3" fill="#4b3577" opacity="0.79"/><circle cx="824.3" cy="1112.1" r="3.6" fill="#32245a" opacity="0.45"/><circle cx="794.5" cy="1232.9" r="3.7" fill="#7d5a9c" opacity="0.73"/><circle cx="592.4" cy="1261.2" r="3.8" fill="#6f4f94" opacity="0.81"/><circle cx="798.4" cy="1141.2" r="3.4" fill="#6f4f94" opacity="0.82"/><circle cx="733.5" cy="1243.8" r="3.0" fill="#32245a" opacity="0.46"/><circle cx="927.1" cy="1416.8" r="3.8" fill="#4b3577" opacity="0.69"/><circle cx="728.5" cy="1209.0" r="3.9" fill="#8c6cab" opacity="0.73"/><circle cx="942.4" cy="1391.1" r="3.0" fill="#8c6cab" opacity="0.72"/><circle cx="606.1" cy="1381.0" r="4.0" fill="#7d5a9c" opacity="0.64"/><circle cx="710.6" cy="1107.6" r="3.1" fill="#6f4f94" opacity="0.60"/><circle cx="833.1" cy="1164.4" r="3.9" fill="#7d5a9c" opacity="0.52"/><circle cx="776.6" cy="1133.5" r="3.1" fill="#7d5a9c" opacity="0.65"/><circle cx="786.6" cy="1180.7" r="3.9" fill="#7d5a9c" opacity="0.83"/><circle cx="554.0" cy="1386.9" r="3.4" fill="#6f4f94" opacity="0.81"/><circle cx="680.7" cy="1237.3" r="3.1" fill="#5f4488" opacity="0.63"/><circle cx="827.3" cy="1138.2" r="2.8" fill="#6f4f94" opacity="0.81"/><circle cx="550.3" cy="1371.6" r="4.0" fill="#8c6cab" opacity="0.73"/><circle cx="659.2" cy="1413.9" r="3.2" fill="#4b3577" opacity="0.63"/><circle cx="531.7" cy="1134.0" r="3.7" fill="#6f4f94" opacity="0.72"/><circle cx="959.0" cy="1252.1" r="3.7" fill="#4b3577" opacity="0.61"/><circle cx="572.6" cy="1427.1" r="2.9" fill="#5f4488" opacity="0.85"/><circle cx="710.0" cy="1424.2" r="4.0" fill="#6f4f94" opacity="0.72"/><circle cx="910.3" cy="1202.6" r="2.8" fill="#6f4f94" opacity="0.69"/><circle cx="712.3" cy="1321.1" r="3.5" fill="#8c6cab" opacity="0.79"/><circle cx="687.4" cy="1361.0" r="4.1" fill="#4b3577" opacity="0.83"/><circle cx="868.8" cy="1430.5" r="2.8" fill="#5f4488" opacity="0.73"/><circle cx="570.7" cy="1222.6" r="3.2" fill="#5f4488" opacity="0.60"/><circle cx="610.1" cy="1361.7" r="3.7" fill="#8c6cab" opacity="0.76"/><circle cx="618.5" cy="1325.2" r="4.0" fill="#5f4488" opacity="0.77"/><circle cx="881.2" cy="1360.9" r="4.1" fill="#32245a" opacity="0.56"/><circle cx="780.4" cy="1302.3" r="3.6" fill="#6f4f94" opacity="0.53"/><circle cx="648.0" cy="1362.1" r="2.9" fill="#4b3577" opacity="0.72"/><circle cx="753.2" cy="1338.4" r="3.7" fill="#4b3577" opacity="0.73"/><circle cx="950.0" cy="1288.4" r="4.1" fill="#6f4f94" opacity="0.49"/><circle cx="711.8" cy="1206.1" r="3.5" fill="#6f4f94" opacity="0.78"/><circle cx="964.7" cy="1285.2" r="3.5" fill="#6f4f94" opacity="0.84"/><circle cx="878.2" cy="1403.8" r="4.0" fill="#6f4f94" opacity="0.48"/><circle cx="549.5" cy="1228.6" r="3.4" fill="#8c6cab" opacity="0.57"/><circle cx="764.4" cy="1308.7" r="2.7" fill="#8c6cab" opacity="0.47"/><circle cx="847.0" cy="1360.0" r="3.8" fill="#8c6cab" opacity="0.85"/><circle cx="622.8" cy="1210.4" r="3.5" fill="#6f4f94" opacity="0.54"/><circle cx="612.7" cy="1274.7" r="3.3" fill="#6f4f94" opacity="0.65"/><circle cx="880.0" cy="1288.9" r="3.2" fill="#32245a" opacity="0.73"/><circle cx="542.0" cy="1128.2" r="2.9" fill="#8c6cab" opacity="0.49"/><circle cx="786.7" cy="1192.8" r="3.6" fill="#4b3577" opacity="0.69"/><circle cx="616.0" cy="1338.5" r="3.9" fill="#6f4f94" opacity="0.46"/><circle cx="636.5" cy="1247.8" r="3.3" fill="#6f4f94" opacity="0.47"/><circle cx="849.4" cy="1135.5" r="3.6" fill="#6f4f94" opacity="0.85"/><circle cx="901.7" cy="1365.8" r="2.8" fill="#4b3577" opacity="0.46"/><circle cx="848.7" cy="1410.6" r="3.3" fill="#6f4f94" opacity="0.47"/><circle cx="944.5" cy="1375.5" r="2.9" fill="#7d5a9c" opacity="0.52"/><circle cx="577.6" cy="1166.7" r="3.5" fill="#4b3577" opacity="0.78"/><circle cx="593.1" cy="1185.2" r="3.6" fill="#5f4488" opacity="0.56"/><circle cx="770.8" cy="1276.9" r="3.2" fill="#6f4f94" opacity="0.61"/><circle cx="554.6" cy="1269.4" r="3.5" fill="#5f4488" opacity="0.57"/><circle cx="686.6" cy="1109.9" r="4.0" fill="#7d5a9c" opacity="0.56"/><circle cx="960.9" cy="1352.1" r="3.8" fill="#6f4f94" opacity="0.70"/><circle cx="663.2" cy="1305.2" r="3.9" fill="#6f4f94" opacity="0.60"/><circle cx="827.9" cy="1380.0" r="3.0" fill="#6f4f94" opacity="0.66"/><circle cx="541.5" cy="1180.6" r="3.7" fill="#7d5a9c" opacity="0.84"/><circle cx="735.3" cy="1192.8" r="3.4" fill="#7d5a9c" opacity="0.80"/><circle cx="815.4" cy="1187.7" r="2.7" fill="#7d5a9c" opacity="0.56"/><circle cx="733.2" cy="1135.3" r="3.1" fill="#6f4f94" opacity="0.75"/><circle cx="787.4" cy="1419.9" r="3.0" fill="#5f4488" opacity="0.46"/><circle cx="902.7" cy="1380.6" r="3.9" fill="#7d5a9c" opacity="0.58"/><circle cx="723.5" cy="1400.5" r="2.9" fill="#7d5a9c" opacity="0.62"/><circle cx="583.0" cy="1144.2" r="2.8" fill="#32245a" opacity="0.53"/><circle cx="606.5" cy="1346.8" r="4.1" fill="#5f4488" opacity="0.85"/><circle cx="678.7" cy="1212.8" r="4.1" fill="#4b3577" opacity="0.57"/><circle cx="926.3" cy="1114.7" r="3.5" fill="#7d5a9c" opacity="0.72"/><circle cx="550.2" cy="1331.8" r="2.6" fill="#7d5a9c" opacity="0.64"/><circle cx="803.1" cy="1289.2" r="4.1" fill="#4b3577" opacity="0.58"/><circle cx="939.2" cy="1107.7" r="3.4" fill="#6f4f94" opacity="0.70"/><circle cx="898.0" cy="1204.0" r="4.1" fill="#8c6cab" opacity="0.79"/><circle cx="555.0" cy="1211.5" r="3.7" fill="#32245a" opacity="0.72"/><circle cx="769.4" cy="1407.2" r="2.6" fill="#4b3577" opacity="0.78"/><circle cx="605.5" cy="1151.3" r="3.1" fill="#5f4488" opacity="0.79"/><circle cx="675.2" cy="1364.3" r="3.9" fill="#6f4f94" opacity="0.81"/><circle cx="650.4" cy="1425.8" r="3.7" fill="#32245a" opacity="0.55"/><circle cx="716.6" cy="1180.1" r="3.9" fill="#6f4f94" opacity="0.63"/><circle cx="629.6" cy="1141.0" r="2.7" fill="#5f4488" opacity="0.71"/><circle cx="660.7" cy="1291.5" r="3.2" fill="#5f4488" opacity="0.78"/><circle cx="695.4" cy="1230.5" r="3.6" fill="#6f4f94" opacity="0.56"/><circle cx="707.2" cy="1360.3" r="3.6" fill="#6f4f94" opacity="0.62"/><circle cx="718.3" cy="1194.9" r="2.9" fill="#4b3577" opacity="0.79"/><circle cx="953.2" cy="1238.3" r="3.8" fill="#6f4f94" opacity="0.54"/><circle cx="710.3" cy="1238.3" r="3.8" fill="#32245a" opacity="0.55"/><circle cx="562.2" cy="1401.7" r="4.1" fill="#6f4f94" opacity="0.71"/><circle cx="603.3" cy="1334.0" r="3.5" fill="#8c6cab" opacity="0.66"/><circle cx="566.8" cy="1377.6" r="3.8" fill="#32245a" opacity="0.80"/><circle cx="801.4" cy="1193.1" r="3.5" fill="#4b3577" opacity="0.68"/><circle cx="715.0" cy="1285.8" r="2.7" fill="#6f4f94" opacity="0.84"/><circle cx="531.1" cy="1257.2" r="3.1" fill="#6f4f94" opacity="0.84"/><circle cx="683.3" cy="1135.7" r="3.9" fill="#6f4f94" opacity="0.60"/><circle cx="885.1" cy="1260.8" r="3.7" fill="#5f4488" opacity="0.78"/><circle cx="743.5" cy="1280.3" r="3.4" fill="#32245a" opacity="0.53"/><circle cx="907.1" cy="1430.9" r="3.1" fill="#6f4f94" opacity="0.80"/><circle cx="826.1" cy="1248.8" r="3.7" fill="#6f4f94" opacity="0.58"/><circle cx="761.1" cy="1377.1" r="3.4" fill="#4b3577" opacity="0.59"/><circle cx="881.4" cy="1435.0" r="3.7" fill="#32245a" opacity="0.45"/><circle cx="950.8" cy="1223.2" r="2.8" fill="#6f4f94" opacity="0.49"/><circle cx="941.5" cy="1209.5" r="3.7" fill="#7d5a9c" opacity="0.52"/><circle cx="861.8" cy="1351.1" r="2.8" fill="#5f4488" opacity="0.51"/><circle cx="620.0" cy="1368.6" r="3.0" fill="#6f4f94" opacity="0.76"/><circle cx="951.0" cy="1323.5" r="3.5" fill="#6f4f94" opacity="0.46"/><circle cx="597.8" cy="1367.9" r="3.3" fill="#4b3577" opacity="0.63"/><circle cx="630.4" cy="1114.1" r="3.7" fill="#7d5a9c" opacity="0.81"/><circle cx="808.3" cy="1215.7" r="3.2" fill="#4b3577" opacity="0.52"/><circle cx="687.1" cy="1271.1" r="3.1" fill="#5f4488" opacity="0.84"/><circle cx="750.0" cy="1380.4" r="2.8" fill="#32245a" opacity="0.68"/><circle cx="707.9" cy="1142.3" r="2.7" fill="#7d5a9c" opacity="0.83"/><circle cx="699.9" cy="1298.0" r="3.5" fill="#5f4488" opacity="0.83"/><circle cx="856.9" cy="1162.6" r="3.3" fill="#6f4f94" opacity="0.61"/><circle cx="583.1" cy="1283.9" r="3.7" fill="#8c6cab" opacity="0.76"/><circle cx="742.3" cy="1313.1" r="3.0" fill="#4b3577" opacity="0.72"/><circle cx="747.2" cy="1128.0" r="4.0" fill="#4b3577" opacity="0.81"/><circle cx="702.2" cy="1385.5" r="2.8" fill="#6f4f94" opacity="0.59"/><circle cx="614.9" cy="1193.9" r="3.5" fill="#6f4f94" opacity="0.52"/><circle cx="926.5" cy="1437.4" r="3.9" fill="#7d5a9c" opacity="0.46"/><circle cx="757.1" cy="1120.9" r="3.6" fill="#5f4488" opacity="0.73"/><circle cx="574.2" cy="1122.6" r="3.4" fill="#6f4f94" opacity="0.62"/><circle cx="904.3" cy="1104.2" r="3.9" fill="#6f4f94" opacity="0.81"/><circle cx="699.1" cy="1189.0" r="3.6" fill="#6f4f94" opacity="0.52"/><circle cx="960.8" cy="1364.4" r="3.5" fill="#5f4488" opacity="0.72"/><circle cx="676.4" cy="1191.8" r="4.0" fill="#7d5a9c" opacity="0.73"/><circle cx="537.6" cy="1353.6" r="3.0" fill="#7d5a9c" opacity="0.82"/><circle cx="764.9" cy="1109.8" r="4.0" fill="#8c6cab" opacity="0.51"/><circle cx="563.7" cy="1172.8" r="2.7" fill="#7d5a9c" opacity="0.66"/><circle cx="823.0" cy="1394.7" r="3.2" fill="#5f4488" opacity="0.68"/><circle cx="917.9" cy="1308.1" r="2.6" fill="#5f4488" opacity="0.52"/><circle cx="643.3" cy="1321.2" r="4.0" fill="#32245a" opacity="0.51"/><circle cx="862.4" cy="1418.7" r="3.3" fill="#32245a" opacity="0.71"/><circle cx="924.4" cy="1367.8" r="3.3" fill="#5f4488" opacity="0.63"/><circle cx="821.1" cy="1409.6" r="2.7" fill="#5f4488" opacity="0.64"/><circle cx="886.2" cy="1190.8" r="3.4" fill="#6f4f94" opacity="0.64"/><circle cx="723.3" cy="1149.1" r="3.0" fill="#6f4f94" opacity="0.73"/><circle cx="529.1" cy="1393.4" r="3.5" fill="#6f4f94" opacity="0.72"/><circle cx="630.0" cy="1170.3" r="3.8" fill="#5f4488" opacity="0.71"/><circle cx="699.7" cy="1128.8" r="3.4" fill="#8c6cab" opacity="0.71"/><circle cx="539.7" cy="1315.7" r="2.9" fill="#6f4f94" opacity="0.73"/><circle cx="657.5" cy="1126.3" r="2.8" fill="#5f4488" opacity="0.71"/><circle cx="708.1" cy="1306.8" r="2.6" fill="#7d5a9c" opacity="0.51"/><circle cx="575.0" cy="1325.0" r="2.6" fill="#6f4f94" opacity="0.83"/><circle cx="935.1" cy="1247.8" r="3.7" fill="#4b3577" opacity="0.56"/><circle cx="863.5" cy="1297.9" r="2.9" fill="#4b3577" opacity="0.77"/><circle cx="674.3" cy="1227.2" r="3.1" fill="#5f4488" opacity="0.59"/><circle cx="721.4" cy="1251.2" r="3.3" fill="#32245a" opacity="0.50"/><circle cx="819.2" cy="1282.3" r="3.8" fill="#5f4488" opacity="0.76"/><circle cx="641.2" cy="1347.9" r="3.8" fill="#7d5a9c" opacity="0.53"/><circle cx="548.0" cy="1344.1" r="3.2" fill="#8c6cab" opacity="0.67"/><circle cx="739.0" cy="1411.8" r="3.1" fill="#6f4f94" opacity="0.58"/><circle cx="869.5" cy="1256.1" r="3.7" fill="#6f4f94" opacity="0.50"/><circle cx="684.0" cy="1308.5" r="2.7" fill="#4b3577" opacity="0.75"/><circle cx="801.9" cy="1276.3" r="3.7" fill="#6f4f94" opacity="0.55"/><circle cx="565.9" cy="1339.3" r="4.1" fill="#7d5a9c" opacity="0.85"/><circle cx="597.9" cy="1131.0" r="2.7" fill="#4b3577" opacity="0.53"/><circle cx="902.6" cy="1138.1" r="2.9" fill="#32245a" opacity="0.78"/><circle cx="895.9" cy="1115.1" r="3.4" fill="#5f4488" opacity="0.72"/><circle cx="738.3" cy="1432.6" r="3.5" fill="#4b3577" opacity="0.71"/><circle cx="959.3" cy="1173.2" r="2.7" fill="#6f4f94" opacity="0.62"/><circle cx="672.2" cy="1386.8" r="2.8" fill="#5f4488" opacity="0.74"/><circle cx="881.5" cy="1329.0" r="3.0" fill="#4b3577" opacity="0.82"/><circle cx="635.3" cy="1126.2" r="4.0" fill="#32245a" opacity="0.53"/><circle cx="915.8" cy="1122.5" r="4.0" fill="#7d5a9c" opacity="0.68"/><circle cx="546.1" cy="1104.5" r="3.6" fill="#5f4488" opacity="0.84"/><circle cx="927.7" cy="1186.1" r="3.1" fill="#8c6cab" opacity="0.54"/><circle cx="531.3" cy="1421.0" r="3.0" fill="#32245a" opacity="0.45"/><circle cx="895.8" cy="1354.3" r="3.0" fill="#8c6cab" opacity="0.65"/><circle cx="751.5" cy="1226.0" r="2.9" fill="#6f4f94" opacity="0.85"/><circle cx="636.8" cy="1215.1" r="4.0" fill="#6f4f94" opacity="0.84"/><circle cx="758.4" cy="1204.8" r="2.8" fill="#4b3577" opacity="0.60"/><circle cx="931.0" cy="1261.3" r="3.4" fill="#5f4488" opacity="0.57"/><circle cx="809.2" cy="1303.1" r="3.1" fill="#4b3577" opacity="0.76"/><circle cx="773.1" cy="1345.7" r="2.8" fill="#8c6cab" opacity="0.75"/><circle cx="912.1" cy="1284.1" r="3.0" fill="#6f4f94" opacity="0.53"/><circle cx="628.4" cy="1384.6" r="3.3" fill="#6f4f94" opacity="0.64"/><circle cx="768.5" cy="1328.9" r="2.6" fill="#7d5a9c" opacity="0.49"/><circle cx="629.1" cy="1223.7" r="3.1" fill="#6f4f94" opacity="0.55"/><circle cx="911.3" cy="1164.7" r="3.3" fill="#6f4f94" opacity="0.74"/><circle cx="590.2" cy="1433.9" r="2.9" fill="#8c6cab" opacity="0.79"/><circle cx="666.6" cy="1184.8" r="2.7" fill="#5f4488" opacity="0.55"/><circle cx="935.2" cy="1401.6" r="2.9" fill="#6f4f94" opacity="0.50"/><circle cx="650.2" cy="1236.7" r="4.0" fill="#5f4488" opacity="0.52"/><circle cx="888.2" cy="1384.6" r="3.8" fill="#32245a" opacity="0.65"/><circle cx="528.3" cy="1122.3" r="2.8" fill="#7d5a9c" opacity="0.77"/><circle cx="844.1" cy="1243.3" r="3.4" fill="#6f4f94" opacity="0.62"/><circle cx="857.4" cy="1395.3" r="3.6" fill="#6f4f94" opacity="0.61"/><circle cx="881.4" cy="1111.0" r="3.7" fill="#4b3577" opacity="0.75"/><circle cx="862.2" cy="1369.4" r="3.7" fill="#6f4f94" opacity="0.65"/><circle cx="896.1" cy="1333.6" r="2.8" fill="#5f4488" opacity="0.54"/><circle cx="864.7" cy="1405.1" r="3.9" fill="#5f4488" opacity="0.78"/><circle cx="692.4" cy="1142.9" r="3.5" fill="#6f4f94" opacity="0.63"/><circle cx="941.7" cy="1412.2" r="2.7" fill="#5f4488" opacity="0.52"/><circle cx="805.4" cy="1413.6" r="3.9" fill="#5f4488" opacity="0.76"/><circle cx="653.1" cy="1219.1" r="2.9" fill="#6f4f94" opacity="0.78"/><circle cx="667.0" cy="1245.4" r="3.0" fill="#5f4488" opacity="0.77"/><circle cx="764.2" cy="1155.3" r="4.1" fill="#5f4488" opacity="0.76"/><circle cx="938.4" cy="1193.0" r="2.6" fill="#4b3577" opacity="0.48"/><circle cx="565.4" cy="1188.4" r="3.2" fill="#32245a" opacity="0.62"/><circle cx="778.2" cy="1251.2" r="3.9" fill="#6f4f94" opacity="0.54"/><circle cx="829.2" cy="1212.4" r="2.9" fill="#5f4488" opacity="0.54"/><circle cx="840.6" cy="1287.8" r="4.0" fill="#32245a" opacity="0.54"/><circle cx="860.3" cy="1381.1" r="2.9" fill="#8c6cab" opacity="0.64"/><circle cx="738.7" cy="1218.5" r="3.9" fill="#5f4488" opacity="0.66"/><circle cx="811.1" cy="1381.9" r="4.0" fill="#5f4488" opacity="0.72"/><circle cx="965.2" cy="1323.3" r="4.0" fill="#6f4f94" opacity="0.73"/><circle cx="779.6" cy="1155.8" r="4.0" fill="#6f4f94" opacity="0.64"/><circle cx="622.3" cy="1432.6" r="2.9" fill="#4b3577" opacity="0.74"/><circle cx="917.2" cy="1214.1" r="2.7" fill="#7d5a9c" opacity="0.48"/><circle cx="889.7" cy="1304.6" r="2.8" fill="#7d5a9c" opacity="0.67"/><circle cx="566.8" cy="1314.2" r="3.6" fill="#5f4488" opacity="0.47"/><circle cx="791.1" cy="1355.8" r="2.8" fill="#32245a" opacity="0.75"/><circle cx="529.1" cy="1407.3" r="3.6" fill="#7d5a9c" opacity="0.51"/><circle cx="706.4" cy="1222.3" r="3.2" fill="#6f4f94" opacity="0.60"/><circle cx="642.9" cy="1402.9" r="3.5" fill="#5f4488" opacity="0.74"/><circle cx="574.5" cy="1241.8" r="3.2" fill="#6f4f94" opacity="0.58"/><circle cx="918.6" cy="1104.4" r="3.4" fill="#4b3577" opacity="0.58"/><circle cx="733.6" cy="1165.2" r="3.8" fill="#6f4f94" opacity="0.60"/><circle cx="687.9" cy="1193.4" r="3.8" fill="#6f4f94" opacity="0.53"/><circle cx="539.5" cy="1294.5" r="3.7" fill="#5f4488" opacity="0.47"/><circle cx="528.7" cy="1272.1" r="3.1" fill="#6f4f94" opacity="0.74"/><circle cx="802.4" cy="1120.7" r="2.9" fill="#7d5a9c" opacity="0.55"/><circle cx="653.1" cy="1381.3" r="3.0" fill="#6f4f94" opacity="0.49"/><circle cx="826.0" cy="1326.5" r="2.7" fill="#6f4f94" opacity="0.46"/><circle cx="960.0" cy="1429.8" r="3.5" fill="#7d5a9c" opacity="0.78"/><circle cx="667.1" cy="1200.1" r="3.3" fill="#6f4f94" opacity="0.45"/><circle cx="850.2" cy="1185.4" r="3.3" fill="#6f4f94" opacity="0.59"/><circle cx="554.8" cy="1420.0" r="2.7" fill="#4b3577" opacity="0.74"/><circle cx="814.9" cy="1153.6" r="3.1" fill="#32245a" opacity="0.49"/><circle cx="852.7" cy="1255.9" r="2.8" fill="#7d5a9c" opacity="0.69"/><circle cx="926.1" cy="1202.7" r="3.8" fill="#32245a" opacity="0.81"/><circle cx="700.0" cy="1415.9" r="3.8" fill="#7d5a9c" opacity="0.48"/><circle cx="850.0" cy="1212.3" r="3.0" fill="#4b3577" opacity="0.50"/><circle cx="664.7" cy="1350.6" r="3.6" fill="#7d5a9c" opacity="0.65"/><circle cx="886.3" cy="1276.0" r="3.1" fill="#6f4f94" opacity="0.58"/><circle cx="559.1" cy="1103.8" r="3.1" fill="#6f4f94" opacity="0.52"/><circle cx="803.8" cy="1397.8" r="3.5" fill="#7d5a9c" opacity="0.55"/><circle cx="729.3" cy="1380.7" r="2.9" fill="#8c6cab" opacity="0.56"/><circle cx="746.0" cy="1326.0" r="3.5" fill="#6f4f94" opacity="0.60"/><circle cx="892.9" cy="1221.0" r="2.9" fill="#6f4f94" opacity="0.74"/><circle cx="839.7" cy="1176.5" r="2.7" fill="#7d5a9c" opacity="0.49"/><circle cx="766.7" cy="1289.3" r="2.8" fill="#6f4f94" opacity="0.54"/><circle cx="875.0" cy="1416.6" r="4.1" fill="#32245a" opacity="0.55"/><circle cx="551.6" cy="1243.1" r="3.5" fill="#5f4488" opacity="0.47"/><circle cx="891.6" cy="1103.2" r="2.9" fill="#8c6cab" opacity="0.66"/><circle cx="602.2" cy="1426.8" r="3.7" fill="#7d5a9c" opacity="0.60"/><circle cx="735.7" cy="1302.7" r="3.0" fill="#6f4f94" opacity="0.65"/><circle cx="635.2" cy="1102.6" r="3.2" fill="#8c6cab" opacity="0.79"/><circle cx="916.0" cy="1267.2" r="2.8" fill="#6f4f94" opacity="0.85"/><circle cx="965.8" cy="1396.2" r="3.1" fill="#6f4f94" opacity="0.64"/><circle cx="965.7" cy="1336.3" r="2.9" fill="#7d5a9c" opacity="0.53"/><circle cx="833.3" cy="1437.5" r="3.7" fill="#4b3577" opacity="0.84"/><circle cx="695.6" cy="1163.2" r="2.8" fill="#5f4488" opacity="0.57"/><circle cx="692.8" cy="1288.0" r="3.9" fill="#6f4f94" opacity="0.53"/><circle cx="557.4" cy="1355.4" r="3.8" fill="#4b3577" opacity="0.85"/><circle cx="909.1" cy="1189.9" r="4.0" fill="#32245a" opacity="0.47"/><circle cx="918.5" cy="1333.1" r="3.4" fill="#7d5a9c" opacity="0.70"/><circle cx="789.7" cy="1285.4" r="4.1" fill="#4b3577" opacity="0.80"/><circle cx="960.1" cy="1270.9" r="2.9" fill="#6f4f94" opacity="0.71"/><circle cx="656.3" cy="1437.5" r="3.0" fill="#7d5a9c" opacity="0.51"/><circle cx="534.6" cy="1341.6" r="3.7" fill="#6f4f94" opacity="0.59"/><circle cx="627.4" cy="1235.7" r="3.0" fill="#7d5a9c" opacity="0.48"/><circle cx="567.6" cy="1209.3" r="3.0" fill="#4b3577" opacity="0.66"/><circle cx="810.6" cy="1332.6" r="3.3" fill="#6f4f94" opacity="0.75"/><circle cx="794.5" cy="1255.6" r="3.9" fill="#5f4488" opacity="0.60"/><circle cx="794.1" cy="1319.1" r="3.2" fill="#5f4488" opacity="0.60"/><circle cx="605.9" cy="1319.8" r="3.8" fill="#7d5a9c" opacity="0.55"/><circle cx="652.9" cy="1102.4" r="3.3" fill="#4b3577" opacity="0.84"/><circle cx="585.2" cy="1365.2" r="3.4" fill="#32245a" opacity="0.73"/><circle cx="863.9" cy="1285.4" r="3.9" fill="#7d5a9c" opacity="0.62"/><circle cx="628.3" cy="1318.1" r="3.8" fill="#5f4488" opacity="0.47"/><circle cx="635.4" cy="1437.2" r="3.2" fill="#6f4f94" opacity="0.84"/><circle cx="635.0" cy="1359.5" r="3.5" fill="#6f4f94" opacity="0.71"/><circle cx="662.2" cy="1160.0" r="3.8" fill="#7d5a9c" opacity="0.75"/><circle cx="613.8" cy="1243.0" r="3.4" fill="#6f4f94" opacity="0.56"/><circle cx="719.8" cy="1218.4" r="2.7" fill="#7d5a9c" opacity="0.54"/><circle cx="885.1" cy="1162.6" r="3.3" fill="#4b3577" opacity="0.76"/><circle cx="593.2" cy="1236.7" r="2.9" fill="#6f4f94" opacity="0.49"/><circle cx="725.3" cy="1106.7" r="3.6" fill="#4b3577" opacity="0.57"/><circle cx="774.9" cy="1231.3" r="4.1" fill="#32245a" opacity="0.83"/><circle cx="592.0" cy="1161.9" r="3.5" fill="#7d5a9c" opacity="0.50"/><circle cx="912.1" cy="1411.7" r="3.6" fill="#7d5a9c" opacity="0.82"/><circle cx="663.3" cy="1337.2" r="3.6" fill="#5f4488" opacity="0.63"/><circle cx="703.8" cy="1270.3" r="3.5" fill="#32245a" opacity="0.53"/><circle cx="638.4" cy="1201.9" r="4.1" fill="#8c6cab" opacity="0.58"/><circle cx="759.9" cy="1183.4" r="3.4" fill="#8c6cab" opacity="0.46"/><circle cx="744.3" cy="1208.3" r="3.4" fill="#32245a" opacity="0.62"/><circle cx="852.9" cy="1434.3" r="3.5" fill="#6f4f94" opacity="0.46"/><circle cx="554.9" cy="1148.2" r="3.8" fill="#6f4f94" opacity="0.59"/><circle cx="818.5" cy="1342.1" r="3.8" fill="#4b3577" opacity="0.80"/><circle cx="590.0" cy="1295.0" r="3.8" fill="#7d5a9c" opacity="0.60"/><circle cx="803.8" cy="1353.4" r="3.3" fill="#7d5a9c" opacity="0.56"/><circle cx="562.8" cy="1233.9" r="3.3" fill="#7d5a9c" opacity="0.79"/><circle cx="918.9" cy="1175.8" r="4.1" fill="#32245a" opacity="0.56"/><circle cx="784.5" cy="1431.1" r="2.8" fill="#32245a" opacity="0.80"/><circle cx="671.3" cy="1326.8" r="3.0" fill="#6f4f94" opacity="0.52"/><circle cx="910.7" cy="1236.6" r="3.7" fill="#6f4f94" opacity="0.52"/><circle cx="801.4" cy="1426.3" r="2.6" fill="#32245a" opacity="0.77"/><circle cx="652.6" cy="1202.6" r="4.0" fill="#7d5a9c" opacity="0.76"/><circle cx="927.2" cy="1297.2" r="2.8" fill="#32245a" opacity="0.48"/><circle cx="833.9" cy="1335.0" r="2.6" fill="#6f4f94" opacity="0.66"/><circle cx="700.8" cy="1348.3" r="3.9" fill="#4b3577" opacity="0.45"/><circle cx="719.6" cy="1434.7" r="2.6" fill="#4b3577" opacity="0.70"/><circle cx="711.2" cy="1338.8" r="1.5" fill="#3b2a72" opacity="0.85"/><circle cx="965.6" cy="1239.0" r="1.3" fill="#3b2a72" opacity="0.90"/><circle cx="598.6" cy="1117.3" r="1.6" fill="#3b2a72" opacity="0.72"/><circle cx="621.2" cy="1257.7" r="1.6" fill="#3b2a72" opacity="0.94"/><circle cx="643.5" cy="1221.3" r="1.3" fill="#3b2a72" opacity="0.92"/><circle cx="671.8" cy="1417.8" r="1.3" fill="#3b2a72" opacity="0.82"/><circle cx="672.0" cy="1361.7" r="1.7" fill="#3b2a72" opacity="0.64"/><circle cx="736.6" cy="1394.1" r="1.5" fill="#3b2a72" opacity="0.73"/><circle cx="920.4" cy="1260.3" r="1.5" fill="#3b2a72" opacity="0.75"/><circle cx="857.0" cy="1307.1" r="1.6" fill="#3b2a72" opacity="0.77"/><circle cx="716.9" cy="1140.8" r="1.8" fill="#3b2a72" opacity="0.73"/><circle cx="909.4" cy="1300.7" r="1.9" fill="#3b2a72" opacity="0.70"/><circle cx="587.4" cy="1225.7" r="1.3" fill="#3b2a72" opacity="0.69"/><circle cx="528.5" cy="1198.0" r="1.6" fill="#3b2a72" opacity="0.84"/><circle cx="840.9" cy="1226.9" r="1.7" fill="#3b2a72" opacity="0.83"/><circle cx="964.0" cy="1366.6" r="1.3" fill="#3b2a72" opacity="0.84"/><circle cx="559.1" cy="1158.2" r="1.7" fill="#3b2a72" opacity="0.91"/><circle cx="915.5" cy="1182.1" r="1.7" fill="#3b2a72" opacity="0.75"/><circle cx="645.3" cy="1327.5" r="1.3" fill="#3b2a72" opacity="0.70"/><circle cx="581.9" cy="1402.4" r="1.3" fill="#3b2a72" opacity="0.92"/><circle cx="623.4" cy="1436.5" r="1.8" fill="#3b2a72" opacity="0.73"/><circle cx="926.4" cy="1370.2" r="1.4" fill="#3b2a72" opacity="0.64"/><circle cx="666.4" cy="1204.0" r="1.8" fill="#3b2a72" opacity="0.87"/><circle cx="866.7" cy="1232.2" r="1.8" fill="#3b2a72" opacity="0.75"/><circle cx="546.7" cy="1167.7" r="1.6" fill="#3b2a72" opacity="0.75"/><circle cx="679.6" cy="1153.3" r="1.5" fill="#3b2a72" opacity="0.94"/><circle cx="769.9" cy="1417.9" r="1.2" fill="#3b2a72" opacity="0.66"/><circle cx="532.0" cy="1228.6" r="1.8" fill="#3b2a72" opacity="0.81"/><circle cx="894.8" cy="1240.3" r="1.6" fill="#3b2a72" opacity="0.70"/><circle cx="729.2" cy="1328.7" r="1.7" fill="#3b2a72" opacity="0.80"/><circle cx="815.7" cy="1119.4" r="1.9" fill="#3b2a72" opacity="0.64"/><circle cx="898.3" cy="1307.0" r="1.5" fill="#3b2a72" opacity="0.87"/><circle cx="701.1" cy="1203.4" r="1.4" fill="#3b2a72" opacity="0.75"/><circle cx="757.7" cy="1252.3" r="1.7" fill="#3b2a72" opacity="0.83"/><circle cx="853.1" cy="1152.4" r="1.7" fill="#3b2a72" opacity="0.86"/><circle cx="655.3" cy="1136.6" r="1.5" fill="#3b2a72" opacity="0.64"/><circle cx="558.4" cy="1203.9" r="1.6" fill="#3b2a72" opacity="0.76"/><circle cx="837.8" cy="1141.1" r="1.3" fill="#3b2a72" opacity="0.77"/><circle cx="528.3" cy="1287.3" r="1.3" fill="#3b2a72" opacity="0.93"/><circle cx="574.8" cy="1391.4" r="1.5" fill="#3b2a72" opacity="0.90"/><circle cx="806.2" cy="1175.3" r="1.3" fill="#3b2a72" opacity="0.87"/><circle cx="935.3" cy="1150.0" r="2.0" fill="#3b2a72" opacity="0.75"/><circle cx="850.1" cy="1314.8" r="2.0" fill="#3b2a72" opacity="0.83"/><circle cx="737.7" cy="1365.9" r="1.9" fill="#3b2a72" opacity="0.68"/><circle cx="944.3" cy="1392.5" r="1.3" fill="#3b2a72" opacity="0.84"/><circle cx="534.2" cy="1209.8" r="1.7" fill="#3b2a72" opacity="0.72"/><circle cx="856.7" cy="1361.2" r="1.3" fill="#3b2a72" opacity="0.79"/><circle cx="684.2" cy="1243.2" r="1.2" fill="#3b2a72" opacity="0.78"/><circle cx="906.1" cy="1330.9" r="1.8" fill="#3b2a72" opacity="0.94"/>
</g>
<path d="M614.5 1257.0 L629.5 1254.3 L662.4 1257.0 L680.2 1262.5 L678.8 1278.9 L662.4 1281.7 L651.4 1289.9 L646.0 1298.7 L637.7 1292.6 L643.2 1281.7 L629.5 1271.3 L615.8 1268.0Z" fill="#fdfbfd" filter="url(#vb)"/>
<path d="M614.5 1257.0 L629.5 1254.3 L662.4 1257.0 L680.2 1262.5 L678.8 1278.9 L662.4 1281.7 L651.4 1289.9 L646.0 1298.7 L637.7 1292.6 L643.2 1281.7 L629.5 1271.3 L615.8 1268.0Z" fill="#fefdfe" opacity="0.85"/>
<path d="M919.8 1328.2 L930.7 1331.0 L955.4 1347.4 L947.2 1361.6 L930.7 1358.3 L922.5 1341.9Z" fill="#fdfbfd" filter="url(#vb)"/>
<path d="M919.8 1328.2 L930.7 1331.0 L955.4 1347.4 L947.2 1361.6 L930.7 1358.3 L922.5 1341.9Z" fill="#fefdfe" opacity="0.85"/>
<ellipse cx="654.2" cy="1270.2" rx="20.0" ry="6.0" fill="#e8306a" opacity="0.95" filter="url(#nb)"/>
<ellipse cx="632.3" cy="1263.1" rx="5.0" ry="4.0" fill="#ea3f75" opacity="0.90" filter="url(#nb)"/>
<ellipse cx="938.9" cy="1350.1" rx="7.0" ry="5.0" fill="#e8306a" opacity="0.90" filter="url(#nb)"/>
</g>
<clipPath id="cp2"><rect x="972.40" y="1102.30" width="439.50" height="335.30"/></clipPath>
<g clip-path="url(#cp2)">
<rect x="972.40" y="1102.30" width="439.50" height="335.30" fill="#e7b3d2" filter="url(#tex2)"/>
<g filter="url(#nb)">
<circle cx="986.3" cy="1427.1" r="4.6" fill="#5f4488" opacity="0.53"/><circle cx="1058.1" cy="1435.7" r="3.8" fill="#6f4f94" opacity="0.50"/><circle cx="1388.5" cy="1189.0" r="3.6" fill="#8c6cab" opacity="0.53"/><circle cx="1199.3" cy="1235.8" r="3.3" fill="#4b3577" opacity="0.70"/><circle cx="1152.5" cy="1367.1" r="5.0" fill="#6f4f94" opacity="0.46"/><circle cx="1336.2" cy="1188.3" r="4.1" fill="#6f4f94" opacity="0.44"/><circle cx="1211.4" cy="1332.3" r="4.2" fill="#6f4f94" opacity="0.69"/><circle cx="1233.4" cy="1143.0" r="3.2" fill="#7d5a9c" opacity="0.64"/><circle cx="1144.3" cy="1267.6" r="4.4" fill="#7d5a9c" opacity="0.44"/><circle cx="1378.5" cy="1378.1" r="3.3" fill="#6f4f94" opacity="0.56"/><circle cx="1269.0" cy="1196.2" r="4.3" fill="#6f4f94" opacity="0.72"/><circle cx="1120.9" cy="1154.9" r="4.5" fill="#4b3577" opacity="0.65"/><circle cx="1231.3" cy="1369.1" r="3.3" fill="#6f4f94" opacity="0.41"/><circle cx="1280.8" cy="1379.7" r="4.0" fill="#6f4f94" opacity="0.50"/><circle cx="1082.9" cy="1423.7" r="4.3" fill="#5f4488" opacity="0.63"/><circle cx="1407.7" cy="1348.0" r="3.4" fill="#4b3577" opacity="0.61"/><circle cx="1410.6" cy="1398.6" r="4.0" fill="#6f4f94" opacity="0.64"/><circle cx="1358.0" cy="1356.1" r="4.2" fill="#5f4488" opacity="0.69"/><circle cx="1329.2" cy="1334.0" r="4.2" fill="#5f4488" opacity="0.61"/><circle cx="1028.5" cy="1383.0" r="3.6" fill="#6f4f94" opacity="0.45"/><circle cx="1127.3" cy="1318.1" r="4.0" fill="#8c6cab" opacity="0.52"/><circle cx="1367.7" cy="1267.7" r="3.6" fill="#4b3577" opacity="0.63"/><circle cx="1091.2" cy="1287.8" r="4.5" fill="#6f4f94" opacity="0.42"/><circle cx="1357.3" cy="1384.2" r="4.4" fill="#32245a" opacity="0.57"/><circle cx="1326.1" cy="1264.9" r="4.0" fill="#6f4f94" opacity="0.71"/><circle cx="1052.7" cy="1415.1" r="4.8" fill="#6f4f94" opacity="0.42"/><circle cx="1253.4" cy="1181.4" r="3.3" fill="#6f4f94" opacity="0.64"/><circle cx="1045.4" cy="1342.7" r="3.7" fill="#6f4f94" opacity="0.55"/><circle cx="1004.2" cy="1246.8" r="4.1" fill="#6f4f94" opacity="0.56"/><circle cx="1019.3" cy="1147.5" r="3.2" fill="#6f4f94" opacity="0.47"/><circle cx="1082.9" cy="1321.1" r="3.5" fill="#4b3577" opacity="0.60"/><circle cx="984.2" cy="1388.5" r="4.6" fill="#8c6cab" opacity="0.63"/><circle cx="1286.4" cy="1123.4" r="4.3" fill="#4b3577" opacity="0.66"/><circle cx="1083.8" cy="1271.3" r="3.7" fill="#6f4f94" opacity="0.63"/><circle cx="1347.8" cy="1328.7" r="4.8" fill="#6f4f94" opacity="0.58"/><circle cx="1040.1" cy="1164.2" r="4.7" fill="#32245a" opacity="0.55"/><circle cx="1226.4" cy="1125.9" r="3.6" fill="#7d5a9c" opacity="0.42"/><circle cx="1153.0" cy="1173.2" r="3.9" fill="#6f4f94" opacity="0.43"/><circle cx="1170.4" cy="1219.4" r="4.5" fill="#6f4f94" opacity="0.67"/><circle cx="1183.3" cy="1322.7" r="4.6" fill="#7d5a9c" opacity="0.42"/><circle cx="1157.1" cy="1279.6" r="4.0" fill="#6f4f94" opacity="0.59"/><circle cx="1102.8" cy="1235.5" r="3.4" fill="#5f4488" opacity="0.53"/><circle cx="1194.0" cy="1155.8" r="4.8" fill="#6f4f94" opacity="0.44"/><circle cx="1111.9" cy="1288.9" r="3.5" fill="#8c6cab" opacity="0.49"/><circle cx="1084.9" cy="1377.2" r="4.1" fill="#8c6cab" opacity="0.51"/><circle cx="1037.8" cy="1410.6" r="4.3" fill="#8c6cab" opacity="0.51"/><circle cx="1121.9" cy="1192.8" r="4.2" fill="#6f4f94" opacity="0.68"/><circle cx="1120.0" cy="1419.7" r="4.9" fill="#4b3577" opacity="0.67"/><circle cx="1277.3" cy="1418.7" r="3.6" fill="#6f4f94" opacity="0.56"/><circle cx="1408.0" cy="1258.0" r="3.5" fill="#6f4f94" opacity="0.64"/><circle cx="1325.3" cy="1117.0" r="4.2" fill="#32245a" opacity="0.64"/><circle cx="1196.0" cy="1287.3" r="3.4" fill="#5f4488" opacity="0.63"/><circle cx="1376.7" cy="1111.1" r="3.9" fill="#7d5a9c" opacity="0.43"/><circle cx="981.5" cy="1318.1" r="4.2" fill="#6f4f94" opacity="0.58"/><circle cx="1008.6" cy="1188.2" r="4.9" fill="#5f4488" opacity="0.64"/><circle cx="1091.9" cy="1111.1" r="4.0" fill="#8c6cab" opacity="0.63"/><circle cx="1143.8" cy="1428.7" r="3.6" fill="#4b3577" opacity="0.40"/><circle cx="1350.5" cy="1116.4" r="4.1" fill="#6f4f94" opacity="0.41"/><circle cx="1349.8" cy="1161.8" r="3.8" fill="#32245a" opacity="0.47"/><circle cx="1296.6" cy="1343.0" r="3.2" fill="#6f4f94" opacity="0.43"/><circle cx="1158.6" cy="1389.6" r="4.1" fill="#6f4f94" opacity="0.45"/><circle cx="1213.8" cy="1363.5" r="4.8" fill="#6f4f94" opacity="0.69"/><circle cx="1374.2" cy="1126.1" r="4.7" fill="#5f4488" opacity="0.44"/><circle cx="993.3" cy="1181.5" r="3.5" fill="#6f4f94" opacity="0.66"/><circle cx="1377.7" cy="1212.6" r="3.4" fill="#7d5a9c" opacity="0.53"/><circle cx="1138.2" cy="1288.6" r="3.9" fill="#4b3577" opacity="0.69"/><circle cx="1213.3" cy="1253.0" r="4.9" fill="#32245a" opacity="0.51"/><circle cx="1308.8" cy="1147.9" r="4.7" fill="#4b3577" opacity="0.69"/><circle cx="1302.0" cy="1258.3" r="4.0" fill="#5f4488" opacity="0.65"/><circle cx="1308.1" cy="1277.2" r="3.4" fill="#6f4f94" opacity="0.47"/><circle cx="1171.9" cy="1293.1" r="3.2" fill="#7d5a9c" opacity="0.55"/><circle cx="1156.6" cy="1104.1" r="4.2" fill="#7d5a9c" opacity="0.42"/><circle cx="1028.2" cy="1238.2" r="4.8" fill="#4b3577" opacity="0.70"/><circle cx="1122.4" cy="1127.1" r="4.3" fill="#6f4f94" opacity="0.40"/><circle cx="1331.2" cy="1211.1" r="4.5" fill="#8c6cab" opacity="0.55"/><circle cx="1022.2" cy="1300.5" r="4.9" fill="#5f4488" opacity="0.70"/><circle cx="1267.9" cy="1433.8" r="4.8" fill="#5f4488" opacity="0.40"/><circle cx="1067.0" cy="1135.0" r="4.6" fill="#8c6cab" opacity="0.51"/><circle cx="1403.9" cy="1301.5" r="3.4" fill="#6f4f94" opacity="0.46"/><circle cx="1329.0" cy="1164.6" r="4.6" fill="#5f4488" opacity="0.60"/><circle cx="1307.8" cy="1315.7" r="4.4" fill="#32245a" opacity="0.52"/><circle cx="1242.0" cy="1165.6" r="4.2" fill="#6f4f94" opacity="0.56"/><circle cx="1174.4" cy="1396.7" r="3.4" fill="#6f4f94" opacity="0.48"/><circle cx="1386.3" cy="1317.6" r="5.0" fill="#32245a" opacity="0.67"/><circle cx="1351.1" cy="1295.2" r="3.6" fill="#6f4f94" opacity="0.64"/><circle cx="988.4" cy="1218.4" r="4.7" fill="#7d5a9c" opacity="0.70"/><circle cx="1090.8" cy="1307.4" r="3.3" fill="#8c6cab" opacity="0.59"/><circle cx="1147.4" cy="1145.3" r="4.2" fill="#7d5a9c" opacity="0.58"/><circle cx="1330.3" cy="1146.6" r="3.6" fill="#32245a" opacity="0.43"/><circle cx="1195.7" cy="1332.3" r="3.7" fill="#5f4488" opacity="0.65"/><circle cx="1063.4" cy="1213.4" r="4.5" fill="#6f4f94" opacity="0.52"/><circle cx="1320.7" cy="1421.8" r="4.2" fill="#6f4f94" opacity="0.54"/><circle cx="1268.1" cy="1403.2" r="3.8" fill="#6f4f94" opacity="0.50"/><circle cx="1012.0" cy="1125.4" r="3.6" fill="#7d5a9c" opacity="0.51"/><circle cx="1238.9" cy="1417.8" r="3.6" fill="#5f4488" opacity="0.45"/><circle cx="1378.2" cy="1177.9" r="3.7" fill="#7d5a9c" opacity="0.71"/><circle cx="1126.8" cy="1355.0" r="4.5" fill="#6f4f94" opacity="0.71"/><circle cx="1150.9" cy="1159.3" r="4.9" fill="#5f4488" opacity="0.66"/><circle cx="1183.7" cy="1301.6" r="4.9" fill="#6f4f94" opacity="0.64"/><circle cx="1098.2" cy="1348.0" r="4.0" fill="#32245a" opacity="0.50"/><circle cx="998.8" cy="1208.1" r="4.8" fill="#6f4f94" opacity="0.55"/><circle cx="1086.3" cy="1405.4" r="3.8" fill="#7d5a9c" opacity="0.50"/><circle cx="1218.4" cy="1347.3" r="4.0" fill="#6f4f94" opacity="0.45"/><circle cx="1347.0" cy="1247.9" r="3.8" fill="#8c6cab" opacity="0.60"/><circle cx="988.7" cy="1242.6" r="4.9" fill="#7d5a9c" opacity="0.51"/><circle cx="980.3" cy="1106.0" r="3.3" fill="#4b3577" opacity="0.53"/><circle cx="1005.7" cy="1142.5" r="4.1" fill="#32245a" opacity="0.65"/><circle cx="1082.6" cy="1129.0" r="4.3" fill="#4b3577" opacity="0.56"/><circle cx="1079.8" cy="1174.1" r="4.9" fill="#6f4f94" opacity="0.60"/><circle cx="1119.6" cy="1403.3" r="3.7" fill="#8c6cab" opacity="0.64"/><circle cx="1178.5" cy="1157.3" r="4.6" fill="#7d5a9c" opacity="0.53"/><circle cx="1085.5" cy="1337.7" r="3.8" fill="#7d5a9c" opacity="0.56"/><circle cx="974.3" cy="1258.5" r="3.8" fill="#8c6cab" opacity="0.68"/><circle cx="1011.8" cy="1337.3" r="4.4" fill="#7d5a9c" opacity="0.72"/><circle cx="1275.5" cy="1152.0" r="3.5" fill="#7d5a9c" opacity="0.64"/><circle cx="1378.8" cy="1395.0" r="4.2" fill="#8c6cab" opacity="0.60"/><circle cx="1207.6" cy="1407.9" r="3.8" fill="#7d5a9c" opacity="0.69"/><circle cx="1199.6" cy="1102.8" r="3.3" fill="#6f4f94" opacity="0.46"/><circle cx="1127.7" cy="1217.8" r="4.4" fill="#7d5a9c" opacity="0.47"/><circle cx="1003.6" cy="1307.7" r="3.3" fill="#6f4f94" opacity="0.64"/><circle cx="1205.2" cy="1185.2" r="3.8" fill="#7d5a9c" opacity="0.51"/><circle cx="1376.4" cy="1233.2" r="4.1" fill="#7d5a9c" opacity="0.50"/><circle cx="1396.0" cy="1206.5" r="3.8" fill="#5f4488" opacity="0.44"/><circle cx="1349.4" cy="1134.5" r="4.9" fill="#5f4488" opacity="0.40"/><circle cx="1177.0" cy="1137.5" r="4.0" fill="#4b3577" opacity="0.50"/><circle cx="1061.2" cy="1402.8" r="4.9" fill="#5f4488" opacity="0.41"/><circle cx="1106.2" cy="1220.1" r="4.0" fill="#7d5a9c" opacity="0.60"/><circle cx="1033.3" cy="1214.6" r="4.9" fill="#5f4488" opacity="0.71"/><circle cx="1203.2" cy="1388.1" r="3.5" fill="#6f4f94" opacity="0.43"/><circle cx="1040.6" cy="1294.9" r="4.7" fill="#6f4f94" opacity="0.57"/><circle cx="1053.3" cy="1331.1" r="3.7" fill="#7d5a9c" opacity="0.54"/><circle cx="1334.9" cy="1425.6" r="4.1" fill="#7d5a9c" opacity="0.59"/><circle cx="1380.6" cy="1420.2" r="4.1" fill="#4b3577" opacity="0.66"/><circle cx="1205.4" cy="1313.2" r="3.5" fill="#7d5a9c" opacity="0.57"/><circle cx="1406.5" cy="1219.5" r="3.6" fill="#4b3577" opacity="0.60"/><circle cx="1184.3" cy="1179.2" r="4.6" fill="#6f4f94" opacity="0.51"/><circle cx="972.7" cy="1276.8" r="3.9" fill="#8c6cab" opacity="0.67"/><circle cx="1137.7" cy="1368.8" r="3.6" fill="#6f4f94" opacity="0.60"/><circle cx="1158.1" cy="1229.0" r="3.2" fill="#4b3577" opacity="0.62"/><circle cx="1408.7" cy="1182.6" r="4.2" fill="#7d5a9c" opacity="0.42"/><circle cx="1060.5" cy="1152.3" r="4.5" fill="#4b3577" opacity="0.44"/><circle cx="1320.1" cy="1358.0" r="4.3" fill="#6f4f94" opacity="0.72"/><circle cx="1199.5" cy="1424.1" r="4.4" fill="#6f4f94" opacity="0.68"/><circle cx="1197.5" cy="1207.2" r="3.8" fill="#7d5a9c" opacity="0.57"/><circle cx="1158.6" cy="1326.2" r="4.3" fill="#6f4f94" opacity="0.64"/><circle cx="1221.0" cy="1163.1" r="4.1" fill="#6f4f94" opacity="0.67"/><circle cx="980.7" cy="1130.1" r="4.1" fill="#8c6cab" opacity="0.52"/><circle cx="1275.3" cy="1359.3" r="3.9" fill="#6f4f94" opacity="0.68"/><circle cx="1369.5" cy="1154.3" r="3.6" fill="#7d5a9c" opacity="0.64"/><circle cx="1154.8" cy="1257.6" r="3.4" fill="#7d5a9c" opacity="0.59"/><circle cx="1063.4" cy="1228.0" r="3.9" fill="#6f4f94" opacity="0.55"/><circle cx="1005.3" cy="1355.8" r="4.9" fill="#6f4f94" opacity="0.63"/><circle cx="1315.7" cy="1229.3" r="4.2" fill="#8c6cab" opacity="0.60"/><circle cx="1366.7" cy="1201.2" r="4.4" fill="#6f4f94" opacity="0.41"/><circle cx="1016.9" cy="1428.3" r="4.4" fill="#5f4488" opacity="0.52"/><circle cx="1085.4" cy="1228.2" r="3.8" fill="#7d5a9c" opacity="0.62"/><circle cx="1084.8" cy="1247.1" r="4.9" fill="#7d5a9c" opacity="0.50"/><circle cx="1029.4" cy="1121.2" r="4.8" fill="#7d5a9c" opacity="0.54"/><circle cx="1284.3" cy="1181.1" r="4.0" fill="#8c6cab" opacity="0.57"/><circle cx="1159.6" cy="1425.9" r="4.2" fill="#8c6cab" opacity="0.59"/><circle cx="1281.6" cy="1164.9" r="3.9" fill="#6f4f94" opacity="0.53"/><circle cx="1220.3" cy="1236.7" r="4.7" fill="#6f4f94" opacity="0.42"/><circle cx="1399.4" cy="1163.0" r="4.3" fill="#6f4f94" opacity="0.62"/><circle cx="1331.3" cy="1315.0" r="4.5" fill="#32245a" opacity="0.69"/><circle cx="1343.8" cy="1374.3" r="3.2" fill="#6f4f94" opacity="0.68"/><circle cx="988.6" cy="1144.9" r="4.7" fill="#5f4488" opacity="0.54"/><circle cx="1117.5" cy="1112.9" r="4.7" fill="#6f4f94" opacity="0.46"/><circle cx="1048.6" cy="1381.9" r="4.9" fill="#6f4f94" opacity="0.61"/><circle cx="1291.3" cy="1242.4" r="3.9" fill="#7d5a9c" opacity="0.45"/><circle cx="1191.1" cy="1376.4" r="4.5" fill="#6f4f94" opacity="0.41"/><circle cx="1342.6" cy="1355.5" r="4.5" fill="#6f4f94" opacity="0.69"/><circle cx="1304.7" cy="1189.8" r="3.9" fill="#32245a" opacity="0.68"/><circle cx="1256.2" cy="1370.9" r="3.9" fill="#4b3577" opacity="0.46"/><circle cx="1001.3" cy="1281.2" r="4.5" fill="#6f4f94" opacity="0.48"/><circle cx="1308.7" cy="1119.7" r="4.7" fill="#7d5a9c" opacity="0.68"/><circle cx="991.3" cy="1269.4" r="3.5" fill="#32245a" opacity="0.50"/><circle cx="1400.8" cy="1426.5" r="4.5" fill="#7d5a9c" opacity="0.40"/><circle cx="1066.8" cy="1110.8" r="4.1" fill="#7d5a9c" opacity="0.56"/><circle cx="1043.2" cy="1436.3" r="3.6" fill="#6f4f94" opacity="0.66"/><circle cx="1332.8" cy="1245.9" r="4.0" fill="#8c6cab" opacity="0.71"/><circle cx="1393.8" cy="1232.8" r="4.3" fill="#8c6cab" opacity="0.54"/><circle cx="1077.3" cy="1354.6" r="4.3" fill="#7d5a9c" opacity="0.44"/><circle cx="1218.2" cy="1430.7" r="4.6" fill="#7d5a9c" opacity="0.50"/><circle cx="1286.0" cy="1430.9" r="4.0" fill="#8c6cab" opacity="0.62"/><circle cx="1011.6" cy="1215.5" r="3.4" fill="#6f4f94" opacity="0.45"/><circle cx="1278.8" cy="1213.9" r="4.9" fill="#7d5a9c" opacity="0.44"/><circle cx="1168.5" cy="1249.6" r="3.9" fill="#6f4f94" opacity="0.50"/><circle cx="1393.7" cy="1283.7" r="4.5" fill="#6f4f94" opacity="0.53"/><circle cx="1028.1" cy="1330.8" r="3.9" fill="#4b3577" opacity="0.41"/><circle cx="1315.8" cy="1170.7" r="3.2" fill="#8c6cab" opacity="0.70"/><circle cx="1110.4" cy="1391.4" r="4.0" fill="#6f4f94" opacity="0.70"/><circle cx="1287.9" cy="1228.3" r="4.0" fill="#7d5a9c" opacity="0.52"/><circle cx="1083.0" cy="1159.7" r="3.2" fill="#7d5a9c" opacity="0.53"/><circle cx="1369.2" cy="1432.6" r="4.1" fill="#6f4f94" opacity="0.58"/><circle cx="1310.6" cy="1404.8" r="3.7" fill="#6f4f94" opacity="0.48"/><circle cx="1091.4" cy="1392.1" r="3.8" fill="#7d5a9c" opacity="0.64"/><circle cx="1103.4" cy="1190.4" r="4.4" fill="#7d5a9c" opacity="0.62"/><circle cx="989.3" cy="1334.5" r="3.7" fill="#32245a" opacity="0.45"/><circle cx="974.2" cy="1167.7" r="4.5" fill="#6f4f94" opacity="0.58"/><circle cx="1330.4" cy="1381.8" r="3.8" fill="#8c6cab" opacity="0.48"/><circle cx="1023.0" cy="1192.2" r="3.8" fill="#6f4f94" opacity="0.69"/><circle cx="1290.8" cy="1409.3" r="4.4" fill="#4b3577" opacity="0.44"/><circle cx="1023.2" cy="1257.4" r="4.9" fill="#6f4f94" opacity="0.47"/><circle cx="1350.7" cy="1430.2" r="3.4" fill="#7d5a9c" opacity="0.59"/><circle cx="1156.1" cy="1198.6" r="3.9" fill="#6f4f94" opacity="0.71"/><circle cx="994.0" cy="1371.3" r="4.8" fill="#32245a" opacity="0.50"/><circle cx="1206.8" cy="1141.8" r="4.7" fill="#5f4488" opacity="0.63"/><circle cx="1175.7" cy="1379.6" r="4.6" fill="#6f4f94" opacity="0.41"/><circle cx="1071.8" cy="1283.9" r="4.9" fill="#6f4f94" opacity="0.59"/><circle cx="1004.8" cy="1107.2" r="3.8" fill="#5f4488" opacity="0.72"/><circle cx="1015.0" cy="1406.9" r="3.4" fill="#8c6cab" opacity="0.59"/><circle cx="1185.8" cy="1256.8" r="3.4" fill="#6f4f94" opacity="0.54"/><circle cx="1364.4" cy="1308.8" r="3.3" fill="#4b3577" opacity="0.54"/><circle cx="1084.9" cy="1207.6" r="3.6" fill="#32245a" opacity="0.72"/><circle cx="1373.3" cy="1322.9" r="3.3" fill="#6f4f94" opacity="0.70"/><circle cx="1009.3" cy="1391.8" r="3.6" fill="#7d5a9c" opacity="0.47"/><circle cx="1151.8" cy="1413.6" r="3.7" fill="#6f4f94" opacity="0.69"/><circle cx="1134.2" cy="1386.7" r="5.0" fill="#7d5a9c" opacity="0.63"/><circle cx="1385.7" cy="1295.9" r="3.4" fill="#6f4f94" opacity="0.47"/><circle cx="1203.8" cy="1273.5" r="4.2" fill="#8c6cab" opacity="0.54"/><circle cx="1363.7" cy="1417.6" r="3.6" fill="#8c6cab" opacity="0.72"/><circle cx="1113.9" cy="1330.3" r="4.0" fill="#32245a" opacity="0.66"/><circle cx="994.4" cy="1123.7" r="3.3" fill="#4b3577" opacity="0.71"/><circle cx="1263.5" cy="1162.4" r="3.8" fill="#6f4f94" opacity="0.51"/><circle cx="1219.1" cy="1387.7" r="3.9" fill="#4b3577" opacity="0.46"/><circle cx="1198.4" cy="1117.7" r="4.0" fill="#6f4f94" opacity="0.65"/><circle cx="1232.8" cy="1104.9" r="4.0" fill="#5f4488" opacity="0.53"/><circle cx="1182.3" cy="1362.5" r="5.0" fill="#6f4f94" opacity="0.46"/><circle cx="1248.3" cy="1145.3" r="4.5" fill="#4b3577" opacity="0.65"/><circle cx="1254.5" cy="1125.5" r="3.5" fill="#7d5a9c" opacity="0.51"/><circle cx="1367.2" cy="1304.7" r="2.0" fill="#3b2a72" opacity="0.82"/><circle cx="1390.8" cy="1339.3" r="1.6" fill="#3b2a72" opacity="0.85"/><circle cx="1002.8" cy="1366.5" r="1.8" fill="#3b2a72" opacity="0.69"/><circle cx="985.9" cy="1194.4" r="1.6" fill="#3b2a72" opacity="0.69"/><circle cx="1021.0" cy="1334.0" r="1.5" fill="#3b2a72" opacity="0.66"/><circle cx="1373.3" cy="1118.3" r="1.8" fill="#3b2a72" opacity="0.83"/><circle cx="1365.1" cy="1126.9" r="1.4" fill="#3b2a72" opacity="0.73"/><circle cx="1011.1" cy="1142.3" r="1.3" fill="#3b2a72" opacity="0.76"/><circle cx="1294.9" cy="1165.4" r="1.9" fill="#3b2a72" opacity="0.64"/><circle cx="1071.8" cy="1114.3" r="1.7" fill="#3b2a72" opacity="0.69"/><circle cx="1087.1" cy="1375.7" r="1.5" fill="#3b2a72" opacity="0.70"/><circle cx="1136.0" cy="1246.7" r="1.6" fill="#3b2a72" opacity="0.78"/><circle cx="1396.5" cy="1118.5" r="1.6" fill="#3b2a72" opacity="0.82"/><circle cx="1241.0" cy="1129.7" r="1.8" fill="#3b2a72" opacity="0.68"/><circle cx="1116.4" cy="1361.7" r="1.3" fill="#3b2a72" opacity="0.93"/><circle cx="1174.5" cy="1105.2" r="1.5" fill="#3b2a72" opacity="0.75"/><circle cx="1118.6" cy="1113.6" r="1.5" fill="#3b2a72" opacity="0.88"/><circle cx="1300.2" cy="1279.0" r="1.5" fill="#3b2a72" opacity="0.62"/><circle cx="1119.6" cy="1162.8" r="1.8" fill="#3b2a72" opacity="0.62"/><circle cx="1008.0" cy="1149.2" r="1.5" fill="#3b2a72" opacity="0.88"/><circle cx="1233.6" cy="1169.9" r="1.5" fill="#3b2a72" opacity="0.63"/><circle cx="1194.4" cy="1121.2" r="1.7" fill="#3b2a72" opacity="0.87"/><circle cx="1058.6" cy="1265.4" r="1.6" fill="#3b2a72" opacity="0.84"/><circle cx="1302.3" cy="1169.0" r="1.9" fill="#3b2a72" opacity="0.64"/><circle cx="1409.0" cy="1292.7" r="1.8" fill="#3b2a72" opacity="0.74"/><circle cx="1081.8" cy="1295.6" r="2.0" fill="#3b2a72" opacity="0.85"/><circle cx="1174.2" cy="1170.9" r="1.3" fill="#3b2a72" opacity="0.87"/><circle cx="1030.7" cy="1222.7" r="1.8" fill="#3b2a72" opacity="0.65"/><circle cx="1218.0" cy="1174.2" r="2.0" fill="#3b2a72" opacity="0.73"/><circle cx="1301.5" cy="1310.2" r="1.4" fill="#3b2a72" opacity="0.80"/><circle cx="1322.9" cy="1257.2" r="1.5" fill="#3b2a72" opacity="0.85"/><circle cx="1401.9" cy="1126.6" r="1.9" fill="#3b2a72" opacity="0.63"/><circle cx="1258.3" cy="1165.3" r="1.6" fill="#3b2a72" opacity="0.69"/><circle cx="1178.1" cy="1259.8" r="1.4" fill="#3b2a72" opacity="0.93"/><circle cx="1222.4" cy="1429.0" r="1.7" fill="#3b2a72" opacity="0.65"/><circle cx="1332.3" cy="1384.2" r="1.3" fill="#3b2a72" opacity="0.61"/><circle cx="1210.3" cy="1242.6" r="1.5" fill="#3b2a72" opacity="0.83"/><circle cx="1136.6" cy="1372.9" r="1.3" fill="#3b2a72" opacity="0.82"/><circle cx="1404.9" cy="1378.6" r="1.4" fill="#3b2a72" opacity="0.69"/><circle cx="1075.9" cy="1121.2" r="2.0" fill="#3b2a72" opacity="0.70"/><circle cx="1316.3" cy="1414.6" r="1.3" fill="#3b2a72" opacity="0.81"/><circle cx="1072.2" cy="1360.6" r="1.9" fill="#3b2a72" opacity="0.67"/><circle cx="1096.3" cy="1435.5" r="1.9" fill="#3b2a72" opacity="0.90"/><circle cx="1113.5" cy="1406.9" r="1.3" fill="#3b2a72" opacity="0.61"/><circle cx="1289.6" cy="1423.8" r="1.8" fill="#3b2a72" opacity="0.62"/><circle cx="1076.1" cy="1149.0" r="1.4" fill="#3b2a72" opacity="0.84"/><circle cx="1152.5" cy="1203.4" r="1.3" fill="#3b2a72" opacity="0.85"/><circle cx="1070.7" cy="1247.1" r="1.3" fill="#3b2a72" opacity="0.76"/><circle cx="1111.4" cy="1317.2" r="1.8" fill="#3b2a72" opacity="0.76"/><circle cx="1151.7" cy="1339.0" r="1.8" fill="#3b2a72" opacity="0.81"/><circle cx="1334.8" cy="1379.9" r="1.2" fill="#3b2a72" opacity="0.64"/><circle cx="1010.6" cy="1218.1" r="1.8" fill="#3b2a72" opacity="0.75"/><circle cx="1031.0" cy="1151.7" r="1.2" fill="#3b2a72" opacity="0.89"/><circle cx="1104.8" cy="1294.4" r="1.8" fill="#3b2a72" opacity="0.87"/><circle cx="1142.7" cy="1405.2" r="1.6" fill="#3b2a72" opacity="0.70"/><circle cx="1146.3" cy="1306.8" r="1.5" fill="#3b2a72" opacity="0.81"/><circle cx="1279.7" cy="1115.1" r="1.6" fill="#3b2a72" opacity="0.82"/><circle cx="1245.2" cy="1386.9" r="1.8" fill="#3b2a72" opacity="0.81"/><circle cx="1404.7" cy="1214.6" r="1.7" fill="#3b2a72" opacity="0.62"/><circle cx="1186.4" cy="1404.1" r="1.7" fill="#3b2a72" opacity="0.77"/><circle cx="1122.2" cy="1381.9" r="1.4" fill="#3b2a72" opacity="0.94"/><circle cx="1122.8" cy="1390.5" r="1.8" fill="#3b2a72" opacity="0.79"/><circle cx="1299.7" cy="1253.9" r="1.7" fill="#3b2a72" opacity="0.77"/><circle cx="1197.1" cy="1121.7" r="1.6" fill="#3b2a72" opacity="0.82"/><circle cx="977.6" cy="1206.4" r="1.2" fill="#3b2a72" opacity="0.68"/><circle cx="1060.1" cy="1368.9" r="1.8" fill="#3b2a72" opacity="0.94"/><circle cx="1055.1" cy="1164.4" r="1.9" fill="#3b2a72" opacity="0.63"/><circle cx="1294.2" cy="1381.6" r="1.8" fill="#3b2a72" opacity="0.94"/><circle cx="982.0" cy="1104.4" r="1.7" fill="#3b2a72" opacity="0.89"/><circle cx="1092.3" cy="1243.3" r="1.2" fill="#3b2a72" opacity="0.88"/><circle cx="1082.5" cy="1400.2" r="1.3" fill="#3b2a72" opacity="0.92"/><circle cx="1285.8" cy="1353.8" r="1.6" fill="#3b2a72" opacity="0.66"/><circle cx="1126.2" cy="1151.6" r="1.3" fill="#3b2a72" opacity="0.65"/><circle cx="1100.3" cy="1308.0" r="1.2" fill="#3b2a72" opacity="0.77"/><circle cx="1257.0" cy="1374.4" r="1.2" fill="#3b2a72" opacity="0.60"/><circle cx="1206.0" cy="1371.9" r="1.7" fill="#3b2a72" opacity="0.81"/><circle cx="1077.2" cy="1392.6" r="1.5" fill="#3b2a72" opacity="0.92"/><circle cx="1059.6" cy="1236.9" r="1.8" fill="#3b2a72" opacity="0.62"/><circle cx="1196.2" cy="1228.1" r="1.9" fill="#3b2a72" opacity="0.60"/><circle cx="1396.5" cy="1211.7" r="1.3" fill="#3b2a72" opacity="0.91"/><circle cx="1137.9" cy="1150.3" r="1.4" fill="#3b2a72" opacity="0.60"/><circle cx="1372.4" cy="1320.5" r="1.5" fill="#3b2a72" opacity="0.75"/><circle cx="1029.1" cy="1270.9" r="1.5" fill="#3b2a72" opacity="0.71"/><circle cx="1002.1" cy="1127.0" r="1.2" fill="#3b2a72" opacity="0.93"/><circle cx="1001.2" cy="1130.1" r="1.4" fill="#3b2a72" opacity="0.71"/><circle cx="1386.4" cy="1201.2" r="1.2" fill="#3b2a72" opacity="0.91"/><circle cx="1269.2" cy="1181.0" r="1.3" fill="#3b2a72" opacity="0.88"/><circle cx="1042.3" cy="1104.2" r="1.6" fill="#3b2a72" opacity="0.83"/><circle cx="1201.0" cy="1207.4" r="1.4" fill="#3b2a72" opacity="0.91"/><circle cx="1403.6" cy="1170.4" r="1.2" fill="#3b2a72" opacity="0.92"/><circle cx="1118.7" cy="1335.6" r="1.9" fill="#3b2a72" opacity="0.75"/><circle cx="1112.2" cy="1179.3" r="1.8" fill="#3b2a72" opacity="0.63"/><circle cx="1190.4" cy="1347.6" r="1.9" fill="#3b2a72" opacity="0.77"/><circle cx="1137.0" cy="1266.2" r="1.5" fill="#3b2a72" opacity="0.83"/><circle cx="1141.5" cy="1390.9" r="1.7" fill="#3b2a72" opacity="0.92"/><circle cx="1157.5" cy="1397.2" r="1.9" fill="#3b2a72" opacity="0.74"/><circle cx="1391.6" cy="1273.8" r="1.7" fill="#3b2a72" opacity="0.84"/><circle cx="1354.9" cy="1276.0" r="1.8" fill="#3b2a72" opacity="0.71"/><circle cx="1319.1" cy="1401.4" r="1.6" fill="#3b2a72" opacity="0.67"/><circle cx="1307.5" cy="1291.1" r="1.8" fill="#3b2a72" opacity="0.84"/><circle cx="1281.2" cy="1385.2" r="1.4" fill="#3b2a72" opacity="0.68"/><circle cx="1317.4" cy="1120.4" r="1.9" fill="#3b2a72" opacity="0.91"/><circle cx="1386.0" cy="1134.1" r="1.3" fill="#3b2a72" opacity="0.85"/><circle cx="1258.2" cy="1427.9" r="1.5" fill="#3b2a72" opacity="0.60"/><circle cx="1050.8" cy="1106.8" r="1.7" fill="#3b2a72" opacity="0.70"/><circle cx="1224.6" cy="1195.6" r="1.5" fill="#3b2a72" opacity="0.88"/><circle cx="1015.9" cy="1257.3" r="1.8" fill="#3b2a72" opacity="0.92"/><circle cx="1076.6" cy="1264.2" r="1.8" fill="#3b2a72" opacity="0.76"/><circle cx="1183.4" cy="1397.6" r="1.8" fill="#3b2a72" opacity="0.75"/><circle cx="1020.6" cy="1130.0" r="1.3" fill="#3b2a72" opacity="0.62"/><circle cx="1342.6" cy="1414.9" r="2.0" fill="#3b2a72" opacity="0.64"/><circle cx="1299.3" cy="1324.3" r="1.9" fill="#3b2a72" opacity="0.73"/><circle cx="1359.7" cy="1351.3" r="1.9" fill="#3b2a72" opacity="0.61"/><circle cx="1391.6" cy="1183.3" r="1.9" fill="#3b2a72" opacity="0.61"/><circle cx="1370.9" cy="1378.8" r="1.9" fill="#3b2a72" opacity="0.84"/><circle cx="1175.5" cy="1177.5" r="1.7" fill="#3b2a72" opacity="0.95"/><circle cx="1200.8" cy="1190.3" r="1.7" fill="#3b2a72" opacity="0.94"/><circle cx="982.6" cy="1339.2" r="1.2" fill="#3b2a72" opacity="0.61"/><circle cx="1139.0" cy="1398.8" r="1.9" fill="#3b2a72" opacity="0.70"/><circle cx="979.4" cy="1285.9" r="1.9" fill="#3b2a72" opacity="0.83"/><circle cx="1205.8" cy="1202.8" r="1.4" fill="#3b2a72" opacity="0.65"/><circle cx="1049.8" cy="1202.3" r="1.7" fill="#3b2a72" opacity="0.74"/><circle cx="1204.8" cy="1272.8" r="1.3" fill="#3b2a72" opacity="0.73"/><circle cx="1081.9" cy="1272.1" r="1.6" fill="#3b2a72" opacity="0.83"/><circle cx="1029.4" cy="1406.6" r="1.8" fill="#3b2a72" opacity="0.72"/><circle cx="1385.1" cy="1431.5" r="1.2" fill="#3b2a72" opacity="0.75"/><circle cx="1149.5" cy="1269.1" r="1.8" fill="#3b2a72" opacity="0.88"/><circle cx="1367.5" cy="1201.2" r="1.4" fill="#3b2a72" opacity="0.64"/><circle cx="1210.1" cy="1349.5" r="1.5" fill="#3b2a72" opacity="0.73"/><circle cx="1012.7" cy="1201.9" r="1.6" fill="#3b2a72" opacity="0.76"/><circle cx="1168.3" cy="1162.3" r="1.6" fill="#3b2a72" opacity="0.87"/><circle cx="1215.4" cy="1406.0" r="1.4" fill="#3b2a72" opacity="0.93"/><circle cx="989.7" cy="1121.2" r="1.2" fill="#3b2a72" opacity="0.83"/><circle cx="1182.0" cy="1262.7" r="1.9" fill="#3b2a72" opacity="0.76"/><circle cx="1318.7" cy="1390.9" r="1.9" fill="#3b2a72" opacity="0.65"/><circle cx="1227.6" cy="1145.6" r="1.7" fill="#3b2a72" opacity="0.70"/><circle cx="1066.5" cy="1213.0" r="1.9" fill="#3b2a72" opacity="0.84"/><circle cx="1078.1" cy="1181.0" r="1.3" fill="#3b2a72" opacity="0.91"/><circle cx="1021.0" cy="1114.8" r="1.5" fill="#3b2a72" opacity="0.65"/><circle cx="1212.8" cy="1423.7" r="1.3" fill="#3b2a72" opacity="0.79"/><circle cx="1085.1" cy="1303.4" r="1.2" fill="#3b2a72" opacity="0.72"/><circle cx="1381.1" cy="1193.7" r="1.7" fill="#3b2a72" opacity="0.82"/><circle cx="1140.4" cy="1219.7" r="1.5" fill="#3b2a72" opacity="0.83"/><circle cx="1079.1" cy="1181.4" r="1.9" fill="#3b2a72" opacity="0.84"/><circle cx="1223.7" cy="1136.2" r="1.8" fill="#3b2a72" opacity="0.74"/><circle cx="1390.4" cy="1426.0" r="1.4" fill="#3b2a72" opacity="0.82"/><circle cx="1080.3" cy="1359.7" r="1.3" fill="#3b2a72" opacity="0.94"/><circle cx="1138.0" cy="1381.8" r="1.7" fill="#3b2a72" opacity="0.93"/><circle cx="1349.2" cy="1305.1" r="1.5" fill="#3b2a72" opacity="0.66"/><circle cx="1117.4" cy="1245.6" r="1.9" fill="#3b2a72" opacity="0.87"/><circle cx="981.3" cy="1106.3" r="2.0" fill="#3b2a72" opacity="0.86"/><circle cx="1404.8" cy="1347.7" r="2.0" fill="#3b2a72" opacity="0.82"/><circle cx="1118.9" cy="1246.2" r="1.7" fill="#3b2a72" opacity="0.63"/><circle cx="1259.2" cy="1386.3" r="1.3" fill="#3b2a72" opacity="0.93"/><circle cx="1055.6" cy="1231.7" r="1.4" fill="#3b2a72" opacity="0.82"/><circle cx="1032.0" cy="1332.4" r="1.3" fill="#3b2a72" opacity="0.69"/><circle cx="1108.0" cy="1274.2" r="1.3" fill="#3b2a72" opacity="0.88"/><circle cx="1141.9" cy="1224.0" r="1.2" fill="#3b2a72" opacity="0.74"/><circle cx="1276.9" cy="1152.4" r="2.0" fill="#3b2a72" opacity="0.78"/><circle cx="1303.4" cy="1279.0" r="1.8" fill="#3b2a72" opacity="0.82"/><circle cx="1403.1" cy="1157.2" r="1.2" fill="#3b2a72" opacity="0.66"/><circle cx="1402.2" cy="1141.9" r="1.7" fill="#3b2a72" opacity="0.90"/><circle cx="1310.4" cy="1154.4" r="1.5" fill="#3b2a72" opacity="0.84"/><circle cx="1157.6" cy="1201.8" r="1.8" fill="#3b2a72" opacity="0.83"/><circle cx="1037.4" cy="1149.9" r="2.0" fill="#3b2a72" opacity="0.78"/><circle cx="976.2" cy="1428.6" r="1.7" fill="#3b2a72" opacity="0.84"/><circle cx="1024.1" cy="1202.2" r="1.2" fill="#3b2a72" opacity="0.62"/><circle cx="1213.8" cy="1137.4" r="1.4" fill="#3b2a72" opacity="0.76"/><circle cx="980.2" cy="1231.0" r="1.8" fill="#3b2a72" opacity="0.76"/><circle cx="994.0" cy="1423.3" r="1.3" fill="#3b2a72" opacity="0.75"/><circle cx="1407.9" cy="1345.1" r="1.7" fill="#3b2a72" opacity="0.87"/><circle cx="1084.7" cy="1186.7" r="1.5" fill="#3b2a72" opacity="0.94"/><circle cx="1264.3" cy="1427.9" r="1.7" fill="#3b2a72" opacity="0.85"/><circle cx="1281.2" cy="1217.7" r="1.3" fill="#3b2a72" opacity="0.87"/><circle cx="1407.9" cy="1127.8" r="1.7" fill="#3b2a72" opacity="0.84"/><circle cx="1030.8" cy="1194.0" r="1.6" fill="#3b2a72" opacity="0.86"/><circle cx="1285.9" cy="1176.0" r="1.8" fill="#3b2a72" opacity="0.95"/><circle cx="1212.7" cy="1247.6" r="1.7" fill="#3b2a72" opacity="0.80"/><circle cx="1031.3" cy="1388.2" r="1.4" fill="#3b2a72" opacity="0.79"/><circle cx="1243.8" cy="1190.9" r="1.3" fill="#3b2a72" opacity="0.79"/><circle cx="1148.2" cy="1345.1" r="1.8" fill="#3b2a72" opacity="0.80"/><circle cx="1034.0" cy="1371.2" r="1.9" fill="#3b2a72" opacity="0.62"/><circle cx="1313.7" cy="1318.9" r="1.5" fill="#3b2a72" opacity="0.71"/><circle cx="1131.6" cy="1119.6" r="2.0" fill="#3b2a72" opacity="0.78"/><circle cx="1018.2" cy="1205.6" r="1.5" fill="#3b2a72" opacity="0.76"/><circle cx="1159.1" cy="1165.1" r="1.2" fill="#3b2a72" opacity="0.87"/><circle cx="1111.7" cy="1302.1" r="1.8" fill="#3b2a72" opacity="0.75"/><circle cx="1008.0" cy="1183.1" r="1.9" fill="#3b2a72" opacity="0.95"/><circle cx="1119.9" cy="1326.6" r="1.2" fill="#3b2a72" opacity="0.85"/><circle cx="1144.7" cy="1235.0" r="1.4" fill="#3b2a72" opacity="0.73"/><circle cx="1201.5" cy="1321.1" r="1.2" fill="#3b2a72" opacity="0.86"/><circle cx="1190.2" cy="1238.9" r="2.0" fill="#3b2a72" opacity="0.66"/><circle cx="1313.4" cy="1420.9" r="1.3" fill="#3b2a72" opacity="0.69"/><circle cx="1149.1" cy="1140.9" r="1.6" fill="#3b2a72" opacity="0.85"/><circle cx="1117.9" cy="1349.2" r="1.5" fill="#3b2a72" opacity="0.77"/><circle cx="1030.7" cy="1115.8" r="1.8" fill="#3b2a72" opacity="0.94"/><circle cx="1087.3" cy="1279.9" r="1.8" fill="#3b2a72" opacity="0.61"/><circle cx="1372.9" cy="1205.1" r="1.3" fill="#3b2a72" opacity="0.68"/><circle cx="1393.2" cy="1234.4" r="1.6" fill="#3b2a72" opacity="0.61"/><circle cx="1318.3" cy="1410.7" r="1.3" fill="#3b2a72" opacity="0.87"/><circle cx="1372.6" cy="1211.8" r="1.6" fill="#3b2a72" opacity="0.90"/><circle cx="1308.9" cy="1186.6" r="1.2" fill="#3b2a72" opacity="0.92"/><circle cx="1338.9" cy="1341.8" r="1.3" fill="#3b2a72" opacity="0.78"/><circle cx="1087.6" cy="1344.6" r="1.9" fill="#3b2a72" opacity="0.64"/><circle cx="1289.4" cy="1351.7" r="2.0" fill="#3b2a72" opacity="0.77"/><circle cx="1339.9" cy="1229.2" r="1.6" fill="#3b2a72" opacity="0.87"/><circle cx="1328.4" cy="1354.3" r="1.6" fill="#3b2a72" opacity="0.75"/><circle cx="1194.0" cy="1429.1" r="2.0" fill="#3b2a72" opacity="0.76"/><circle cx="1352.6" cy="1270.9" r="1.8" fill="#3b2a72" opacity="0.81"/><circle cx="1035.7" cy="1432.2" r="1.4" fill="#3b2a72" opacity="0.94"/><circle cx="1198.1" cy="1308.3" r="2.0" fill="#3b2a72" opacity="0.91"/><circle cx="1374.5" cy="1310.2" r="1.3" fill="#3b2a72" opacity="0.86"/><circle cx="1374.4" cy="1155.0" r="1.4" fill="#3b2a72" opacity="0.72"/><circle cx="1129.0" cy="1225.8" r="1.8" fill="#3b2a72" opacity="0.77"/><circle cx="1327.8" cy="1329.4" r="1.3" fill="#3b2a72" opacity="0.91"/><circle cx="1272.5" cy="1130.3" r="1.7" fill="#3b2a72" opacity="0.66"/><circle cx="1321.2" cy="1405.3" r="1.3" fill="#3b2a72" opacity="0.72"/><circle cx="1389.7" cy="1311.1" r="1.9" fill="#3b2a72" opacity="0.77"/><circle cx="1142.5" cy="1362.6" r="1.3" fill="#3b2a72" opacity="0.79"/><circle cx="1238.4" cy="1402.0" r="1.6" fill="#3b2a72" opacity="0.70"/><circle cx="1051.9" cy="1420.8" r="1.2" fill="#3b2a72" opacity="0.70"/><circle cx="1296.7" cy="1294.0" r="1.6" fill="#2e2268" opacity="0.82"/><circle cx="1273.9" cy="1293.4" r="1.8" fill="#2e2268" opacity="0.98"/><circle cx="1284.0" cy="1243.1" r="1.7" fill="#2e2268" opacity="0.70"/><circle cx="1271.4" cy="1237.6" r="2.2" fill="#2e2268" opacity="0.82"/><circle cx="1302.5" cy="1262.8" r="1.6" fill="#2e2268" opacity="0.71"/><circle cx="1286.6" cy="1272.7" r="2.0" fill="#2e2268" opacity="0.86"/><circle cx="1281.7" cy="1243.7" r="1.6" fill="#2e2268" opacity="0.88"/><circle cx="1267.7" cy="1275.8" r="1.3" fill="#2e2268" opacity="0.93"/><circle cx="1271.4" cy="1270.7" r="1.6" fill="#2e2268" opacity="0.93"/><circle cx="1266.0" cy="1296.5" r="1.3" fill="#2e2268" opacity="0.78"/><circle cx="1272.4" cy="1261.4" r="1.4" fill="#2e2268" opacity="0.96"/><circle cx="1291.9" cy="1304.7" r="2.0" fill="#2e2268" opacity="0.89"/><circle cx="1282.2" cy="1307.1" r="1.7" fill="#2e2268" opacity="0.88"/><circle cx="1300.5" cy="1263.8" r="2.1" fill="#2e2268" opacity="0.85"/><circle cx="1302.7" cy="1278.9" r="2.1" fill="#2e2268" opacity="0.89"/><circle cx="1264.6" cy="1273.0" r="1.4" fill="#2e2268" opacity="0.80"/><circle cx="1274.1" cy="1253.3" r="1.8" fill="#2e2268" opacity="0.93"/><circle cx="1277.1" cy="1238.2" r="1.5" fill="#2e2268" opacity="0.75"/><circle cx="1285.2" cy="1271.9" r="1.4" fill="#2e2268" opacity="0.71"/><circle cx="1258.7" cy="1250.5" r="1.6" fill="#2e2268" opacity="0.89"/><circle cx="1292.8" cy="1258.9" r="1.7" fill="#2e2268" opacity="0.75"/><circle cx="1305.9" cy="1260.2" r="2.0" fill="#2e2268" opacity="0.91"/><circle cx="1271.8" cy="1253.0" r="1.8" fill="#2e2268" opacity="0.72"/><circle cx="1273.2" cy="1234.7" r="1.7" fill="#2e2268" opacity="0.79"/><circle cx="1266.3" cy="1284.9" r="1.6" fill="#2e2268" opacity="0.94"/><circle cx="1267.0" cy="1276.2" r="1.5" fill="#2e2268" opacity="0.73"/><circle cx="1294.6" cy="1278.9" r="1.4" fill="#2e2268" opacity="0.88"/><circle cx="1304.6" cy="1278.7" r="2.2" fill="#2e2268" opacity="0.87"/><circle cx="1284.0" cy="1279.8" r="1.5" fill="#2e2268" opacity="0.72"/><circle cx="1289.5" cy="1258.9" r="1.7" fill="#2e2268" opacity="0.81"/><circle cx="1271.9" cy="1263.8" r="1.8" fill="#2e2268" opacity="0.89"/><circle cx="1287.3" cy="1227.2" r="1.5" fill="#2e2268" opacity="0.87"/><circle cx="1285.1" cy="1243.3" r="1.6" fill="#2e2268" opacity="0.96"/><circle cx="1268.3" cy="1302.5" r="1.9" fill="#2e2268" opacity="0.93"/><circle cx="1272.3" cy="1282.9" r="2.1" fill="#2e2268" opacity="0.78"/><circle cx="1279.8" cy="1256.8" r="1.9" fill="#2e2268" opacity="0.85"/><circle cx="1275.5" cy="1226.1" r="2.3" fill="#2e2268" opacity="0.83"/><circle cx="1254.0" cy="1257.6" r="1.8" fill="#2e2268" opacity="0.75"/><circle cx="1267.6" cy="1233.8" r="1.4" fill="#2e2268" opacity="0.91"/><circle cx="1305.0" cy="1293.1" r="2.0" fill="#2e2268" opacity="0.73"/><circle cx="1256.1" cy="1279.1" r="1.6" fill="#2e2268" opacity="0.97"/><circle cx="1298.1" cy="1291.2" r="2.1" fill="#2e2268" opacity="0.76"/><circle cx="1278.6" cy="1306.2" r="2.1" fill="#2e2268" opacity="0.79"/><circle cx="1312.4" cy="1268.5" r="2.3" fill="#2e2268" opacity="0.71"/><circle cx="1277.6" cy="1302.6" r="2.1" fill="#2e2268" opacity="0.79"/><circle cx="1285.1" cy="1230.1" r="2.3" fill="#2e2268" opacity="0.72"/><circle cx="1284.3" cy="1268.7" r="2.2" fill="#2e2268" opacity="0.84"/><circle cx="1279.4" cy="1263.5" r="1.6" fill="#2e2268" opacity="0.88"/><circle cx="1312.5" cy="1265.6" r="2.0" fill="#2e2268" opacity="0.96"/><circle cx="1274.6" cy="1273.8" r="2.2" fill="#2e2268" opacity="0.86"/><circle cx="1287.2" cy="1274.6" r="2.1" fill="#2e2268" opacity="0.86"/><circle cx="1291.2" cy="1232.1" r="1.7" fill="#2e2268" opacity="0.93"/><circle cx="1280.2" cy="1274.5" r="2.1" fill="#2e2268" opacity="0.97"/><circle cx="1296.2" cy="1259.3" r="2.0" fill="#2e2268" opacity="0.90"/><circle cx="1275.2" cy="1230.9" r="2.1" fill="#2e2268" opacity="0.80"/><circle cx="1267.0" cy="1267.0" r="2.3" fill="#2e2268" opacity="0.92"/><circle cx="1267.2" cy="1286.2" r="2.1" fill="#2e2268" opacity="0.75"/><circle cx="1279.4" cy="1256.7" r="1.6" fill="#2e2268" opacity="0.86"/><circle cx="1260.5" cy="1249.0" r="2.2" fill="#2e2268" opacity="0.83"/><circle cx="1287.2" cy="1252.3" r="1.9" fill="#2e2268" opacity="0.81"/><circle cx="1294.6" cy="1242.5" r="1.7" fill="#2e2268" opacity="0.76"/><circle cx="1264.4" cy="1291.4" r="1.8" fill="#2e2268" opacity="0.83"/><circle cx="1285.4" cy="1259.3" r="2.0" fill="#2e2268" opacity="0.86"/><circle cx="1284.6" cy="1236.3" r="1.8" fill="#2e2268" opacity="0.80"/><circle cx="1307.0" cy="1249.9" r="1.3" fill="#2e2268" opacity="0.89"/><circle cx="1279.3" cy="1289.2" r="1.6" fill="#2e2268" opacity="0.95"/><circle cx="1272.7" cy="1291.0" r="1.6" fill="#2e2268" opacity="0.81"/><circle cx="1299.5" cy="1266.1" r="1.3" fill="#2e2268" opacity="0.96"/><circle cx="1266.2" cy="1265.1" r="2.1" fill="#2e2268" opacity="0.76"/><circle cx="1275.7" cy="1266.7" r="1.9" fill="#2e2268" opacity="0.71"/><circle cx="1301.1" cy="1244.7" r="1.8" fill="#2e2268" opacity="0.91"/><circle cx="1270.2" cy="1237.3" r="1.8" fill="#2e2268" opacity="0.81"/><circle cx="1282.3" cy="1232.6" r="2.1" fill="#2e2268" opacity="0.86"/><circle cx="1282.6" cy="1255.6" r="2.0" fill="#2e2268" opacity="0.99"/><circle cx="1275.7" cy="1263.7" r="2.2" fill="#2e2268" opacity="0.88"/><circle cx="1296.9" cy="1300.0" r="1.6" fill="#2e2268" opacity="0.85"/><circle cx="1283.8" cy="1271.4" r="1.3" fill="#2e2268" opacity="0.90"/><circle cx="1266.0" cy="1287.2" r="1.9" fill="#2e2268" opacity="0.99"/><circle cx="1302.2" cy="1291.5" r="2.1" fill="#2e2268" opacity="0.78"/><circle cx="1291.9" cy="1255.9" r="1.5" fill="#2e2268" opacity="0.73"/><circle cx="1283.6" cy="1250.1" r="1.4" fill="#2e2268" opacity="0.95"/><circle cx="1276.7" cy="1300.0" r="1.8" fill="#2e2268" opacity="0.98"/><circle cx="1299.3" cy="1281.5" r="1.7" fill="#2e2268" opacity="0.92"/><circle cx="1311.3" cy="1263.1" r="2.1" fill="#2e2268" opacity="0.91"/><circle cx="1303.4" cy="1236.9" r="1.5" fill="#2e2268" opacity="0.86"/><circle cx="1279.3" cy="1249.0" r="2.0" fill="#2e2268" opacity="0.84"/><circle cx="1261.1" cy="1293.6" r="1.8" fill="#2e2268" opacity="0.96"/><circle cx="1293.6" cy="1225.6" r="1.8" fill="#2e2268" opacity="0.73"/><circle cx="1288.3" cy="1240.3" r="2.0" fill="#2e2268" opacity="0.79"/><circle cx="1287.7" cy="1240.1" r="1.4" fill="#2e2268" opacity="0.96"/><circle cx="1312.1" cy="1279.8" r="2.1" fill="#2e2268" opacity="0.76"/><circle cx="1287.2" cy="1292.3" r="1.8" fill="#2e2268" opacity="0.95"/><circle cx="1275.2" cy="1237.5" r="1.7" fill="#2e2268" opacity="0.71"/><circle cx="1276.3" cy="1292.3" r="2.0" fill="#2e2268" opacity="0.91"/><circle cx="1285.8" cy="1280.2" r="2.3" fill="#2e2268" opacity="0.70"/><circle cx="1283.3" cy="1235.6" r="2.2" fill="#2e2268" opacity="0.89"/><circle cx="1277.5" cy="1242.3" r="1.9" fill="#2e2268" opacity="0.89"/><circle cx="1256.2" cy="1282.5" r="2.0" fill="#2e2268" opacity="0.90"/><circle cx="1296.8" cy="1233.6" r="1.5" fill="#2e2268" opacity="0.88"/><circle cx="1283.6" cy="1249.7" r="1.6" fill="#2e2268" opacity="0.79"/><circle cx="1285.3" cy="1290.2" r="1.3" fill="#2e2268" opacity="0.74"/><circle cx="1292.6" cy="1243.1" r="1.6" fill="#2e2268" opacity="0.84"/><circle cx="1302.8" cy="1284.1" r="1.7" fill="#2e2268" opacity="1.00"/><circle cx="1251.5" cy="1270.1" r="1.7" fill="#2e2268" opacity="0.91"/><circle cx="1262.6" cy="1253.3" r="2.0" fill="#2e2268" opacity="0.75"/><circle cx="1295.4" cy="1265.2" r="1.6" fill="#2e2268" opacity="0.82"/><circle cx="1263.7" cy="1280.0" r="1.4" fill="#2e2268" opacity="0.96"/><circle cx="1263.3" cy="1283.6" r="2.3" fill="#2e2268" opacity="0.85"/><circle cx="1288.0" cy="1282.1" r="1.4" fill="#2e2268" opacity="0.92"/><circle cx="1302.2" cy="1240.7" r="2.3" fill="#2e2268" opacity="0.97"/><circle cx="1153.5" cy="1191.5" r="1.8" fill="#2e2268" opacity="0.87"/><circle cx="1096.4" cy="1201.1" r="2.2" fill="#2e2268" opacity="0.75"/><circle cx="1203.5" cy="1167.3" r="2.3" fill="#2e2268" opacity="0.84"/><circle cx="1196.6" cy="1175.8" r="1.7" fill="#2e2268" opacity="0.71"/><circle cx="1185.9" cy="1163.4" r="1.4" fill="#2e2268" opacity="0.85"/><circle cx="1154.2" cy="1187.0" r="1.5" fill="#2e2268" opacity="0.81"/><circle cx="1134.7" cy="1160.5" r="1.7" fill="#2e2268" opacity="0.75"/><circle cx="1142.6" cy="1178.4" r="1.4" fill="#2e2268" opacity="0.96"/><circle cx="1140.8" cy="1190.0" r="2.2" fill="#2e2268" opacity="0.96"/><circle cx="1104.2" cy="1201.3" r="1.6" fill="#2e2268" opacity="0.98"/><circle cx="1106.0" cy="1178.6" r="2.2" fill="#2e2268" opacity="0.78"/><circle cx="1099.9" cy="1182.4" r="2.3" fill="#2e2268" opacity="0.78"/><circle cx="1024.8" cy="1185.2" r="2.3" fill="#2e2268" opacity="0.90"/><circle cx="1188.5" cy="1193.4" r="1.4" fill="#2e2268" opacity="0.94"/><circle cx="1097.6" cy="1177.9" r="2.2" fill="#2e2268" opacity="0.81"/><circle cx="1097.1" cy="1165.7" r="1.9" fill="#2e2268" opacity="0.87"/><circle cx="1021.7" cy="1177.2" r="1.5" fill="#2e2268" opacity="0.96"/><circle cx="1108.6" cy="1174.2" r="1.5" fill="#2e2268" opacity="0.97"/><circle cx="1168.1" cy="1186.2" r="2.0" fill="#2e2268" opacity="0.90"/><circle cx="1007.8" cy="1178.8" r="1.8" fill="#2e2268" opacity="0.72"/><circle cx="1152.2" cy="1197.8" r="1.7" fill="#2e2268" opacity="0.80"/><circle cx="1126.2" cy="1161.0" r="1.5" fill="#2e2268" opacity="0.98"/><circle cx="1129.5" cy="1193.3" r="2.0" fill="#2e2268" opacity="0.80"/><circle cx="1176.7" cy="1184.3" r="1.9" fill="#2e2268" opacity="0.75"/><circle cx="1043.4" cy="1174.7" r="2.2" fill="#2e2268" opacity="0.76"/><circle cx="1191.9" cy="1172.3" r="1.8" fill="#2e2268" opacity="0.79"/><circle cx="1222.6" cy="1177.6" r="2.2" fill="#2e2268" opacity="0.77"/><circle cx="1147.6" cy="1178.3" r="1.6" fill="#2e2268" opacity="0.91"/><circle cx="1159.0" cy="1186.3" r="1.5" fill="#2e2268" opacity="0.98"/><circle cx="1225.3" cy="1182.1" r="2.1" fill="#2e2268" opacity="0.78"/><circle cx="1034.8" cy="1184.3" r="1.7" fill="#2e2268" opacity="0.97"/><circle cx="1154.5" cy="1196.8" r="1.7" fill="#2e2268" opacity="0.93"/><circle cx="1148.0" cy="1184.3" r="1.8" fill="#2e2268" opacity="0.90"/><circle cx="1184.8" cy="1170.9" r="1.4" fill="#2e2268" opacity="0.85"/><circle cx="1102.8" cy="1182.7" r="2.0" fill="#2e2268" opacity="1.00"/><circle cx="1122.0" cy="1191.5" r="1.7" fill="#2e2268" opacity="0.71"/><circle cx="1094.0" cy="1159.6" r="1.7" fill="#2e2268" opacity="0.99"/><circle cx="1050.3" cy="1173.9" r="1.6" fill="#2e2268" opacity="0.94"/><circle cx="1129.2" cy="1184.7" r="2.0" fill="#2e2268" opacity="0.95"/><circle cx="1110.8" cy="1164.7" r="1.4" fill="#2e2268" opacity="0.81"/><circle cx="1099.1" cy="1183.6" r="1.7" fill="#2e2268" opacity="0.99"/><circle cx="1079.9" cy="1184.7" r="2.1" fill="#2e2268" opacity="0.79"/><circle cx="1103.5" cy="1199.9" r="1.6" fill="#2e2268" opacity="0.93"/><circle cx="1154.1" cy="1201.5" r="1.3" fill="#2e2268" opacity="0.74"/><circle cx="1008.4" cy="1177.1" r="2.3" fill="#2e2268" opacity="0.89"/><circle cx="1040.4" cy="1172.3" r="2.3" fill="#2e2268" opacity="0.98"/><circle cx="1083.5" cy="1199.1" r="2.3" fill="#2e2268" opacity="0.91"/><circle cx="1061.6" cy="1171.5" r="2.1" fill="#2e2268" opacity="0.78"/><circle cx="1167.5" cy="1199.1" r="2.1" fill="#2e2268" opacity="0.74"/><circle cx="1235.0" cy="1185.7" r="1.8" fill="#2e2268" opacity="0.74"/><circle cx="1214.9" cy="1192.8" r="2.0" fill="#2e2268" opacity="0.88"/><circle cx="1117.8" cy="1167.6" r="2.2" fill="#2e2268" opacity="0.85"/><circle cx="1200.6" cy="1174.8" r="1.8" fill="#2e2268" opacity="0.75"/><circle cx="1059.3" cy="1195.6" r="1.6" fill="#2e2268" opacity="0.88"/><circle cx="1087.0" cy="1173.6" r="1.9" fill="#2e2268" opacity="0.83"/><circle cx="1209.0" cy="1166.7" r="1.4" fill="#2e2268" opacity="0.95"/><circle cx="1205.8" cy="1188.2" r="1.9" fill="#2e2268" opacity="0.76"/><circle cx="1160.4" cy="1172.9" r="1.9" fill="#2e2268" opacity="0.88"/><circle cx="1008.9" cy="1175.7" r="1.9" fill="#2e2268" opacity="0.82"/><circle cx="1177.3" cy="1167.3" r="1.6" fill="#2e2268" opacity="0.84"/><circle cx="1222.8" cy="1168.5" r="1.3" fill="#2e2268" opacity="0.92"/><circle cx="1063.2" cy="1183.4" r="1.4" fill="#2e2268" opacity="0.82"/><circle cx="1162.8" cy="1196.9" r="1.4" fill="#2e2268" opacity="0.83"/><circle cx="1081.3" cy="1193.5" r="1.6" fill="#2e2268" opacity="0.90"/><circle cx="1166.8" cy="1186.8" r="2.2" fill="#2e2268" opacity="0.85"/><circle cx="1081.1" cy="1165.0" r="1.9" fill="#2e2268" opacity="0.90"/><circle cx="1138.2" cy="1199.1" r="1.6" fill="#2e2268" opacity="0.99"/><circle cx="1025.5" cy="1187.9" r="1.3" fill="#2e2268" opacity="0.86"/><circle cx="1220.2" cy="1177.5" r="2.1" fill="#2e2268" opacity="0.83"/><circle cx="1047.0" cy="1185.8" r="1.4" fill="#2e2268" opacity="0.82"/><circle cx="1106.0" cy="1173.8" r="1.5" fill="#2e2268" opacity="0.72"/><circle cx="1117.0" cy="1158.8" r="1.9" fill="#2e2268" opacity="0.80"/><circle cx="1171.6" cy="1191.2" r="2.2" fill="#2e2268" opacity="0.70"/><circle cx="1126.6" cy="1180.7" r="1.3" fill="#2e2268" opacity="0.86"/><circle cx="1178.1" cy="1162.9" r="1.4" fill="#2e2268" opacity="0.73"/><circle cx="1152.3" cy="1177.5" r="1.8" fill="#2e2268" opacity="0.90"/><circle cx="1133.0" cy="1178.9" r="2.0" fill="#2e2268" opacity="0.87"/><circle cx="1130.4" cy="1190.7" r="1.8" fill="#2e2268" opacity="0.88"/><circle cx="1225.0" cy="1190.2" r="1.9" fill="#2e2268" opacity="0.86"/><circle cx="1141.8" cy="1174.9" r="1.4" fill="#2e2268" opacity="0.75"/><circle cx="1046.0" cy="1166.2" r="2.2" fill="#2e2268" opacity="0.80"/><circle cx="1075.2" cy="1183.2" r="2.0" fill="#2e2268" opacity="0.91"/><circle cx="1120.8" cy="1190.9" r="2.2" fill="#2e2268" opacity="0.79"/><circle cx="1132.2" cy="1197.5" r="1.8" fill="#2e2268" opacity="0.78"/><circle cx="1181.2" cy="1195.2" r="2.1" fill="#2e2268" opacity="1.00"/><circle cx="1135.0" cy="1197.1" r="2.0" fill="#2e2268" opacity="1.00"/><circle cx="1203.2" cy="1188.3" r="1.8" fill="#2e2268" opacity="0.78"/><circle cx="1108.1" cy="1174.8" r="2.0" fill="#2e2268" opacity="0.99"/><circle cx="1114.6" cy="1167.0" r="1.5" fill="#2e2268" opacity="0.82"/><circle cx="1069.2" cy="1190.7" r="2.2" fill="#2e2268" opacity="0.84"/><circle cx="1282.7" cy="1415.2" r="2.3" fill="#2e2268" opacity="0.95"/><circle cx="1270.0" cy="1400.6" r="2.2" fill="#2e2268" opacity="1.00"/><circle cx="1299.0" cy="1409.8" r="2.3" fill="#2e2268" opacity="0.73"/><circle cx="1293.1" cy="1392.9" r="2.1" fill="#2e2268" opacity="0.75"/><circle cx="1264.6" cy="1401.0" r="1.9" fill="#2e2268" opacity="0.94"/><circle cx="1263.8" cy="1408.4" r="2.0" fill="#2e2268" opacity="0.92"/><circle cx="1306.8" cy="1418.5" r="1.5" fill="#2e2268" opacity="1.00"/><circle cx="1342.7" cy="1396.5" r="1.8" fill="#2e2268" opacity="0.82"/><circle cx="1332.3" cy="1396.8" r="1.9" fill="#2e2268" opacity="0.73"/><circle cx="1290.9" cy="1396.1" r="1.9" fill="#2e2268" opacity="0.95"/><circle cx="1275.6" cy="1410.2" r="2.1" fill="#2e2268" opacity="0.82"/><circle cx="1310.5" cy="1398.1" r="1.6" fill="#2e2268" opacity="0.71"/><circle cx="1304.8" cy="1385.5" r="2.0" fill="#2e2268" opacity="0.88"/><circle cx="1263.3" cy="1406.2" r="1.8" fill="#2e2268" opacity="0.70"/><circle cx="1282.2" cy="1416.3" r="1.5" fill="#2e2268" opacity="0.96"/><circle cx="1324.5" cy="1412.4" r="1.9" fill="#2e2268" opacity="0.72"/><circle cx="1264.4" cy="1413.4" r="1.6" fill="#2e2268" opacity="0.76"/><circle cx="1313.7" cy="1398.1" r="1.6" fill="#2e2268" opacity="0.85"/><circle cx="1295.5" cy="1383.6" r="1.9" fill="#2e2268" opacity="0.80"/><circle cx="1272.4" cy="1414.3" r="1.3" fill="#2e2268" opacity="0.72"/><circle cx="1312.8" cy="1413.7" r="1.4" fill="#2e2268" opacity="0.78"/><circle cx="1310.0" cy="1387.6" r="2.2" fill="#2e2268" opacity="0.90"/><circle cx="1308.8" cy="1418.9" r="1.8" fill="#2e2268" opacity="0.71"/><circle cx="1318.7" cy="1402.9" r="1.6" fill="#2e2268" opacity="0.81"/><circle cx="1307.3" cy="1392.4" r="1.6" fill="#2e2268" opacity="0.72"/><circle cx="1334.1" cy="1415.9" r="1.4" fill="#2e2268" opacity="0.84"/><circle cx="1329.9" cy="1390.4" r="1.8" fill="#2e2268" opacity="0.87"/><circle cx="1340.4" cy="1405.7" r="2.0" fill="#2e2268" opacity="0.76"/><circle cx="1306.2" cy="1396.5" r="1.7" fill="#2e2268" opacity="0.79"/><circle cx="1337.1" cy="1391.1" r="2.0" fill="#2e2268" opacity="0.82"/><circle cx="1339.7" cy="1394.0" r="2.0" fill="#2e2268" opacity="0.71"/><circle cx="1317.0" cy="1405.5" r="1.8" fill="#2e2268" opacity="0.71"/><circle cx="1261.9" cy="1401.1" r="1.9" fill="#2e2268" opacity="0.95"/><circle cx="1330.0" cy="1390.9" r="2.2" fill="#2e2268" opacity="0.97"/><circle cx="1316.9" cy="1401.7" r="1.4" fill="#2e2268" opacity="0.99"/><circle cx="1272.7" cy="1413.7" r="1.3" fill="#2e2268" opacity="0.74"/><circle cx="1326.7" cy="1392.8" r="1.8" fill="#2e2268" opacity="0.77"/><circle cx="1325.3" cy="1387.3" r="2.2" fill="#2e2268" opacity="0.95"/><circle cx="1281.3" cy="1412.3" r="2.2" fill="#2e2268" opacity="0.97"/><circle cx="1308.9" cy="1407.6" r="1.7" fill="#2e2268" opacity="0.81"/><circle cx="988.4" cy="1120.9" r="1.4" fill="#2e2268" opacity="0.88"/><circle cx="1012.4" cy="1111.5" r="1.4" fill="#2e2268" opacity="0.87"/><circle cx="991.8" cy="1121.0" r="1.8" fill="#2e2268" opacity="0.99"/><circle cx="1008.5" cy="1144.9" r="2.3" fill="#2e2268" opacity="0.85"/><circle cx="983.1" cy="1144.5" r="1.6" fill="#2e2268" opacity="0.98"/><circle cx="1002.6" cy="1124.3" r="1.4" fill="#2e2268" opacity="0.88"/><circle cx="1002.2" cy="1128.6" r="1.3" fill="#2e2268" opacity="0.99"/><circle cx="979.4" cy="1113.4" r="1.5" fill="#2e2268" opacity="0.87"/><circle cx="1015.1" cy="1139.0" r="1.7" fill="#2e2268" opacity="0.96"/><circle cx="981.5" cy="1131.8" r="2.3" fill="#2e2268" opacity="0.74"/><circle cx="992.8" cy="1110.5" r="2.2" fill="#2e2268" opacity="0.75"/><circle cx="1001.8" cy="1148.8" r="1.5" fill="#2e2268" opacity="0.74"/><circle cx="1013.5" cy="1138.1" r="1.4" fill="#2e2268" opacity="0.99"/><circle cx="1004.9" cy="1106.4" r="2.0" fill="#2e2268" opacity="0.94"/><circle cx="1014.8" cy="1135.2" r="1.9" fill="#2e2268" opacity="0.79"/><circle cx="979.9" cy="1129.5" r="1.6" fill="#2e2268" opacity="0.87"/><circle cx="1015.9" cy="1112.3" r="1.9" fill="#2e2268" opacity="0.96"/><circle cx="1011.6" cy="1129.6" r="1.7" fill="#2e2268" opacity="0.95"/><circle cx="988.8" cy="1145.8" r="1.5" fill="#2e2268" opacity="0.90"/><circle cx="983.7" cy="1112.6" r="2.2" fill="#2e2268" opacity="0.72"/><circle cx="1015.0" cy="1120.1" r="2.1" fill="#2e2268" opacity="0.80"/><circle cx="986.0" cy="1107.3" r="1.7" fill="#2e2268" opacity="0.86"/><circle cx="974.0" cy="1123.8" r="1.9" fill="#2e2268" opacity="0.94"/><circle cx="976.0" cy="1122.5" r="1.7" fill="#2e2268" opacity="0.87"/><circle cx="986.2" cy="1144.4" r="2.1" fill="#2e2268" opacity="0.98"/>
</g>
<path d="M1214.7 1213.2 L1233.8 1207.7 L1244.8 1218.7 L1255.7 1243.3 L1269.4 1265.2 L1288.6 1298.1 L1305.0 1325.5 L1313.2 1352.9 L1307.8 1363.8 L1294.1 1366.6 L1283.1 1355.6 L1269.4 1336.4 L1247.5 1325.5 L1233.8 1309.1 L1228.3 1287.2 L1211.9 1270.7 L1206.4 1248.8 L1206.4 1226.9Z" fill="#fdfbfd" filter="url(#vb)"/>
<path d="M1214.7 1213.2 L1233.8 1207.7 L1244.8 1218.7 L1255.7 1243.3 L1269.4 1265.2 L1288.6 1298.1 L1305.0 1325.5 L1313.2 1352.9 L1307.8 1363.8 L1294.1 1366.6 L1283.1 1355.6 L1269.4 1336.4 L1247.5 1325.5 L1233.8 1309.1 L1228.3 1287.2 L1211.9 1270.7 L1206.4 1248.8 L1206.4 1226.9Z" fill="#fefdfe" opacity="0.85"/>
<path d="M1236.6 1131.1 L1247.5 1127.0 L1257.1 1133.8 L1255.7 1144.8 L1244.8 1148.9 L1236.6 1143.4Z" fill="#fdfbfd" filter="url(#vb)"/>
<path d="M1236.6 1131.1 L1247.5 1127.0 L1257.1 1133.8 L1255.7 1144.8 L1244.8 1148.9 L1236.6 1143.4Z" fill="#fefdfe" opacity="0.85"/>
<path d="M1296.8 1372.0 L1316.0 1373.4 L1318.7 1384.4 L1302.3 1387.1Z" fill="#fdfbfd" filter="url(#vb)"/>
<path d="M1296.8 1372.0 L1316.0 1373.4 L1318.7 1384.4 L1302.3 1387.1Z" fill="#fefdfe" opacity="0.85"/>
<ellipse cx="1235.3" cy="1258.4" rx="2.0" ry="2.3" fill="#f0608c" opacity="0.74" filter="url(#nb)"/>
<ellipse cx="1246.1" cy="1240.7" rx="2.3" ry="2.3" fill="#f0608c" opacity="0.79" filter="url(#nb)"/>
<ellipse cx="1244.7" cy="1247.2" rx="2.3" ry="1.9" fill="#f0608c" opacity="0.70" filter="url(#nb)"/>
<ellipse cx="1240.9" cy="1247.0" rx="2.7" ry="2.2" fill="#f0608c" opacity="0.46" filter="url(#nb)"/>
<ellipse cx="1237.6" cy="1251.7" rx="2.6" ry="2.4" fill="#f0608c" opacity="0.47" filter="url(#nb)"/>
<ellipse cx="1237.6" cy="1246.1" rx="2.8" ry="1.7" fill="#f0608c" opacity="0.72" filter="url(#nb)"/>
<ellipse cx="1240.6" cy="1240.8" rx="3.0" ry="1.6" fill="#f0608c" opacity="0.78" filter="url(#nb)"/>
<ellipse cx="1238.9" cy="1242.3" rx="2.1" ry="2.0" fill="#f0608c" opacity="0.74" filter="url(#nb)"/>
<ellipse cx="1237.5" cy="1247.6" rx="2.4" ry="1.8" fill="#f0608c" opacity="0.50" filter="url(#nb)"/>
<ellipse cx="1245.3" cy="1243.8" rx="2.5" ry="2.2" fill="#f0608c" opacity="0.49" filter="url(#nb)"/>
<ellipse cx="1259.0" cy="1284.8" rx="2.2" ry="2.4" fill="#f0608c" opacity="0.69" filter="url(#nb)"/>
<ellipse cx="1244.7" cy="1271.2" rx="1.9" ry="2.0" fill="#f0608c" opacity="0.61" filter="url(#nb)"/>
<ellipse cx="1249.9" cy="1275.8" rx="2.6" ry="1.6" fill="#f0608c" opacity="0.53" filter="url(#nb)"/>
<ellipse cx="1251.9" cy="1275.6" rx="2.0" ry="1.8" fill="#f0608c" opacity="0.79" filter="url(#nb)"/>
<ellipse cx="1258.4" cy="1281.2" rx="2.3" ry="2.0" fill="#f0608c" opacity="0.70" filter="url(#nb)"/>
<ellipse cx="1251.9" cy="1279.3" rx="1.8" ry="2.3" fill="#f0608c" opacity="0.52" filter="url(#nb)"/>
<ellipse cx="1245.5" cy="1276.9" rx="3.1" ry="1.9" fill="#f0608c" opacity="0.68" filter="url(#nb)"/>
<ellipse cx="1242.3" cy="1285.8" rx="2.1" ry="2.1" fill="#f0608c" opacity="0.69" filter="url(#nb)"/>
<ellipse cx="1255.7" cy="1275.0" rx="2.7" ry="1.5" fill="#f0608c" opacity="0.79" filter="url(#nb)"/>
<ellipse cx="1251.8" cy="1278.3" rx="2.2" ry="2.0" fill="#f0608c" opacity="0.67" filter="url(#nb)"/>
<ellipse cx="1247.9" cy="1267.9" rx="2.1" ry="2.5" fill="#f0608c" opacity="0.52" filter="url(#nb)"/>
<ellipse cx="1250.6" cy="1280.8" rx="2.1" ry="2.4" fill="#f0608c" opacity="0.62" filter="url(#nb)"/>
<ellipse cx="1262.5" cy="1269.7" rx="2.4" ry="1.9" fill="#f0608c" opacity="0.55" filter="url(#nb)"/>
<ellipse cx="1248.2" cy="1274.6" rx="2.4" ry="2.5" fill="#f0608c" opacity="0.56" filter="url(#nb)"/>
<ellipse cx="1238.1" cy="1281.7" rx="2.4" ry="1.5" fill="#f0608c" opacity="0.71" filter="url(#nb)"/>
<ellipse cx="1256.4" cy="1279.6" rx="2.9" ry="1.8" fill="#f0608c" opacity="0.74" filter="url(#nb)"/>
<ellipse cx="1253.7" cy="1331.0" rx="3.2" ry="2.1" fill="#f0608c" opacity="0.60" filter="url(#nb)"/>
<ellipse cx="1262.9" cy="1325.7" rx="2.5" ry="1.6" fill="#f0608c" opacity="0.57" filter="url(#nb)"/>
<ellipse cx="1261.5" cy="1298.6" rx="2.4" ry="2.5" fill="#f0608c" opacity="0.70" filter="url(#nb)"/>
<ellipse cx="1251.2" cy="1303.3" rx="2.6" ry="2.2" fill="#f0608c" opacity="0.55" filter="url(#nb)"/>
<ellipse cx="1257.5" cy="1336.1" rx="2.7" ry="2.1" fill="#f0608c" opacity="0.47" filter="url(#nb)"/>
<ellipse cx="1256.5" cy="1299.0" rx="3.1" ry="2.1" fill="#f0608c" opacity="0.66" filter="url(#nb)"/>
<ellipse cx="1261.6" cy="1299.6" rx="2.9" ry="2.3" fill="#f0608c" opacity="0.48" filter="url(#nb)"/>
<ellipse cx="1267.3" cy="1331.3" rx="3.2" ry="1.6" fill="#f0608c" opacity="0.77" filter="url(#nb)"/>
<ellipse cx="1264.0" cy="1307.9" rx="1.9" ry="2.2" fill="#f0608c" opacity="0.47" filter="url(#nb)"/>
<ellipse cx="1258.3" cy="1329.0" rx="2.4" ry="1.9" fill="#f0608c" opacity="0.60" filter="url(#nb)"/>
<ellipse cx="1247.6" cy="1300.5" rx="2.6" ry="2.4" fill="#f0608c" opacity="0.80" filter="url(#nb)"/>
<ellipse cx="1247.3" cy="1309.7" rx="2.9" ry="1.8" fill="#f0608c" opacity="0.72" filter="url(#nb)"/>
<ellipse cx="1268.0" cy="1331.0" rx="2.7" ry="2.3" fill="#f0608c" opacity="0.75" filter="url(#nb)"/>
<ellipse cx="1248.2" cy="1311.0" rx="2.8" ry="2.0" fill="#f0608c" opacity="0.72" filter="url(#nb)"/>
</g>
<clipPath id="cp3"><rect x="1418.00" y="1102.30" width="438.40" height="335.30"/></clipPath>
<g clip-path="url(#cp3)">
<rect x="1418.00" y="1102.30" width="438.40" height="335.30" fill="#e7b3d2" filter="url(#tex2)"/>
<g filter="url(#nb)">
<circle cx="1456.3" cy="1238.4" r="3.2" fill="#7d5a9c" opacity="0.50"/><circle cx="1419.4" cy="1133.6" r="3.5" fill="#6f4f94" opacity="0.61"/><circle cx="1679.6" cy="1213.9" r="4.0" fill="#7d5a9c" opacity="0.63"/><circle cx="1591.6" cy="1135.9" r="3.9" fill="#6f4f94" opacity="0.56"/><circle cx="1804.9" cy="1326.2" r="3.2" fill="#8c6cab" opacity="0.64"/><circle cx="1628.4" cy="1280.7" r="3.2" fill="#6f4f94" opacity="0.69"/><circle cx="1496.5" cy="1298.7" r="3.4" fill="#6f4f94" opacity="0.45"/><circle cx="1746.7" cy="1163.9" r="3.6" fill="#8c6cab" opacity="0.71"/><circle cx="1479.9" cy="1272.0" r="3.2" fill="#32245a" opacity="0.61"/><circle cx="1476.1" cy="1239.2" r="4.4" fill="#5f4488" opacity="0.48"/><circle cx="1566.9" cy="1376.0" r="3.5" fill="#32245a" opacity="0.48"/><circle cx="1657.4" cy="1172.1" r="4.2" fill="#4b3577" opacity="0.70"/><circle cx="1441.0" cy="1133.9" r="4.4" fill="#8c6cab" opacity="0.71"/><circle cx="1852.1" cy="1357.8" r="4.4" fill="#6f4f94" opacity="0.65"/><circle cx="1682.0" cy="1285.8" r="4.0" fill="#32245a" opacity="0.56"/><circle cx="1791.2" cy="1139.3" r="4.4" fill="#4b3577" opacity="0.47"/><circle cx="1759.7" cy="1380.5" r="4.3" fill="#6f4f94" opacity="0.59"/><circle cx="1547.8" cy="1347.3" r="3.1" fill="#32245a" opacity="0.57"/><circle cx="1558.5" cy="1324.6" r="3.3" fill="#4b3577" opacity="0.56"/><circle cx="1528.4" cy="1168.3" r="3.0" fill="#6f4f94" opacity="0.63"/><circle cx="1849.7" cy="1173.3" r="3.9" fill="#6f4f94" opacity="0.42"/><circle cx="1523.1" cy="1188.9" r="3.4" fill="#4b3577" opacity="0.75"/><circle cx="1639.9" cy="1168.4" r="3.5" fill="#6f4f94" opacity="0.42"/><circle cx="1436.8" cy="1221.1" r="4.6" fill="#4b3577" opacity="0.70"/><circle cx="1618.5" cy="1106.1" r="3.9" fill="#8c6cab" opacity="0.56"/><circle cx="1850.2" cy="1140.4" r="3.6" fill="#5f4488" opacity="0.40"/><circle cx="1643.3" cy="1426.2" r="4.6" fill="#8c6cab" opacity="0.58"/><circle cx="1765.4" cy="1400.2" r="4.6" fill="#6f4f94" opacity="0.52"/><circle cx="1832.9" cy="1328.8" r="3.8" fill="#7d5a9c" opacity="0.63"/><circle cx="1659.7" cy="1293.0" r="3.6" fill="#6f4f94" opacity="0.56"/><circle cx="1541.9" cy="1417.1" r="4.1" fill="#32245a" opacity="0.42"/><circle cx="1623.3" cy="1340.8" r="3.3" fill="#6f4f94" opacity="0.74"/><circle cx="1659.8" cy="1431.2" r="4.1" fill="#6f4f94" opacity="0.72"/><circle cx="1606.1" cy="1187.2" r="3.8" fill="#5f4488" opacity="0.61"/><circle cx="1597.0" cy="1431.1" r="3.3" fill="#5f4488" opacity="0.65"/><circle cx="1517.4" cy="1239.9" r="3.9" fill="#6f4f94" opacity="0.41"/><circle cx="1722.2" cy="1186.6" r="4.6" fill="#6f4f94" opacity="0.73"/><circle cx="1624.5" cy="1172.5" r="3.9" fill="#7d5a9c" opacity="0.74"/><circle cx="1775.7" cy="1134.4" r="3.1" fill="#7d5a9c" opacity="0.61"/><circle cx="1751.2" cy="1368.1" r="3.1" fill="#8c6cab" opacity="0.63"/><circle cx="1825.6" cy="1246.7" r="3.9" fill="#5f4488" opacity="0.64"/><circle cx="1466.1" cy="1274.8" r="3.1" fill="#7d5a9c" opacity="0.63"/><circle cx="1746.0" cy="1258.6" r="3.8" fill="#4b3577" opacity="0.74"/><circle cx="1715.7" cy="1259.9" r="3.4" fill="#5f4488" opacity="0.70"/><circle cx="1648.1" cy="1408.5" r="4.0" fill="#6f4f94" opacity="0.53"/><circle cx="1588.6" cy="1278.4" r="3.8" fill="#5f4488" opacity="0.60"/><circle cx="1818.8" cy="1224.4" r="3.4" fill="#6f4f94" opacity="0.44"/><circle cx="1613.7" cy="1225.7" r="3.4" fill="#8c6cab" opacity="0.49"/><circle cx="1642.7" cy="1152.6" r="3.9" fill="#6f4f94" opacity="0.46"/><circle cx="1814.3" cy="1336.8" r="4.6" fill="#4b3577" opacity="0.47"/><circle cx="1424.4" cy="1204.7" r="3.4" fill="#6f4f94" opacity="0.71"/><circle cx="1728.5" cy="1399.5" r="4.3" fill="#5f4488" opacity="0.62"/><circle cx="1674.7" cy="1128.3" r="3.9" fill="#6f4f94" opacity="0.50"/><circle cx="1649.2" cy="1113.9" r="4.1" fill="#7d5a9c" opacity="0.72"/><circle cx="1480.2" cy="1186.0" r="3.1" fill="#6f4f94" opacity="0.69"/><circle cx="1693.8" cy="1214.6" r="3.2" fill="#6f4f94" opacity="0.43"/><circle cx="1737.2" cy="1184.7" r="3.2" fill="#32245a" opacity="0.72"/><circle cx="1765.0" cy="1103.8" r="3.1" fill="#6f4f94" opacity="0.66"/><circle cx="1636.2" cy="1107.1" r="3.3" fill="#5f4488" opacity="0.48"/><circle cx="1815.6" cy="1374.4" r="3.6" fill="#32245a" opacity="0.53"/><circle cx="1590.9" cy="1108.0" r="4.1" fill="#6f4f94" opacity="0.47"/><circle cx="1479.9" cy="1423.6" r="4.5" fill="#8c6cab" opacity="0.67"/><circle cx="1630.1" cy="1388.1" r="3.3" fill="#7d5a9c" opacity="0.54"/><circle cx="1816.5" cy="1190.2" r="4.4" fill="#32245a" opacity="0.42"/><circle cx="1716.5" cy="1281.8" r="3.7" fill="#6f4f94" opacity="0.40"/><circle cx="1731.7" cy="1272.7" r="4.0" fill="#4b3577" opacity="0.58"/><circle cx="1596.4" cy="1239.7" r="3.9" fill="#5f4488" opacity="0.62"/><circle cx="1613.5" cy="1328.9" r="3.2" fill="#32245a" opacity="0.50"/><circle cx="1690.4" cy="1355.6" r="4.0" fill="#7d5a9c" opacity="0.60"/><circle cx="1771.3" cy="1155.8" r="3.7" fill="#4b3577" opacity="0.64"/><circle cx="1746.7" cy="1300.8" r="3.9" fill="#8c6cab" opacity="0.61"/><circle cx="1622.2" cy="1364.1" r="4.2" fill="#4b3577" opacity="0.63"/><circle cx="1849.6" cy="1299.6" r="4.3" fill="#5f4488" opacity="0.53"/><circle cx="1678.5" cy="1176.0" r="4.5" fill="#7d5a9c" opacity="0.71"/><circle cx="1799.6" cy="1153.9" r="3.8" fill="#7d5a9c" opacity="0.62"/><circle cx="1485.6" cy="1154.4" r="4.5" fill="#5f4488" opacity="0.61"/><circle cx="1523.6" cy="1265.1" r="4.6" fill="#7d5a9c" opacity="0.52"/><circle cx="1640.2" cy="1184.4" r="4.6" fill="#7d5a9c" opacity="0.72"/><circle cx="1463.4" cy="1289.0" r="4.5" fill="#6f4f94" opacity="0.63"/><circle cx="1493.5" cy="1191.8" r="4.4" fill="#7d5a9c" opacity="0.42"/><circle cx="1825.7" cy="1437.3" r="3.8" fill="#7d5a9c" opacity="0.43"/><circle cx="1424.1" cy="1383.7" r="4.8" fill="#7d5a9c" opacity="0.47"/><circle cx="1715.1" cy="1429.4" r="3.0" fill="#5f4488" opacity="0.73"/><circle cx="1722.3" cy="1207.0" r="4.0" fill="#5f4488" opacity="0.50"/><circle cx="1663.4" cy="1378.8" r="3.5" fill="#6f4f94" opacity="0.61"/><circle cx="1702.8" cy="1295.2" r="4.7" fill="#6f4f94" opacity="0.52"/><circle cx="1799.2" cy="1242.9" r="3.2" fill="#6f4f94" opacity="0.48"/><circle cx="1659.9" cy="1206.1" r="3.5" fill="#4b3577" opacity="0.63"/><circle cx="1766.8" cy="1260.8" r="3.2" fill="#8c6cab" opacity="0.63"/><circle cx="1701.6" cy="1378.1" r="4.7" fill="#8c6cab" opacity="0.66"/><circle cx="1718.8" cy="1133.9" r="3.1" fill="#7d5a9c" opacity="0.52"/><circle cx="1752.7" cy="1273.2" r="3.2" fill="#6f4f94" opacity="0.49"/><circle cx="1837.8" cy="1287.4" r="4.6" fill="#8c6cab" opacity="0.75"/><circle cx="1668.2" cy="1344.6" r="3.4" fill="#6f4f94" opacity="0.49"/><circle cx="1543.0" cy="1175.4" r="4.7" fill="#7d5a9c" opacity="0.58"/><circle cx="1780.4" cy="1317.5" r="3.6" fill="#5f4488" opacity="0.71"/><circle cx="1467.0" cy="1334.1" r="3.9" fill="#5f4488" opacity="0.51"/><circle cx="1852.7" cy="1116.2" r="4.1" fill="#4b3577" opacity="0.55"/><circle cx="1762.5" cy="1231.9" r="4.5" fill="#4b3577" opacity="0.45"/><circle cx="1694.3" cy="1128.0" r="3.9" fill="#5f4488" opacity="0.66"/><circle cx="1764.6" cy="1323.3" r="4.6" fill="#6f4f94" opacity="0.40"/><circle cx="1497.6" cy="1252.7" r="4.1" fill="#8c6cab" opacity="0.49"/><circle cx="1798.5" cy="1299.5" r="3.9" fill="#8c6cab" opacity="0.65"/><circle cx="1577.5" cy="1173.2" r="4.4" fill="#7d5a9c" opacity="0.59"/><circle cx="1841.8" cy="1107.0" r="3.8" fill="#8c6cab" opacity="0.71"/><circle cx="1847.4" cy="1321.1" r="3.4" fill="#6f4f94" opacity="0.48"/><circle cx="1558.3" cy="1186.0" r="4.0" fill="#6f4f94" opacity="0.68"/><circle cx="1567.7" cy="1308.9" r="4.6" fill="#6f4f94" opacity="0.53"/><circle cx="1457.9" cy="1136.1" r="4.0" fill="#6f4f94" opacity="0.46"/><circle cx="1626.4" cy="1206.8" r="4.3" fill="#4b3577" opacity="0.61"/><circle cx="1527.2" cy="1312.9" r="3.4" fill="#6f4f94" opacity="0.59"/><circle cx="1530.4" cy="1405.9" r="3.5" fill="#7d5a9c" opacity="0.47"/><circle cx="1814.7" cy="1138.2" r="3.5" fill="#7d5a9c" opacity="0.55"/><circle cx="1625.0" cy="1303.5" r="4.3" fill="#5f4488" opacity="0.43"/><circle cx="1430.1" cy="1173.4" r="3.8" fill="#32245a" opacity="0.69"/><circle cx="1462.8" cy="1155.0" r="3.2" fill="#4b3577" opacity="0.55"/><circle cx="1569.9" cy="1268.1" r="4.5" fill="#5f4488" opacity="0.54"/><circle cx="1505.2" cy="1159.6" r="4.7" fill="#6f4f94" opacity="0.60"/><circle cx="1600.2" cy="1256.4" r="4.5" fill="#8c6cab" opacity="0.58"/><circle cx="1611.5" cy="1382.3" r="3.8" fill="#6f4f94" opacity="0.64"/><circle cx="1676.5" cy="1372.8" r="4.4" fill="#7d5a9c" opacity="0.66"/><circle cx="1731.5" cy="1340.4" r="4.3" fill="#5f4488" opacity="0.73"/><circle cx="1663.9" cy="1309.0" r="3.4" fill="#32245a" opacity="0.52"/><circle cx="1432.9" cy="1395.0" r="4.7" fill="#7d5a9c" opacity="0.50"/><circle cx="1424.2" cy="1249.7" r="4.2" fill="#6f4f94" opacity="0.66"/><circle cx="1565.1" cy="1290.3" r="3.9" fill="#8c6cab" opacity="0.50"/><circle cx="1560.5" cy="1150.2" r="3.2" fill="#8c6cab" opacity="0.52"/><circle cx="1537.4" cy="1254.9" r="3.4" fill="#7d5a9c" opacity="0.48"/><circle cx="1745.2" cy="1286.7" r="3.4" fill="#8c6cab" opacity="0.61"/><circle cx="1840.2" cy="1343.3" r="3.3" fill="#7d5a9c" opacity="0.51"/><circle cx="1815.1" cy="1309.7" r="3.4" fill="#6f4f94" opacity="0.42"/><circle cx="1508.9" cy="1266.1" r="4.6" fill="#32245a" opacity="0.66"/><circle cx="1648.5" cy="1337.1" r="3.6" fill="#32245a" opacity="0.54"/><circle cx="1831.9" cy="1208.9" r="4.6" fill="#7d5a9c" opacity="0.54"/><circle cx="1793.0" cy="1181.7" r="3.2" fill="#6f4f94" opacity="0.62"/><circle cx="1470.5" cy="1377.0" r="3.3" fill="#6f4f94" opacity="0.49"/><circle cx="1750.1" cy="1115.9" r="3.3" fill="#8c6cab" opacity="0.51"/><circle cx="1729.7" cy="1144.0" r="3.8" fill="#6f4f94" opacity="0.62"/><circle cx="1574.0" cy="1402.3" r="3.7" fill="#6f4f94" opacity="0.71"/><circle cx="1515.3" cy="1332.4" r="4.8" fill="#6f4f94" opacity="0.74"/><circle cx="1536.0" cy="1221.4" r="4.6" fill="#32245a" opacity="0.61"/><circle cx="1691.1" cy="1149.6" r="4.0" fill="#6f4f94" opacity="0.75"/><circle cx="1790.9" cy="1230.6" r="4.7" fill="#7d5a9c" opacity="0.53"/><circle cx="1805.3" cy="1286.9" r="3.2" fill="#7d5a9c" opacity="0.57"/><circle cx="1744.8" cy="1416.0" r="4.3" fill="#6f4f94" opacity="0.62"/><circle cx="1697.8" cy="1334.6" r="4.7" fill="#32245a" opacity="0.42"/><circle cx="1828.9" cy="1398.2" r="4.5" fill="#6f4f94" opacity="0.57"/><circle cx="1519.6" cy="1379.4" r="3.6" fill="#6f4f94" opacity="0.64"/><circle cx="1797.3" cy="1362.1" r="4.4" fill="#6f4f94" opacity="0.53"/><circle cx="1430.7" cy="1433.4" r="3.1" fill="#32245a" opacity="0.57"/><circle cx="1567.6" cy="1132.9" r="3.1" fill="#6f4f94" opacity="0.50"/><circle cx="1782.5" cy="1111.5" r="4.1" fill="#5f4488" opacity="0.60"/><circle cx="1825.9" cy="1170.5" r="3.2" fill="#4b3577" opacity="0.58"/><circle cx="1778.5" cy="1270.3" r="3.9" fill="#7d5a9c" opacity="0.41"/><circle cx="1713.1" cy="1161.8" r="3.4" fill="#6f4f94" opacity="0.55"/><circle cx="1542.4" cy="1290.1" r="3.1" fill="#7d5a9c" opacity="0.49"/><circle cx="1676.5" cy="1160.9" r="3.5" fill="#7d5a9c" opacity="0.69"/><circle cx="1583.1" cy="1325.2" r="3.7" fill="#5f4488" opacity="0.57"/><circle cx="1558.5" cy="1414.3" r="4.2" fill="#5f4488" opacity="0.58"/><circle cx="1751.1" cy="1213.1" r="3.9" fill="#6f4f94" opacity="0.49"/><circle cx="1791.4" cy="1342.2" r="3.7" fill="#32245a" opacity="0.57"/><circle cx="1783.1" cy="1427.0" r="3.7" fill="#8c6cab" opacity="0.67"/><circle cx="1489.7" cy="1315.6" r="4.7" fill="#6f4f94" opacity="0.42"/><circle cx="1793.6" cy="1404.9" r="4.2" fill="#7d5a9c" opacity="0.48"/><circle cx="1566.9" cy="1241.9" r="3.8" fill="#6f4f94" opacity="0.66"/><circle cx="1695.6" cy="1240.7" r="3.4" fill="#6f4f94" opacity="0.51"/><circle cx="1533.2" cy="1359.2" r="4.2" fill="#6f4f94" opacity="0.49"/><circle cx="1766.1" cy="1201.3" r="4.4" fill="#4b3577" opacity="0.53"/><circle cx="1435.2" cy="1307.9" r="4.7" fill="#7d5a9c" opacity="0.55"/><circle cx="1695.1" cy="1414.0" r="3.8" fill="#6f4f94" opacity="0.72"/><circle cx="1454.3" cy="1394.1" r="4.4" fill="#6f4f94" opacity="0.43"/><circle cx="1724.8" cy="1294.5" r="3.5" fill="#7d5a9c" opacity="0.71"/><circle cx="1665.5" cy="1402.9" r="4.5" fill="#5f4488" opacity="0.72"/><circle cx="1691.9" cy="1393.4" r="3.4" fill="#5f4488" opacity="0.72"/><circle cx="1782.6" cy="1355.6" r="4.4" fill="#7d5a9c" opacity="0.41"/><circle cx="1437.7" cy="1115.0" r="4.0" fill="#4b3577" opacity="0.58"/><circle cx="1717.7" cy="1369.8" r="4.3" fill="#5f4488" opacity="0.42"/><circle cx="1835.4" cy="1125.6" r="3.7" fill="#6f4f94" opacity="0.69"/><circle cx="1583.0" cy="1424.4" r="3.1" fill="#6f4f94" opacity="0.62"/><circle cx="1543.6" cy="1386.2" r="3.6" fill="#7d5a9c" opacity="0.63"/><circle cx="1512.5" cy="1420.8" r="4.7" fill="#6f4f94" opacity="0.55"/><circle cx="1807.0" cy="1386.7" r="4.2" fill="#6f4f94" opacity="0.63"/><circle cx="1820.9" cy="1355.7" r="3.7" fill="#6f4f94" opacity="0.58"/><circle cx="1641.2" cy="1311.9" r="4.3" fill="#8c6cab" opacity="0.68"/><circle cx="1790.1" cy="1285.3" r="4.3" fill="#7d5a9c" opacity="0.42"/><circle cx="1476.6" cy="1359.8" r="3.7" fill="#5f4488" opacity="0.48"/><circle cx="1568.3" cy="1108.5" r="3.2" fill="#6f4f94" opacity="0.59"/><circle cx="1648.4" cy="1220.6" r="3.8" fill="#32245a" opacity="0.67"/><circle cx="1582.4" cy="1211.3" r="3.7" fill="#7d5a9c" opacity="0.50"/><circle cx="1849.6" cy="1249.0" r="4.4" fill="#7d5a9c" opacity="0.62"/><circle cx="1480.9" cy="1140.5" r="4.4" fill="#6f4f94" opacity="0.66"/><circle cx="1660.7" cy="1102.3" r="3.1" fill="#7d5a9c" opacity="0.59"/><circle cx="1444.2" cy="1161.0" r="4.5" fill="#8c6cab" opacity="0.44"/><circle cx="1465.4" cy="1179.1" r="4.4" fill="#32245a" opacity="0.49"/><circle cx="1538.4" cy="1238.0" r="3.6" fill="#6f4f94" opacity="0.74"/><circle cx="1565.0" cy="1342.1" r="4.6" fill="#6f4f94" opacity="0.58"/><circle cx="1693.9" cy="1168.4" r="3.6" fill="#6f4f94" opacity="0.41"/><circle cx="1560.0" cy="1220.5" r="3.8" fill="#8c6cab" opacity="0.72"/><circle cx="1837.6" cy="1427.0" r="3.7" fill="#7d5a9c" opacity="0.64"/><circle cx="1801.2" cy="1113.7" r="3.6" fill="#8c6cab" opacity="0.59"/><circle cx="1853.6" cy="1374.2" r="4.3" fill="#8c6cab" opacity="0.52"/><circle cx="1738.8" cy="1204.4" r="4.4" fill="#32245a" opacity="0.57"/><circle cx="1851.3" cy="1276.0" r="3.0" fill="#7d5a9c" opacity="0.58"/><circle cx="1769.9" cy="1414.2" r="4.6" fill="#7d5a9c" opacity="0.46"/><circle cx="1826.7" cy="1383.5" r="4.3" fill="#8c6cab" opacity="0.46"/><circle cx="1684.7" cy="1269.9" r="4.3" fill="#8c6cab" opacity="0.57"/><circle cx="1705.8" cy="1270.6" r="4.1" fill="#32245a" opacity="0.50"/><circle cx="1560.4" cy="1432.2" r="3.6" fill="#7d5a9c" opacity="0.45"/><circle cx="1733.1" cy="1122.9" r="4.6" fill="#6f4f94" opacity="0.58"/><circle cx="1587.4" cy="1226.8" r="3.3" fill="#4b3577" opacity="0.69"/><circle cx="1666.8" cy="1326.1" r="3.4" fill="#7d5a9c" opacity="0.66"/><circle cx="1752.4" cy="1148.2" r="3.3" fill="#6f4f94" opacity="0.74"/><circle cx="1421.0" cy="1285.1" r="3.6" fill="#4b3577" opacity="0.60"/><circle cx="1592.5" cy="1410.1" r="3.9" fill="#6f4f94" opacity="0.44"/><circle cx="1851.0" cy="1232.6" r="4.8" fill="#7d5a9c" opacity="0.44"/><circle cx="1465.4" cy="1255.4" r="4.2" fill="#5f4488" opacity="0.47"/><circle cx="1550.6" cy="1398.5" r="3.3" fill="#6f4f94" opacity="0.58"/><circle cx="1773.3" cy="1384.4" r="3.8" fill="#6f4f94" opacity="0.48"/><circle cx="1508.2" cy="1316.9" r="4.3" fill="#4b3577" opacity="0.64"/><circle cx="1622.3" cy="1140.6" r="3.0" fill="#6f4f94" opacity="0.61"/><circle cx="1650.7" cy="1128.2" r="3.1" fill="#7d5a9c" opacity="0.56"/><circle cx="1730.5" cy="1232.9" r="4.6" fill="#8c6cab" opacity="0.66"/><circle cx="1638.7" cy="1348.9" r="3.1" fill="#4b3577" opacity="0.71"/><circle cx="1573.2" cy="1189.6" r="3.7" fill="#32245a" opacity="0.68"/><circle cx="1452.1" cy="1188.6" r="3.9" fill="#5f4488" opacity="0.56"/><circle cx="1484.7" cy="1405.5" r="4.5" fill="#32245a" opacity="0.46"/><circle cx="1469.1" cy="1118.6" r="3.2" fill="#32245a" opacity="0.42"/><circle cx="1420.4" cy="1348.5" r="3.7" fill="#8c6cab" opacity="0.57"/><circle cx="1605.4" cy="1312.3" r="3.7" fill="#7d5a9c" opacity="0.47"/><circle cx="1776.3" cy="1368.4" r="4.4" fill="#8c6cab" opacity="0.64"/><circle cx="1455.9" cy="1157.8" r="2.0" fill="#3b2a72" opacity="0.86"/><circle cx="1551.4" cy="1368.2" r="1.4" fill="#3b2a72" opacity="0.80"/><circle cx="1721.1" cy="1350.4" r="1.3" fill="#3b2a72" opacity="0.80"/><circle cx="1632.9" cy="1265.1" r="1.9" fill="#3b2a72" opacity="0.93"/><circle cx="1435.2" cy="1418.1" r="1.8" fill="#3b2a72" opacity="0.62"/><circle cx="1853.7" cy="1211.8" r="1.6" fill="#3b2a72" opacity="0.76"/><circle cx="1602.6" cy="1425.5" r="1.5" fill="#3b2a72" opacity="0.71"/><circle cx="1637.4" cy="1319.7" r="1.8" fill="#3b2a72" opacity="0.77"/><circle cx="1809.8" cy="1421.8" r="1.2" fill="#3b2a72" opacity="0.81"/><circle cx="1487.5" cy="1122.3" r="1.3" fill="#3b2a72" opacity="0.80"/><circle cx="1459.7" cy="1234.8" r="1.3" fill="#3b2a72" opacity="0.81"/><circle cx="1427.8" cy="1419.4" r="1.7" fill="#3b2a72" opacity="0.71"/><circle cx="1666.9" cy="1216.1" r="1.7" fill="#3b2a72" opacity="0.85"/><circle cx="1446.9" cy="1393.4" r="1.7" fill="#3b2a72" opacity="0.74"/><circle cx="1836.7" cy="1360.9" r="1.3" fill="#3b2a72" opacity="0.70"/><circle cx="1759.3" cy="1313.3" r="1.7" fill="#3b2a72" opacity="0.65"/><circle cx="1764.6" cy="1354.1" r="2.0" fill="#3b2a72" opacity="0.80"/><circle cx="1825.6" cy="1342.8" r="1.6" fill="#3b2a72" opacity="0.90"/><circle cx="1454.4" cy="1387.7" r="1.7" fill="#3b2a72" opacity="0.89"/><circle cx="1749.2" cy="1222.5" r="1.9" fill="#3b2a72" opacity="0.80"/><circle cx="1769.5" cy="1420.9" r="1.8" fill="#3b2a72" opacity="0.77"/><circle cx="1465.9" cy="1260.0" r="1.7" fill="#3b2a72" opacity="0.64"/><circle cx="1744.0" cy="1316.9" r="1.7" fill="#3b2a72" opacity="0.85"/><circle cx="1599.2" cy="1383.6" r="1.4" fill="#3b2a72" opacity="0.90"/><circle cx="1551.6" cy="1303.2" r="1.6" fill="#3b2a72" opacity="0.72"/><circle cx="1581.3" cy="1264.7" r="1.3" fill="#3b2a72" opacity="0.90"/><circle cx="1690.5" cy="1143.6" r="1.8" fill="#3b2a72" opacity="0.81"/><circle cx="1491.8" cy="1208.4" r="1.6" fill="#3b2a72" opacity="0.88"/><circle cx="1460.8" cy="1368.5" r="1.9" fill="#3b2a72" opacity="0.80"/><circle cx="1788.6" cy="1424.7" r="1.8" fill="#3b2a72" opacity="0.73"/><circle cx="1487.7" cy="1378.8" r="2.0" fill="#3b2a72" opacity="0.74"/><circle cx="1820.6" cy="1258.5" r="1.4" fill="#3b2a72" opacity="0.95"/><circle cx="1800.5" cy="1102.8" r="1.7" fill="#3b2a72" opacity="0.62"/><circle cx="1591.1" cy="1429.6" r="1.9" fill="#3b2a72" opacity="0.93"/><circle cx="1432.5" cy="1116.1" r="1.7" fill="#3b2a72" opacity="0.61"/><circle cx="1458.1" cy="1218.5" r="1.9" fill="#3b2a72" opacity="0.65"/><circle cx="1698.5" cy="1430.2" r="1.6" fill="#3b2a72" opacity="0.76"/><circle cx="1745.0" cy="1344.2" r="1.6" fill="#3b2a72" opacity="0.73"/><circle cx="1619.6" cy="1155.9" r="1.6" fill="#3b2a72" opacity="0.90"/><circle cx="1734.3" cy="1201.1" r="2.0" fill="#3b2a72" opacity="0.86"/><circle cx="1723.5" cy="1250.1" r="1.3" fill="#3b2a72" opacity="0.84"/><circle cx="1568.8" cy="1294.5" r="1.6" fill="#3b2a72" opacity="0.72"/><circle cx="1421.0" cy="1339.7" r="1.2" fill="#3b2a72" opacity="0.89"/><circle cx="1800.7" cy="1173.3" r="2.0" fill="#3b2a72" opacity="0.68"/><circle cx="1678.6" cy="1244.8" r="1.9" fill="#3b2a72" opacity="0.87"/><circle cx="1639.1" cy="1353.6" r="1.5" fill="#3b2a72" opacity="0.65"/><circle cx="1646.0" cy="1131.5" r="1.7" fill="#3b2a72" opacity="0.78"/><circle cx="1512.3" cy="1306.9" r="1.5" fill="#3b2a72" opacity="0.89"/><circle cx="1568.6" cy="1312.7" r="1.9" fill="#3b2a72" opacity="0.71"/><circle cx="1807.6" cy="1151.8" r="1.3" fill="#3b2a72" opacity="0.81"/><circle cx="1629.1" cy="1137.2" r="1.3" fill="#3b2a72" opacity="0.83"/><circle cx="1695.6" cy="1298.3" r="1.8" fill="#3b2a72" opacity="0.68"/><circle cx="1668.9" cy="1269.2" r="1.2" fill="#3b2a72" opacity="0.86"/><circle cx="1634.2" cy="1125.1" r="1.6" fill="#3b2a72" opacity="0.76"/><circle cx="1759.5" cy="1267.1" r="1.3" fill="#3b2a72" opacity="0.90"/><circle cx="1684.6" cy="1241.4" r="2.0" fill="#3b2a72" opacity="0.62"/><circle cx="1576.0" cy="1219.8" r="1.3" fill="#3b2a72" opacity="0.79"/><circle cx="1423.2" cy="1205.4" r="1.4" fill="#3b2a72" opacity="0.83"/><circle cx="1590.2" cy="1365.0" r="1.4" fill="#3b2a72" opacity="0.68"/><circle cx="1752.7" cy="1420.1" r="1.4" fill="#3b2a72" opacity="0.92"/><circle cx="1561.5" cy="1174.7" r="1.9" fill="#3b2a72" opacity="0.84"/><circle cx="1691.8" cy="1249.2" r="2.0" fill="#3b2a72" opacity="0.73"/><circle cx="1715.7" cy="1304.8" r="1.5" fill="#3b2a72" opacity="0.84"/><circle cx="1704.8" cy="1358.6" r="1.4" fill="#3b2a72" opacity="0.67"/><circle cx="1453.2" cy="1177.8" r="1.7" fill="#3b2a72" opacity="0.65"/><circle cx="1587.2" cy="1408.2" r="1.4" fill="#3b2a72" opacity="0.91"/><circle cx="1701.6" cy="1218.7" r="1.6" fill="#3b2a72" opacity="0.64"/><circle cx="1420.6" cy="1210.7" r="1.5" fill="#3b2a72" opacity="0.73"/><circle cx="1620.3" cy="1139.4" r="1.7" fill="#3b2a72" opacity="0.77"/><circle cx="1548.5" cy="1301.5" r="1.3" fill="#3b2a72" opacity="0.62"/><circle cx="1762.6" cy="1119.2" r="1.3" fill="#3b2a72" opacity="0.75"/><circle cx="1820.6" cy="1377.4" r="1.3" fill="#3b2a72" opacity="0.92"/><circle cx="1828.9" cy="1298.4" r="1.3" fill="#3b2a72" opacity="0.73"/><circle cx="1654.7" cy="1149.1" r="2.0" fill="#3b2a72" opacity="0.69"/><circle cx="1505.2" cy="1350.1" r="1.5" fill="#3b2a72" opacity="0.89"/><circle cx="1777.5" cy="1131.7" r="1.5" fill="#3b2a72" opacity="0.64"/><circle cx="1520.0" cy="1340.1" r="1.8" fill="#3b2a72" opacity="0.63"/><circle cx="1765.3" cy="1168.3" r="1.9" fill="#3b2a72" opacity="0.78"/><circle cx="1621.4" cy="1383.8" r="1.7" fill="#3b2a72" opacity="0.77"/><circle cx="1598.8" cy="1371.3" r="1.7" fill="#3b2a72" opacity="0.69"/><circle cx="1741.1" cy="1309.9" r="1.4" fill="#3b2a72" opacity="0.83"/><circle cx="1766.2" cy="1109.2" r="2.0" fill="#3b2a72" opacity="0.67"/><circle cx="1430.7" cy="1203.3" r="1.8" fill="#3b2a72" opacity="0.72"/><circle cx="1515.5" cy="1336.4" r="1.8" fill="#3b2a72" opacity="0.72"/><circle cx="1855.9" cy="1374.7" r="1.5" fill="#3b2a72" opacity="0.68"/><circle cx="1820.0" cy="1114.1" r="1.3" fill="#3b2a72" opacity="0.94"/><circle cx="1621.7" cy="1148.1" r="1.9" fill="#3b2a72" opacity="0.74"/><circle cx="1603.0" cy="1223.5" r="1.6" fill="#3b2a72" opacity="0.87"/><circle cx="1527.9" cy="1298.5" r="1.3" fill="#3b2a72" opacity="0.68"/><circle cx="1567.3" cy="1420.9" r="1.3" fill="#3b2a72" opacity="0.95"/><circle cx="1478.8" cy="1218.1" r="1.8" fill="#3b2a72" opacity="0.64"/><circle cx="1821.1" cy="1407.2" r="1.5" fill="#3b2a72" opacity="0.80"/><circle cx="1774.9" cy="1331.2" r="1.8" fill="#3b2a72" opacity="0.80"/><circle cx="1776.3" cy="1382.9" r="1.4" fill="#3b2a72" opacity="0.83"/><circle cx="1840.9" cy="1198.7" r="1.5" fill="#3b2a72" opacity="0.64"/><circle cx="1618.0" cy="1371.9" r="1.7" fill="#3b2a72" opacity="0.64"/><circle cx="1731.8" cy="1419.4" r="1.5" fill="#3b2a72" opacity="0.77"/><circle cx="1574.1" cy="1282.4" r="2.0" fill="#3b2a72" opacity="0.85"/><circle cx="1509.8" cy="1157.5" r="1.4" fill="#3b2a72" opacity="0.69"/><circle cx="1793.9" cy="1162.7" r="1.7" fill="#3b2a72" opacity="0.90"/><circle cx="1481.8" cy="1272.6" r="1.9" fill="#3b2a72" opacity="0.86"/><circle cx="1677.6" cy="1318.8" r="1.5" fill="#3b2a72" opacity="0.73"/><circle cx="1722.8" cy="1364.4" r="1.9" fill="#3b2a72" opacity="0.76"/><circle cx="1610.9" cy="1419.0" r="2.0" fill="#3b2a72" opacity="0.93"/><circle cx="1849.4" cy="1400.6" r="1.2" fill="#3b2a72" opacity="0.93"/><circle cx="1806.5" cy="1323.9" r="1.4" fill="#3b2a72" opacity="0.73"/><circle cx="1773.0" cy="1353.0" r="1.5" fill="#3b2a72" opacity="0.66"/><circle cx="1768.6" cy="1285.8" r="1.5" fill="#3b2a72" opacity="0.82"/><circle cx="1465.9" cy="1421.5" r="2.0" fill="#3b2a72" opacity="0.94"/><circle cx="1558.9" cy="1272.5" r="1.3" fill="#3b2a72" opacity="0.89"/><circle cx="1553.5" cy="1215.5" r="1.6" fill="#3b2a72" opacity="0.94"/><circle cx="1550.5" cy="1183.7" r="1.6" fill="#3b2a72" opacity="0.62"/><circle cx="1683.2" cy="1238.7" r="1.5" fill="#3b2a72" opacity="0.91"/><circle cx="1738.3" cy="1388.8" r="1.6" fill="#3b2a72" opacity="0.94"/><circle cx="1648.1" cy="1361.2" r="1.6" fill="#3b2a72" opacity="0.64"/><circle cx="1640.9" cy="1278.7" r="1.4" fill="#3b2a72" opacity="0.88"/><circle cx="1824.7" cy="1426.8" r="2.0" fill="#3b2a72" opacity="0.72"/><circle cx="1597.9" cy="1304.6" r="1.6" fill="#3b2a72" opacity="0.63"/><circle cx="1689.8" cy="1163.8" r="2.0" fill="#3b2a72" opacity="0.72"/><circle cx="1560.6" cy="1316.7" r="1.5" fill="#3b2a72" opacity="0.87"/><circle cx="1803.2" cy="1369.1" r="1.6" fill="#3b2a72" opacity="0.81"/><circle cx="1439.3" cy="1299.2" r="1.4" fill="#3b2a72" opacity="0.77"/><circle cx="1670.8" cy="1333.2" r="1.7" fill="#3b2a72" opacity="0.62"/><circle cx="1523.4" cy="1243.3" r="1.2" fill="#3b2a72" opacity="0.64"/><circle cx="1807.4" cy="1214.3" r="1.8" fill="#3b2a72" opacity="0.77"/><circle cx="1691.0" cy="1197.1" r="1.5" fill="#3b2a72" opacity="0.74"/><circle cx="1752.5" cy="1265.6" r="1.4" fill="#3b2a72" opacity="0.67"/><circle cx="1533.6" cy="1335.0" r="1.3" fill="#3b2a72" opacity="0.66"/><circle cx="1551.4" cy="1161.3" r="1.4" fill="#3b2a72" opacity="0.74"/><circle cx="1845.1" cy="1233.4" r="1.7" fill="#3b2a72" opacity="0.67"/><circle cx="1795.5" cy="1216.7" r="1.4" fill="#3b2a72" opacity="0.69"/><circle cx="1580.8" cy="1287.2" r="1.9" fill="#3b2a72" opacity="0.75"/><circle cx="1719.0" cy="1217.3" r="1.6" fill="#3b2a72" opacity="0.71"/><circle cx="1482.6" cy="1305.5" r="1.7" fill="#3b2a72" opacity="0.76"/><circle cx="1741.1" cy="1123.6" r="1.4" fill="#3b2a72" opacity="0.86"/><circle cx="1650.1" cy="1388.3" r="1.4" fill="#3b2a72" opacity="0.91"/><circle cx="1851.9" cy="1355.7" r="1.3" fill="#3b2a72" opacity="0.69"/><circle cx="1770.8" cy="1262.1" r="1.4" fill="#3b2a72" opacity="0.68"/><circle cx="1811.1" cy="1122.8" r="1.7" fill="#3b2a72" opacity="0.81"/><circle cx="1775.1" cy="1154.9" r="1.8" fill="#3b2a72" opacity="0.67"/><circle cx="1685.5" cy="1365.0" r="1.7" fill="#3b2a72" opacity="0.72"/><circle cx="1781.9" cy="1156.6" r="2.0" fill="#3b2a72" opacity="0.93"/><circle cx="1545.3" cy="1278.7" r="1.3" fill="#3b2a72" opacity="0.77"/><circle cx="1676.2" cy="1389.3" r="1.7" fill="#3b2a72" opacity="0.66"/><circle cx="1556.2" cy="1149.1" r="1.7" fill="#3b2a72" opacity="0.91"/><circle cx="1700.0" cy="1179.7" r="2.0" fill="#3b2a72" opacity="0.72"/><circle cx="1705.0" cy="1214.9" r="1.3" fill="#3b2a72" opacity="0.85"/><circle cx="1742.1" cy="1175.4" r="1.6" fill="#3b2a72" opacity="0.64"/><circle cx="1554.9" cy="1247.4" r="1.9" fill="#3b2a72" opacity="0.68"/><circle cx="1521.2" cy="1226.7" r="1.5" fill="#3b2a72" opacity="0.67"/><circle cx="1627.8" cy="1119.3" r="1.8" fill="#3b2a72" opacity="0.78"/><circle cx="1507.4" cy="1288.5" r="1.3" fill="#3b2a72" opacity="0.80"/><circle cx="1685.6" cy="1271.2" r="1.7" fill="#3b2a72" opacity="0.76"/><circle cx="1606.2" cy="1161.3" r="1.3" fill="#3b2a72" opacity="0.74"/><circle cx="1700.7" cy="1217.3" r="1.2" fill="#3b2a72" opacity="0.89"/><circle cx="1502.6" cy="1328.7" r="1.7" fill="#3b2a72" opacity="0.74"/><circle cx="1804.6" cy="1381.9" r="1.4" fill="#3b2a72" opacity="0.70"/><circle cx="1503.6" cy="1205.6" r="1.4" fill="#3b2a72" opacity="0.64"/><circle cx="1736.6" cy="1386.7" r="1.7" fill="#3b2a72" opacity="0.72"/><circle cx="1640.0" cy="1175.2" r="1.7" fill="#3b2a72" opacity="0.76"/><circle cx="1505.1" cy="1396.8" r="1.6" fill="#3b2a72" opacity="0.86"/><circle cx="1736.5" cy="1192.0" r="1.7" fill="#3b2a72" opacity="0.76"/><circle cx="1693.1" cy="1131.7" r="1.7" fill="#3b2a72" opacity="0.77"/><circle cx="1587.3" cy="1114.2" r="1.7" fill="#3b2a72" opacity="0.75"/><circle cx="1453.9" cy="1348.3" r="1.6" fill="#3b2a72" opacity="0.63"/><circle cx="1479.3" cy="1163.9" r="1.6" fill="#3b2a72" opacity="0.76"/><circle cx="1650.3" cy="1300.0" r="1.6" fill="#3b2a72" opacity="0.61"/><circle cx="1764.9" cy="1422.8" r="1.3" fill="#3b2a72" opacity="0.67"/><circle cx="1606.6" cy="1265.6" r="1.8" fill="#3b2a72" opacity="0.66"/><circle cx="1672.8" cy="1293.5" r="1.7" fill="#3b2a72" opacity="0.89"/><circle cx="1588.5" cy="1327.3" r="1.7" fill="#3b2a72" opacity="0.81"/><circle cx="1764.6" cy="1109.5" r="1.6" fill="#3b2a72" opacity="0.61"/><circle cx="1426.8" cy="1198.3" r="1.3" fill="#3b2a72" opacity="0.66"/><circle cx="1540.5" cy="1426.2" r="1.8" fill="#3b2a72" opacity="0.94"/><circle cx="1555.8" cy="1320.9" r="1.9" fill="#3b2a72" opacity="0.69"/><circle cx="1586.2" cy="1357.8" r="1.6" fill="#3b2a72" opacity="0.80"/><circle cx="1465.5" cy="1271.9" r="1.3" fill="#3b2a72" opacity="0.76"/><circle cx="1721.7" cy="1433.4" r="1.9" fill="#3b2a72" opacity="0.90"/><circle cx="1623.4" cy="1259.1" r="1.6" fill="#3b2a72" opacity="0.85"/><circle cx="1702.6" cy="1360.5" r="1.4" fill="#3b2a72" opacity="0.61"/><circle cx="1814.5" cy="1344.8" r="1.3" fill="#3b2a72" opacity="0.90"/><circle cx="1805.2" cy="1368.9" r="1.8" fill="#3b2a72" opacity="0.95"/><circle cx="1814.4" cy="1321.9" r="1.4" fill="#3b2a72" opacity="0.74"/><circle cx="1804.1" cy="1104.6" r="1.6" fill="#3b2a72" opacity="0.91"/><circle cx="1560.8" cy="1422.3" r="1.9" fill="#3b2a72" opacity="0.76"/><circle cx="1629.3" cy="1227.5" r="1.8" fill="#3b2a72" opacity="0.73"/><circle cx="1813.7" cy="1320.0" r="1.7" fill="#3b2a72" opacity="0.67"/><circle cx="1627.3" cy="1202.3" r="1.5" fill="#3b2a72" opacity="0.62"/><circle cx="1610.0" cy="1158.7" r="1.7" fill="#3b2a72" opacity="0.86"/><circle cx="1450.4" cy="1388.3" r="1.4" fill="#3b2a72" opacity="0.82"/><circle cx="1662.4" cy="1314.1" r="1.4" fill="#3b2a72" opacity="0.77"/><circle cx="1635.7" cy="1268.9" r="1.4" fill="#3b2a72" opacity="0.70"/><circle cx="1821.0" cy="1189.0" r="1.8" fill="#3b2a72" opacity="0.63"/><circle cx="1447.5" cy="1185.4" r="1.7" fill="#3b2a72" opacity="0.94"/><circle cx="1458.6" cy="1133.7" r="1.7" fill="#3b2a72" opacity="0.83"/><circle cx="1571.1" cy="1168.9" r="1.6" fill="#2e2268" opacity="0.82"/><circle cx="1518.3" cy="1182.1" r="1.6" fill="#2e2268" opacity="0.80"/><circle cx="1547.4" cy="1170.4" r="2.2" fill="#2e2268" opacity="0.81"/><circle cx="1554.0" cy="1150.1" r="1.6" fill="#2e2268" opacity="0.80"/><circle cx="1561.6" cy="1188.5" r="2.0" fill="#2e2268" opacity="0.74"/><circle cx="1485.9" cy="1152.1" r="1.4" fill="#2e2268" opacity="0.78"/><circle cx="1467.2" cy="1177.0" r="1.5" fill="#2e2268" opacity="0.72"/><circle cx="1475.8" cy="1185.0" r="2.0" fill="#2e2268" opacity="0.98"/><circle cx="1582.6" cy="1175.7" r="2.2" fill="#2e2268" opacity="0.70"/><circle cx="1499.1" cy="1177.1" r="1.4" fill="#2e2268" opacity="0.94"/><circle cx="1492.5" cy="1164.6" r="1.7" fill="#2e2268" opacity="0.84"/><circle cx="1509.5" cy="1160.7" r="2.1" fill="#2e2268" opacity="0.74"/><circle cx="1511.1" cy="1161.0" r="1.5" fill="#2e2268" opacity="0.90"/><circle cx="1494.1" cy="1188.8" r="1.6" fill="#2e2268" opacity="0.95"/><circle cx="1475.3" cy="1179.7" r="1.4" fill="#2e2268" opacity="0.77"/><circle cx="1482.7" cy="1155.7" r="1.5" fill="#2e2268" opacity="0.83"/><circle cx="1492.7" cy="1182.4" r="1.8" fill="#2e2268" opacity="0.81"/><circle cx="1539.3" cy="1160.5" r="2.2" fill="#2e2268" opacity="0.97"/><circle cx="1512.3" cy="1191.8" r="2.0" fill="#2e2268" opacity="0.77"/><circle cx="1495.5" cy="1173.0" r="1.8" fill="#2e2268" opacity="0.72"/><circle cx="1522.4" cy="1148.9" r="1.5" fill="#2e2268" opacity="0.81"/><circle cx="1493.4" cy="1184.3" r="2.2" fill="#2e2268" opacity="0.99"/><circle cx="1482.9" cy="1186.1" r="2.3" fill="#2e2268" opacity="0.71"/><circle cx="1557.1" cy="1150.1" r="1.4" fill="#2e2268" opacity="0.76"/><circle cx="1520.3" cy="1169.1" r="2.2" fill="#2e2268" opacity="0.77"/><circle cx="1519.1" cy="1158.2" r="1.8" fill="#2e2268" opacity="0.90"/><circle cx="1510.9" cy="1180.5" r="1.9" fill="#2e2268" opacity="0.72"/><circle cx="1495.6" cy="1185.0" r="2.1" fill="#2e2268" opacity="0.75"/><circle cx="1477.6" cy="1182.4" r="2.3" fill="#2e2268" opacity="0.73"/><circle cx="1501.3" cy="1154.0" r="2.1" fill="#2e2268" opacity="0.92"/><circle cx="1523.9" cy="1183.4" r="1.3" fill="#2e2268" opacity="0.79"/><circle cx="1486.3" cy="1151.7" r="1.5" fill="#2e2268" opacity="0.97"/><circle cx="1537.3" cy="1193.8" r="1.7" fill="#2e2268" opacity="0.75"/><circle cx="1504.5" cy="1153.1" r="1.3" fill="#2e2268" opacity="0.82"/><circle cx="1514.9" cy="1168.7" r="2.0" fill="#2e2268" opacity="0.88"/><circle cx="1563.9" cy="1153.6" r="2.2" fill="#2e2268" opacity="0.86"/><circle cx="1504.6" cy="1166.3" r="1.9" fill="#2e2268" opacity="0.84"/><circle cx="1543.5" cy="1182.6" r="1.8" fill="#2e2268" opacity="0.80"/><circle cx="1536.4" cy="1175.3" r="1.4" fill="#2e2268" opacity="0.86"/><circle cx="1498.4" cy="1165.9" r="1.9" fill="#2e2268" opacity="0.90"/><circle cx="1508.6" cy="1171.4" r="1.5" fill="#2e2268" opacity="0.98"/><circle cx="1555.9" cy="1192.5" r="1.6" fill="#2e2268" opacity="0.90"/><circle cx="1547.9" cy="1169.1" r="1.8" fill="#2e2268" opacity="0.77"/><circle cx="1522.4" cy="1180.9" r="1.9" fill="#2e2268" opacity="0.90"/><circle cx="1501.2" cy="1171.5" r="1.7" fill="#2e2268" opacity="0.73"/><circle cx="1575.8" cy="1164.9" r="1.7" fill="#2e2268" opacity="0.79"/><circle cx="1514.4" cy="1167.0" r="2.2" fill="#2e2268" opacity="0.87"/><circle cx="1573.6" cy="1171.1" r="2.3" fill="#2e2268" opacity="0.91"/><circle cx="1552.6" cy="1162.4" r="1.5" fill="#2e2268" opacity="0.89"/><circle cx="1538.0" cy="1171.4" r="1.6" fill="#2e2268" opacity="0.96"/><circle cx="1532.9" cy="1198.2" r="1.6" fill="#2e2268" opacity="0.78"/><circle cx="1498.5" cy="1151.5" r="2.0" fill="#2e2268" opacity="0.96"/><circle cx="1529.0" cy="1173.3" r="1.7" fill="#2e2268" opacity="0.77"/><circle cx="1476.9" cy="1187.6" r="2.3" fill="#2e2268" opacity="0.99"/><circle cx="1527.8" cy="1152.9" r="1.9" fill="#2e2268" opacity="0.96"/><circle cx="1556.6" cy="1189.4" r="1.7" fill="#2e2268" opacity="0.77"/><circle cx="1549.9" cy="1165.3" r="2.3" fill="#2e2268" opacity="0.79"/><circle cx="1498.3" cy="1178.9" r="1.6" fill="#2e2268" opacity="0.78"/><circle cx="1528.8" cy="1147.7" r="1.8" fill="#2e2268" opacity="0.97"/><circle cx="1544.9" cy="1198.1" r="1.5" fill="#2e2268" opacity="0.90"/><circle cx="1563.9" cy="1162.2" r="1.5" fill="#2e2268" opacity="0.98"/><circle cx="1566.9" cy="1183.2" r="1.5" fill="#2e2268" opacity="0.89"/><circle cx="1542.9" cy="1178.9" r="2.3" fill="#2e2268" opacity="0.81"/><circle cx="1574.1" cy="1176.0" r="1.8" fill="#2e2268" opacity="0.80"/><circle cx="1569.1" cy="1156.3" r="1.4" fill="#2e2268" opacity="0.84"/><circle cx="1534.6" cy="1175.2" r="1.8" fill="#2e2268" opacity="0.82"/><circle cx="1480.2" cy="1156.5" r="2.2" fill="#2e2268" opacity="0.70"/><circle cx="1551.0" cy="1176.2" r="1.6" fill="#2e2268" opacity="0.89"/><circle cx="1505.8" cy="1185.5" r="1.9" fill="#2e2268" opacity="0.81"/><circle cx="1487.7" cy="1164.8" r="1.8" fill="#2e2268" opacity="0.70"/><circle cx="1782.7" cy="1260.1" r="1.5" fill="#2e2268" opacity="0.87"/><circle cx="1745.0" cy="1293.9" r="2.0" fill="#2e2268" opacity="0.77"/><circle cx="1779.2" cy="1259.4" r="1.8" fill="#2e2268" opacity="0.76"/><circle cx="1777.7" cy="1292.3" r="1.4" fill="#2e2268" opacity="0.99"/><circle cx="1766.0" cy="1274.2" r="1.6" fill="#2e2268" opacity="0.80"/><circle cx="1744.7" cy="1283.4" r="1.6" fill="#2e2268" opacity="0.80"/><circle cx="1771.2" cy="1271.4" r="1.3" fill="#2e2268" opacity="0.99"/><circle cx="1765.4" cy="1268.0" r="2.0" fill="#2e2268" opacity="0.72"/><circle cx="1751.1" cy="1294.6" r="1.7" fill="#2e2268" opacity="0.90"/><circle cx="1781.4" cy="1299.4" r="1.9" fill="#2e2268" opacity="0.80"/><circle cx="1755.1" cy="1280.7" r="1.8" fill="#2e2268" opacity="0.72"/><circle cx="1767.2" cy="1308.9" r="1.3" fill="#2e2268" opacity="0.71"/><circle cx="1752.6" cy="1257.0" r="1.9" fill="#2e2268" opacity="0.70"/><circle cx="1754.2" cy="1270.3" r="2.3" fill="#2e2268" opacity="0.83"/><circle cx="1767.6" cy="1302.3" r="2.1" fill="#2e2268" opacity="0.81"/><circle cx="1748.1" cy="1301.4" r="1.8" fill="#2e2268" opacity="0.87"/><circle cx="1756.7" cy="1292.6" r="1.7" fill="#2e2268" opacity="0.91"/><circle cx="1783.3" cy="1303.2" r="1.8" fill="#2e2268" opacity="0.76"/><circle cx="1745.8" cy="1267.4" r="1.4" fill="#2e2268" opacity="0.83"/><circle cx="1766.1" cy="1287.8" r="1.9" fill="#2e2268" opacity="0.94"/><circle cx="1789.2" cy="1276.8" r="2.0" fill="#2e2268" opacity="0.84"/><circle cx="1753.3" cy="1258.1" r="1.7" fill="#2e2268" opacity="0.94"/><circle cx="1766.7" cy="1276.5" r="1.8" fill="#2e2268" opacity="0.89"/><circle cx="1760.2" cy="1283.9" r="1.6" fill="#2e2268" opacity="0.95"/><circle cx="1780.0" cy="1290.5" r="1.7" fill="#2e2268" opacity="0.83"/><circle cx="1774.7" cy="1277.4" r="2.1" fill="#2e2268" opacity="0.81"/><circle cx="1781.1" cy="1279.0" r="1.9" fill="#2e2268" opacity="0.78"/><circle cx="1747.7" cy="1275.1" r="2.2" fill="#2e2268" opacity="0.79"/><circle cx="1771.3" cy="1310.7" r="1.7" fill="#2e2268" opacity="0.84"/><circle cx="1745.8" cy="1288.9" r="2.3" fill="#2e2268" opacity="0.91"/>
</g>
<path d="M1492.1 1101.0 L1563.3 1101.0 L1561.2 1120.1 L1552.4 1136.5 L1538.7 1148.9 L1525.0 1150.8 L1511.3 1142.0 L1499.0 1125.6Z" fill="#fdfbfd" filter="url(#vb)"/>
<path d="M1492.1 1101.0 L1563.3 1101.0 L1561.2 1120.1 L1552.4 1136.5 L1538.7 1148.9 L1525.0 1150.8 L1511.3 1142.0 L1499.0 1125.6Z" fill="#fefdfe" opacity="0.85"/>
<ellipse cx="1527.7" cy="1169.4" rx="5.0" ry="9.0" fill="#e8306a" opacity="0.80" filter="url(#nb)"/>
</g>
<rect x="421.4" y="1415.2" width="75.2" height="5.7" fill="#000"/>
<rect x="867.6" y="1415.2" width="75.6" height="5.7" fill="#000"/>
<rect x="1315.1" y="1415.2" width="75.7" height="5.7" fill="#000"/>
<rect x="1761.3" y="1415.2" width="76" height="5.7" fill="#000"/>
<text transform="translate(220.58 1089) scale(1.0212 1.0350)" font-size="37.5">OO+Vehicle</text>
<text transform="translate(659.31 1089) scale(1.0012 1.0350)" font-size="37.5">OO+AM281</text>
<text transform="translate(1080.48 1089) scale(1.0217 1.0350)" font-size="37.5">CCl<tspan font-size="23.25" dy="8.06">4</tspan><tspan dy="-8.06">+Vehicle</tspan></text>
<text transform="translate(1544.12 1089) scale(1.0052 1.0350)" font-size="37.5">CCl<tspan font-size="23.25" dy="8.06">4</tspan><tspan dy="-8.06">+AM281</tspan></text>
</svg></body></html>
